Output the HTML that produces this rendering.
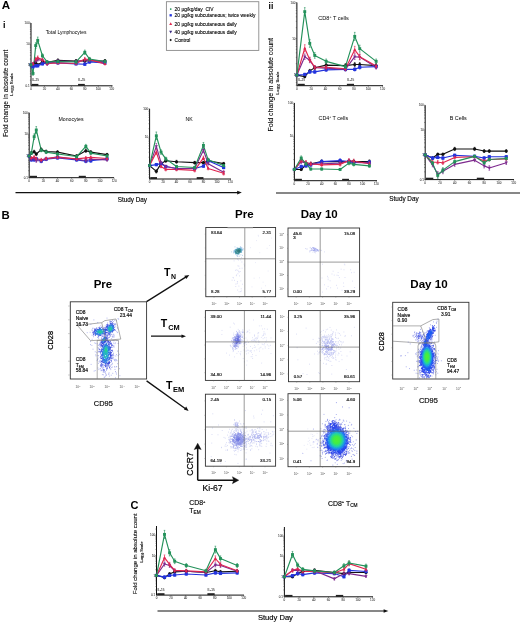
<!DOCTYPE html>
<html><head><meta charset="utf-8"><title>Figure</title>
<style>
html,body{margin:0;padding:0;background:#fff;}
body{width:520px;height:624px;overflow:hidden;}
svg{display:block;font-family:"Liberation Sans", sans-serif;filter:blur(0.3px);}
</style></head><body>
<svg width="520" height="624" viewBox="0 0 520 624" font-family='"Liberation Sans", sans-serif'>
<defs>
<filter id="soft" x="-5%" y="-5%" width="110%" height="110%"><feGaussianBlur stdDeviation="0.3"/></filter>
<radialGradient id="gblob"><stop offset="0" stop-color="#50f030"/><stop offset="0.28" stop-color="#40ec48"/><stop offset="0.48" stop-color="#22d8a0" stop-opacity="0.95"/><stop offset="0.66" stop-color="#1a98ea" stop-opacity="0.85"/><stop offset="0.84" stop-color="#2050f0" stop-opacity="0.45"/><stop offset="1" stop-color="#2040f0" stop-opacity="0"/></radialGradient>
<radialGradient id="gcore2"><stop offset="0" stop-color="#30e070"/><stop offset="0.5" stop-color="#20c0b0" stop-opacity="0.8"/><stop offset="1" stop-color="#2080e0" stop-opacity="0"/></radialGradient>
<radialGradient id="gcore"><stop offset="0" stop-color="#40e860"/><stop offset="0.45" stop-color="#28d890" stop-opacity="0.9"/><stop offset="0.8" stop-color="#1aa8e0" stop-opacity="0.5"/><stop offset="1" stop-color="#1a6ee8" stop-opacity="0"/></radialGradient>
</defs>
<rect width="520" height="624" fill="#fff"/>
<text x="1.80" y="9.20" font-size="11.6" text-anchor="start" font-weight="bold" fill="#000" >A</text>
<text x="2.90" y="27.80" font-size="9" text-anchor="start" font-weight="bold" fill="#000" >i</text>
<text x="268.50" y="9.20" font-size="8.6" text-anchor="start" font-weight="bold" fill="#000" >ii</text>
<text transform="translate(7.6 93.4) rotate(-90)" font-size="6.55" text-anchor="middle" stroke="#000" stroke-width="0.1">Fold change in absolute count</text>
<text transform="translate(13.2 84.5) rotate(-90)" font-size="4.3" text-anchor="middle" stroke="#000" stroke-width="0.12">Log<tspan font-size="2.8" dy="1">10</tspan><tspan dy="-1"> Scale</tspan></text>
<text transform="translate(273.2 84.8) rotate(-90)" font-size="7" text-anchor="middle" stroke="#000" stroke-width="0.1">Fold change in absolute count</text>
<text transform="translate(279.4 83) rotate(-90)" font-size="4.4" text-anchor="middle" stroke="#000" stroke-width="0.12">Log<tspan font-size="2.9" dy="1">10</tspan><tspan dy="-1"> Scale</tspan></text>
<rect x="166.4" y="1.7" width="92.4" height="48.7" fill="#fff" stroke="#8a8a8a" stroke-width="0.9"/>
<rect x="169.95" y="8.35" width="1.50" height="1.50" fill="#23915a"/>
<text x="174.60" y="10.85" font-size="4.9" text-anchor="start" fill="#000"  stroke="#000" stroke-width="0.098">20 µg/kg/day&#160;&#160;CIV</text>
<rect x="169.55" y="14.15" width="2.30" height="2.30" fill="#2233dd"/>
<text x="174.60" y="17.05" font-size="4.9" text-anchor="start" fill="#000"  stroke="#000" stroke-width="0.098">20 µg/kg subcutaneous; twice weekly</text>
<path d="M170.70 22.18L172.19 24.88L169.21 24.88Z" fill="#e0264f"/>
<text x="174.60" y="25.55" font-size="4.9" text-anchor="start" fill="#000"  stroke="#000" stroke-width="0.098">20 µg/kg subcutaneous daily</text>
<path d="M170.70 33.52L172.19 30.82L169.21 30.82Z" fill="#3a2a80"/>
<text x="174.60" y="33.65" font-size="4.9" text-anchor="start" fill="#000"  stroke="#000" stroke-width="0.098">40 µg/kg subcutaneous daily</text>
<path d="M170.7 38.75L171.95 40.00L170.7 41.25L169.45 40.00Z" fill="#111"/>
<text x="174.60" y="41.75" font-size="4.9" text-anchor="start" fill="#000"  stroke="#000" stroke-width="0.098">Control</text>
<path d="M31.00 23.00V85.80H112.50" stroke="#111" stroke-width="1" fill="none"/>
<path d="M29.90 23.00h1.1M29.90 44.20h1.1M29.90 37.82h1.1M29.90 34.09h1.1M29.90 31.44h1.1M29.90 29.38h1.1M29.90 27.70h1.1M29.90 26.28h1.1M29.90 25.05h1.1M29.90 23.97h1.1M29.90 65.40h1.1M29.90 59.02h1.1M29.90 55.29h1.1M29.90 52.64h1.1M29.90 50.58h1.1M29.90 48.90h1.1M29.90 47.48h1.1M29.90 46.25h1.1M29.90 45.17h1.1M29.90 80.22h1.1M29.90 76.49h1.1M29.90 73.84h1.1M29.90 71.78h1.1M29.90 70.10h1.1M29.90 68.68h1.1M29.90 67.45h1.1M29.90 66.37h1.1" stroke="#333" stroke-width="0.5"/>
<path d="M31.00 85.80v1.2M44.45 85.80v1.2M57.90 85.80v1.2M71.35 85.80v1.2M84.80 85.80v1.2M98.25 85.80v1.2M111.70 85.80v1.2" stroke="#333" stroke-width="0.5"/>
<text x="29.60" y="24.10" font-size="3" text-anchor="end" fill="#444"  stroke="#444" stroke-width="0.060">100</text>
<text x="29.60" y="45.30" font-size="3" text-anchor="end" fill="#444"  stroke="#444" stroke-width="0.060">10</text>
<text x="29.60" y="66.10" font-size="3" text-anchor="end" fill="#444"  stroke="#444" stroke-width="0.060">1</text>
<text x="29.60" y="86.90" font-size="3" text-anchor="end" fill="#444"  stroke="#444" stroke-width="0.060">0.1</text>
<text x="31.00" y="90.00" font-size="3" text-anchor="middle" fill="#444"  stroke="#444" stroke-width="0.060">0</text>
<text x="44.45" y="90.00" font-size="3" text-anchor="middle" fill="#444"  stroke="#444" stroke-width="0.060">20</text>
<text x="57.90" y="90.00" font-size="3" text-anchor="middle" fill="#444"  stroke="#444" stroke-width="0.060">40</text>
<text x="71.35" y="90.00" font-size="3" text-anchor="middle" fill="#444"  stroke="#444" stroke-width="0.060">60</text>
<text x="84.80" y="90.00" font-size="3" text-anchor="middle" fill="#444"  stroke="#444" stroke-width="0.060">80</text>
<text x="98.25" y="90.00" font-size="3" text-anchor="middle" fill="#444"  stroke="#444" stroke-width="0.060">100</text>
<text x="111.70" y="90.00" font-size="3" text-anchor="middle" fill="#444"  stroke="#444" stroke-width="0.060">120</text>
<rect x="31.67" y="83.90" width="6.72" height="1.9" fill="#222"/>
<text x="31.87" y="81.40" font-size="3.1" text-anchor="start" fill="#333"  stroke="#333" stroke-width="0.062">IL-15</text>
<rect x="78.07" y="83.90" width="6.72" height="1.9" fill="#222"/>
<text x="78.27" y="81.40" font-size="3.1" text-anchor="start" fill="#333"  stroke="#333" stroke-width="0.062">IL-15</text>
<path d="M31.00 64.81L33.02 64.81L35.71 62.88L37.73 64.81L42.43 61.92L47.14 62.31L57.90 60.38L76.06 60.96L84.80 60.96L89.51 60.96L104.97 60.96" stroke="#111111" stroke-width="1.15" fill="none" stroke-linejoin="round"/>
<path d="M31.00 64.81L33.02 66.73L35.71 65.77L37.73 65.77L42.43 63.85L47.14 62.88L57.90 62.88L76.06 63.85L84.80 64.23L89.51 61.92L104.97 62.88" stroke="#2233dd" stroke-width="1.15" fill="none" stroke-linejoin="round"/>
<path d="M31.00 64.81L33.02 63.85L35.71 60.96L37.73 59.62L42.43 60.38L47.14 64.23L57.90 60.96L76.06 61.54L84.80 60.38L89.51 60.00L104.97 61.92" stroke="#7e2a8e" stroke-width="1.15" fill="none" stroke-linejoin="round"/>
<path d="M31.00 64.81L33.02 63.85L35.71 59.04L37.73 57.69L42.43 59.62L47.14 63.46L57.90 62.88L76.06 63.46L84.80 59.04L89.51 59.62L104.97 63.85" stroke="#e0264f" stroke-width="1.15" fill="none" stroke-linejoin="round"/>
<path d="M31.00 64.81L33.02 73.46L35.71 45.58L37.73 40.38L42.43 55.77L47.14 61.92L57.90 61.54L76.06 61.92L84.80 52.31L89.51 59.04L104.97 61.54" stroke="#23915a" stroke-width="1.15" fill="none" stroke-linejoin="round"/>
<path d="M33.02 63.71V65.91M32.22 63.71h1.6M32.22 65.91h1.6M35.71 61.61V64.16M34.91 61.61h1.6M34.91 64.16h1.6M37.73 63.71V65.91M36.93 63.71h1.6M36.93 65.91h1.6M42.43 60.56V63.28M41.63 60.56h1.6M41.63 63.28h1.6M47.14 60.98V63.63M46.34 60.98h1.6M46.34 63.63h1.6M57.90 58.89V61.88M57.10 58.89h1.6M57.10 61.88h1.6M76.06 59.52V62.41M75.26 59.52h1.6M75.26 62.41h1.6M84.80 59.52V62.41M84.00 59.52h1.6M84.00 62.41h1.6M89.51 59.52V62.41M88.71 59.52h1.6M88.71 62.41h1.6M104.97 59.52V62.41M104.17 59.52h1.6M104.17 62.41h1.6" stroke="#111111" stroke-width="0.6" fill="none"/>
<circle cx="31.00" cy="64.81" r="1.59" fill="#111111"/>
<circle cx="33.02" cy="64.81" r="1.59" fill="#111111"/>
<circle cx="35.71" cy="62.88" r="1.59" fill="#111111"/>
<circle cx="37.73" cy="64.81" r="1.59" fill="#111111"/>
<circle cx="42.43" cy="61.92" r="1.59" fill="#111111"/>
<circle cx="47.14" cy="62.31" r="1.59" fill="#111111"/>
<circle cx="57.90" cy="60.38" r="1.59" fill="#111111"/>
<circle cx="76.06" cy="60.96" r="1.59" fill="#111111"/>
<circle cx="84.80" cy="60.96" r="1.59" fill="#111111"/>
<circle cx="89.51" cy="60.96" r="1.59" fill="#111111"/>
<circle cx="104.97" cy="60.96" r="1.59" fill="#111111"/>
<path d="M33.02 65.46V68.00M32.22 65.46h1.6M32.22 68.00h1.6M35.71 64.58V66.96M34.91 64.58h1.6M34.91 66.96h1.6M37.73 64.58V66.96M36.93 64.58h1.6M36.93 66.96h1.6M42.43 62.66V65.03M41.63 62.66h1.6M41.63 65.03h1.6M47.14 61.61V64.16M46.34 61.61h1.6M46.34 64.16h1.6M57.90 61.61V64.16M57.10 61.61h1.6M57.10 64.16h1.6M76.06 62.66V65.03M75.26 62.66h1.6M75.26 65.03h1.6M84.80 63.08V65.38M84.00 63.08h1.6M84.00 65.38h1.6M89.51 60.56V63.28M88.71 60.56h1.6M88.71 63.28h1.6M104.97 61.61V64.16M104.17 61.61h1.6M104.17 64.16h1.6" stroke="#2233dd" stroke-width="0.6" fill="none"/>
<rect x="29.41" y="63.21" width="3.19" height="3.19" fill="#2233dd"/>
<rect x="31.42" y="65.14" width="3.19" height="3.19" fill="#2233dd"/>
<rect x="34.11" y="64.17" width="3.19" height="3.19" fill="#2233dd"/>
<rect x="36.13" y="64.17" width="3.19" height="3.19" fill="#2233dd"/>
<rect x="40.84" y="62.25" width="3.19" height="3.19" fill="#2233dd"/>
<rect x="45.55" y="61.29" width="3.19" height="3.19" fill="#2233dd"/>
<rect x="56.30" y="61.29" width="3.19" height="3.19" fill="#2233dd"/>
<rect x="74.46" y="62.25" width="3.19" height="3.19" fill="#2233dd"/>
<rect x="83.20" y="62.64" width="3.19" height="3.19" fill="#2233dd"/>
<rect x="87.91" y="60.33" width="3.19" height="3.19" fill="#2233dd"/>
<rect x="103.38" y="61.29" width="3.19" height="3.19" fill="#2233dd"/>
<path d="M33.02 62.66V65.03M32.22 62.66h1.6M32.22 65.03h1.6M35.71 59.52V62.41M34.91 59.52h1.6M34.91 62.41h1.6M37.73 58.05V61.18M36.93 58.05h1.6M36.93 61.18h1.6M42.43 58.89V61.88M41.63 58.89h1.6M41.63 61.88h1.6M47.14 63.08V65.38M46.34 63.08h1.6M46.34 65.38h1.6M57.90 59.52V62.41M57.10 59.52h1.6M57.10 62.41h1.6M76.06 60.14V62.93M75.26 60.14h1.6M75.26 62.93h1.6M84.80 58.89V61.88M84.00 58.89h1.6M84.00 61.88h1.6M89.51 58.47V61.53M88.71 58.47h1.6M88.71 61.53h1.6M104.97 60.56V63.28M104.17 60.56h1.6M104.17 63.28h1.6" stroke="#7e2a8e" stroke-width="0.6" fill="none"/>
<path d="M31.00 66.55L32.59 63.65L29.41 63.65Z" fill="#7e2a8e"/>
<path d="M33.02 65.59L34.61 62.69L31.42 62.69Z" fill="#7e2a8e"/>
<path d="M35.71 62.70L37.30 59.80L34.11 59.80Z" fill="#7e2a8e"/>
<path d="M37.73 61.36L39.32 58.46L36.13 58.46Z" fill="#7e2a8e"/>
<path d="M42.43 62.12L44.03 59.22L40.84 59.22Z" fill="#7e2a8e"/>
<path d="M47.14 65.97L48.73 63.07L45.55 63.07Z" fill="#7e2a8e"/>
<path d="M57.90 62.70L59.49 59.80L56.30 59.80Z" fill="#7e2a8e"/>
<path d="M76.06 63.28L77.65 60.38L74.46 60.38Z" fill="#7e2a8e"/>
<path d="M84.80 62.12L86.39 59.22L83.20 59.22Z" fill="#7e2a8e"/>
<path d="M89.51 61.74L91.10 58.84L87.91 58.84Z" fill="#7e2a8e"/>
<path d="M104.97 63.66L106.57 60.76L103.38 60.76Z" fill="#7e2a8e"/>
<path d="M33.02 62.66V65.03M32.22 62.66h1.6M32.22 65.03h1.6M35.71 57.42V60.66M34.91 57.42h1.6M34.91 60.66h1.6M37.73 55.95V59.43M36.93 55.95h1.6M36.93 59.43h1.6M42.43 58.05V61.18M41.63 58.05h1.6M41.63 61.18h1.6M47.14 62.24V64.68M46.34 62.24h1.6M46.34 64.68h1.6M57.90 61.61V64.16M57.10 61.61h1.6M57.10 64.16h1.6M76.06 62.24V64.68M75.26 62.24h1.6M75.26 64.68h1.6M84.80 57.42V60.66M84.00 57.42h1.6M84.00 60.66h1.6M89.51 58.05V61.18M88.71 58.05h1.6M88.71 61.18h1.6M104.97 62.66V65.03M104.17 62.66h1.6M104.17 65.03h1.6" stroke="#e0264f" stroke-width="0.6" fill="none"/>
<path d="M31.00 63.07L32.59 65.97L29.41 65.97Z" fill="#e0264f"/>
<path d="M33.02 62.11L34.61 65.01L31.42 65.01Z" fill="#e0264f"/>
<path d="M35.71 57.30L37.30 60.20L34.11 60.20Z" fill="#e0264f"/>
<path d="M37.73 55.95L39.32 58.85L36.13 58.85Z" fill="#e0264f"/>
<path d="M42.43 57.88L44.03 60.78L40.84 60.78Z" fill="#e0264f"/>
<path d="M47.14 61.72L48.73 64.62L45.55 64.62Z" fill="#e0264f"/>
<path d="M57.90 61.14L59.49 64.04L56.30 64.04Z" fill="#e0264f"/>
<path d="M76.06 61.72L77.65 64.62L74.46 64.62Z" fill="#e0264f"/>
<path d="M84.80 57.30L86.39 60.20L83.20 60.20Z" fill="#e0264f"/>
<path d="M89.51 57.88L91.10 60.78L87.91 60.78Z" fill="#e0264f"/>
<path d="M104.97 62.11L106.57 65.01L103.38 65.01Z" fill="#e0264f"/>
<path d="M33.02 71.58V75.34M32.22 71.58h1.6M32.22 75.34h1.6M35.71 42.75V48.41M34.91 42.75h1.6M34.91 48.41h1.6M37.73 37.09V43.68M36.93 37.09h1.6M36.93 43.68h1.6M42.43 53.86V57.68M41.63 53.86h1.6M41.63 57.68h1.6M47.14 60.56V63.28M46.34 60.56h1.6M46.34 63.28h1.6M57.90 60.14V62.93M57.10 60.14h1.6M57.10 62.93h1.6M76.06 60.56V63.28M75.26 60.56h1.6M75.26 63.28h1.6M84.80 50.08V54.53M84.00 50.08h1.6M84.00 54.53h1.6M89.51 57.42V60.66M88.71 57.42h1.6M88.71 60.66h1.6M104.97 60.14V62.93M104.17 60.14h1.6M104.17 62.93h1.6" stroke="#23915a" stroke-width="0.6" fill="none"/>
<rect x="29.55" y="63.36" width="2.90" height="2.90" fill="#23915a"/>
<rect x="31.57" y="72.01" width="2.90" height="2.90" fill="#23915a"/>
<rect x="34.26" y="44.13" width="2.90" height="2.90" fill="#23915a"/>
<rect x="36.27" y="38.93" width="2.90" height="2.90" fill="#23915a"/>
<rect x="40.98" y="54.32" width="2.90" height="2.90" fill="#23915a"/>
<rect x="45.69" y="60.47" width="2.90" height="2.90" fill="#23915a"/>
<rect x="56.45" y="60.09" width="2.90" height="2.90" fill="#23915a"/>
<rect x="74.61" y="60.47" width="2.90" height="2.90" fill="#23915a"/>
<rect x="83.35" y="50.86" width="2.90" height="2.90" fill="#23915a"/>
<rect x="88.06" y="57.59" width="2.90" height="2.90" fill="#23915a"/>
<rect x="103.52" y="60.09" width="2.90" height="2.90" fill="#23915a"/>
<text x="66.00" y="34.00" font-size="4.95" text-anchor="middle">Total Lymphocytes</text>
<path d="M29.20 112.70V177.70H114.00" stroke="#111" stroke-width="1" fill="none"/>
<path d="M28.10 112.70h1.1M28.10 134.20h1.1M28.10 127.73h1.1M28.10 123.94h1.1M28.10 121.26h1.1M28.10 119.17h1.1M28.10 117.47h1.1M28.10 116.03h1.1M28.10 114.78h1.1M28.10 113.68h1.1M28.10 155.70h1.1M28.10 149.23h1.1M28.10 145.44h1.1M28.10 142.76h1.1M28.10 140.67h1.1M28.10 138.97h1.1M28.10 137.53h1.1M28.10 136.28h1.1M28.10 135.18h1.1M28.10 177.20h1.1M28.10 170.73h1.1M28.10 166.94h1.1M28.10 164.26h1.1M28.10 162.17h1.1M28.10 160.47h1.1M28.10 159.03h1.1M28.10 157.78h1.1M28.10 156.68h1.1" stroke="#333" stroke-width="0.5"/>
<path d="M29.20 177.70v1.2M43.36 177.70v1.2M57.52 177.70v1.2M71.68 177.70v1.2M85.84 177.70v1.2M100.00 177.70v1.2M114.16 177.70v1.2" stroke="#333" stroke-width="0.5"/>
<text x="27.80" y="113.80" font-size="3" text-anchor="end" fill="#444"  stroke="#444" stroke-width="0.060">100</text>
<text x="27.80" y="135.30" font-size="3" text-anchor="end" fill="#444"  stroke="#444" stroke-width="0.060">10</text>
<text x="27.80" y="157.10" font-size="3" text-anchor="end" fill="#444"  stroke="#444" stroke-width="0.060">1</text>
<text x="27.80" y="178.80" font-size="3" text-anchor="end" fill="#444"  stroke="#444" stroke-width="0.060">0.1</text>
<text x="29.20" y="181.90" font-size="3" text-anchor="middle" fill="#444"  stroke="#444" stroke-width="0.060">0</text>
<text x="43.36" y="181.90" font-size="3" text-anchor="middle" fill="#444"  stroke="#444" stroke-width="0.060">20</text>
<text x="57.52" y="181.90" font-size="3" text-anchor="middle" fill="#444"  stroke="#444" stroke-width="0.060">40</text>
<text x="71.68" y="181.90" font-size="3" text-anchor="middle" fill="#444"  stroke="#444" stroke-width="0.060">60</text>
<text x="85.84" y="181.90" font-size="3" text-anchor="middle" fill="#444"  stroke="#444" stroke-width="0.060">80</text>
<text x="100.00" y="181.90" font-size="3" text-anchor="middle" fill="#444"  stroke="#444" stroke-width="0.060">100</text>
<text x="114.16" y="181.90" font-size="3" text-anchor="middle" fill="#444"  stroke="#444" stroke-width="0.060">120</text>
<rect x="29.91" y="175.80" width="7.08" height="1.9" fill="#222"/>
<rect x="78.76" y="175.80" width="7.08" height="1.9" fill="#222"/>
<path d="M29.20 155.96L31.32 153.08L34.16 151.73L36.28 154.04L41.24 149.62L46.19 151.54L57.52 152.12L76.64 155.96L85.84 150.77L90.80 152.12L107.08 154.62" stroke="#111111" stroke-width="1.15" fill="none" stroke-linejoin="round"/>
<path d="M29.20 155.96L31.32 159.81L34.16 159.81L36.28 158.85L41.24 161.15L46.19 159.23L57.52 157.88L76.64 159.81L85.84 161.15L90.80 160.77L107.08 158.85" stroke="#2233dd" stroke-width="1.15" fill="none" stroke-linejoin="round"/>
<path d="M29.20 155.96L31.32 159.23L34.16 158.85L36.28 160.77L41.24 160.77L46.19 158.85L57.52 156.92L76.64 159.23L85.84 160.77L90.80 159.23L107.08 159.81" stroke="#7e2a8e" stroke-width="1.15" fill="none" stroke-linejoin="round"/>
<path d="M29.20 155.96L31.32 157.88L34.16 156.92L36.28 158.46L41.24 159.81L46.19 158.46L57.52 157.31L76.64 158.85L85.84 157.88L90.80 157.31L107.08 158.46" stroke="#e0264f" stroke-width="1.15" fill="none" stroke-linejoin="round"/>
<path d="M29.20 155.96L31.32 153.08L34.16 136.73L36.28 130.00L41.24 150.19L46.19 152.12L57.52 154.04L76.64 156.54L85.84 146.35L90.80 153.08L107.08 155.96" stroke="#23915a" stroke-width="1.15" fill="none" stroke-linejoin="round"/>
<path d="M31.32 151.72V154.44M30.52 151.72h1.6M30.52 154.44h1.6M34.16 150.25V153.21M33.36 150.25h1.6M33.36 153.21h1.6M36.28 152.77V155.31M35.48 152.77h1.6M35.48 155.31h1.6M41.24 147.94V151.29M40.44 147.94h1.6M40.44 151.29h1.6M46.19 150.04V153.04M45.39 150.04h1.6M45.39 153.04h1.6M57.52 150.67V153.56M56.72 150.67h1.6M56.72 153.56h1.6M76.64 154.86V157.06M75.84 154.86h1.6M75.84 157.06h1.6M85.84 149.20V152.34M85.04 149.20h1.6M85.04 152.34h1.6M90.80 150.67V153.56M90.00 150.67h1.6M90.00 153.56h1.6M107.08 153.39V155.84M106.28 153.39h1.6M106.28 155.84h1.6" stroke="#111111" stroke-width="0.6" fill="none"/>
<circle cx="29.20" cy="155.96" r="1.59" fill="#111111"/>
<circle cx="31.32" cy="153.08" r="1.59" fill="#111111"/>
<circle cx="34.16" cy="151.73" r="1.59" fill="#111111"/>
<circle cx="36.28" cy="154.04" r="1.59" fill="#111111"/>
<circle cx="41.24" cy="149.62" r="1.59" fill="#111111"/>
<circle cx="46.19" cy="151.54" r="1.59" fill="#111111"/>
<circle cx="57.52" cy="152.12" r="1.59" fill="#111111"/>
<circle cx="76.64" cy="155.96" r="1.59" fill="#111111"/>
<circle cx="85.84" cy="150.77" r="1.59" fill="#111111"/>
<circle cx="90.80" cy="152.12" r="1.59" fill="#111111"/>
<circle cx="107.08" cy="154.62" r="1.59" fill="#111111"/>
<path d="M31.32 158.36V161.25M30.52 158.36h1.6M30.52 161.25h1.6M34.16 158.36V161.25M33.36 158.36h1.6M33.36 161.25h1.6M36.28 157.49V160.21M35.48 157.49h1.6M35.48 160.21h1.6M41.24 159.59V162.72M40.44 159.59h1.6M40.44 162.72h1.6M46.19 157.84V160.62M45.39 157.84h1.6M45.39 160.62h1.6M57.52 156.61V159.16M56.72 156.61h1.6M56.72 159.16h1.6M76.64 158.36V161.25M75.84 158.36h1.6M75.84 161.25h1.6M85.84 159.59V162.72M85.04 159.59h1.6M85.04 162.72h1.6M90.80 159.24V162.30M90.00 159.24h1.6M90.00 162.30h1.6M107.08 157.49V160.21M106.28 157.49h1.6M106.28 160.21h1.6" stroke="#2233dd" stroke-width="0.6" fill="none"/>
<rect x="27.61" y="154.37" width="3.19" height="3.19" fill="#2233dd"/>
<rect x="29.73" y="158.21" width="3.19" height="3.19" fill="#2233dd"/>
<rect x="32.56" y="158.21" width="3.19" height="3.19" fill="#2233dd"/>
<rect x="34.69" y="157.25" width="3.19" height="3.19" fill="#2233dd"/>
<rect x="39.64" y="159.56" width="3.19" height="3.19" fill="#2233dd"/>
<rect x="44.60" y="157.64" width="3.19" height="3.19" fill="#2233dd"/>
<rect x="55.92" y="156.29" width="3.19" height="3.19" fill="#2233dd"/>
<rect x="75.04" y="158.21" width="3.19" height="3.19" fill="#2233dd"/>
<rect x="84.25" y="159.56" width="3.19" height="3.19" fill="#2233dd"/>
<rect x="89.20" y="159.17" width="3.19" height="3.19" fill="#2233dd"/>
<rect x="105.48" y="157.25" width="3.19" height="3.19" fill="#2233dd"/>
<path d="M31.32 157.84V160.62M30.52 157.84h1.6M30.52 160.62h1.6M34.16 157.49V160.21M33.36 157.49h1.6M33.36 160.21h1.6M36.28 159.24V162.30M35.48 159.24h1.6M35.48 162.30h1.6M41.24 159.24V162.30M40.44 159.24h1.6M40.44 162.30h1.6M46.19 157.49V160.21M45.39 157.49h1.6M45.39 160.21h1.6M57.52 155.74V158.11M56.72 155.74h1.6M56.72 158.11h1.6M76.64 157.84V160.62M75.84 157.84h1.6M75.84 160.62h1.6M85.84 159.24V162.30M85.04 159.24h1.6M85.04 162.30h1.6M90.80 157.84V160.62M90.00 157.84h1.6M90.00 160.62h1.6M107.08 158.36V161.25M106.28 158.36h1.6M106.28 161.25h1.6" stroke="#7e2a8e" stroke-width="0.6" fill="none"/>
<path d="M29.20 157.70L30.79 154.80L27.61 154.80Z" fill="#7e2a8e"/>
<path d="M31.32 160.97L32.92 158.07L29.73 158.07Z" fill="#7e2a8e"/>
<path d="M34.16 160.59L35.75 157.69L32.56 157.69Z" fill="#7e2a8e"/>
<path d="M36.28 162.51L37.88 159.61L34.69 159.61Z" fill="#7e2a8e"/>
<path d="M41.24 162.51L42.83 159.61L39.64 159.61Z" fill="#7e2a8e"/>
<path d="M46.19 160.59L47.79 157.69L44.60 157.69Z" fill="#7e2a8e"/>
<path d="M57.52 158.66L59.11 155.76L55.92 155.76Z" fill="#7e2a8e"/>
<path d="M76.64 160.97L78.23 158.07L75.04 158.07Z" fill="#7e2a8e"/>
<path d="M85.84 162.51L87.44 159.61L84.25 159.61Z" fill="#7e2a8e"/>
<path d="M90.80 160.97L92.39 158.07L89.20 158.07Z" fill="#7e2a8e"/>
<path d="M107.08 161.55L108.67 158.65L105.48 158.65Z" fill="#7e2a8e"/>
<path d="M31.32 156.61V159.16M30.52 156.61h1.6M30.52 159.16h1.6M34.16 155.74V158.11M33.36 155.74h1.6M33.36 158.11h1.6M36.28 157.14V159.79M35.48 157.14h1.6M35.48 159.79h1.6M41.24 158.36V161.25M40.44 158.36h1.6M40.44 161.25h1.6M46.19 157.14V159.79M45.39 157.14h1.6M45.39 159.79h1.6M57.52 156.09V158.53M56.72 156.09h1.6M56.72 158.53h1.6M76.64 157.49V160.21M75.84 157.49h1.6M75.84 160.21h1.6M85.84 156.61V159.16M85.04 156.61h1.6M85.04 159.16h1.6M90.80 156.09V158.53M90.00 156.09h1.6M90.00 158.53h1.6M107.08 157.14V159.79M106.28 157.14h1.6M106.28 159.79h1.6" stroke="#e0264f" stroke-width="0.6" fill="none"/>
<path d="M29.20 154.22L30.79 157.12L27.61 157.12Z" fill="#e0264f"/>
<path d="M31.32 156.14L32.92 159.04L29.73 159.04Z" fill="#e0264f"/>
<path d="M34.16 155.18L35.75 158.08L32.56 158.08Z" fill="#e0264f"/>
<path d="M36.28 156.72L37.88 159.62L34.69 159.62Z" fill="#e0264f"/>
<path d="M41.24 158.07L42.83 160.97L39.64 160.97Z" fill="#e0264f"/>
<path d="M46.19 156.72L47.79 159.62L44.60 159.62Z" fill="#e0264f"/>
<path d="M57.52 155.57L59.11 158.47L55.92 158.47Z" fill="#e0264f"/>
<path d="M76.64 157.11L78.23 160.01L75.04 160.01Z" fill="#e0264f"/>
<path d="M85.84 156.14L87.44 159.04L84.25 159.04Z" fill="#e0264f"/>
<path d="M90.80 155.57L92.39 158.47L89.20 158.47Z" fill="#e0264f"/>
<path d="M107.08 156.72L108.67 159.62L105.48 159.62Z" fill="#e0264f"/>
<path d="M31.32 151.72V154.44M30.52 151.72h1.6M30.52 154.44h1.6M34.16 133.90V139.56M33.36 133.90h1.6M33.36 139.56h1.6M36.28 126.56V133.44M35.48 126.56h1.6M35.48 133.44h1.6M41.24 148.57V151.81M40.44 148.57h1.6M40.44 151.81h1.6M46.19 150.67V153.56M45.39 150.67h1.6M45.39 153.56h1.6M57.52 152.77V155.31M56.72 152.77h1.6M56.72 155.31h1.6M76.64 155.39V157.69M75.84 155.39h1.6M75.84 157.69h1.6M85.84 144.38V148.31M85.04 144.38h1.6M85.04 148.31h1.6M90.80 151.72V154.44M90.00 151.72h1.6M90.00 154.44h1.6M107.08 154.86V157.06M106.28 154.86h1.6M106.28 157.06h1.6" stroke="#23915a" stroke-width="0.6" fill="none"/>
<rect x="27.75" y="154.51" width="2.90" height="2.90" fill="#23915a"/>
<rect x="29.87" y="151.63" width="2.90" height="2.90" fill="#23915a"/>
<rect x="32.71" y="135.28" width="2.90" height="2.90" fill="#23915a"/>
<rect x="34.83" y="128.55" width="2.90" height="2.90" fill="#23915a"/>
<rect x="39.79" y="148.74" width="2.90" height="2.90" fill="#23915a"/>
<rect x="44.74" y="150.67" width="2.90" height="2.90" fill="#23915a"/>
<rect x="56.07" y="152.59" width="2.90" height="2.90" fill="#23915a"/>
<rect x="75.19" y="155.09" width="2.90" height="2.90" fill="#23915a"/>
<rect x="84.39" y="144.90" width="2.90" height="2.90" fill="#23915a"/>
<rect x="89.35" y="151.63" width="2.90" height="2.90" fill="#23915a"/>
<rect x="105.63" y="154.51" width="2.90" height="2.90" fill="#23915a"/>
<text x="71.00" y="120.60" font-size="5.2" text-anchor="middle">Monocytes</text>
<path d="M149.60 108.80V179.00H231.00" stroke="#111" stroke-width="1" fill="none"/>
<path d="M148.50 108.80h1.1M148.50 137.30h1.1M148.50 128.72h1.1M148.50 123.70h1.1M148.50 120.14h1.1M148.50 117.38h1.1M148.50 115.12h1.1M148.50 113.21h1.1M148.50 111.56h1.1M148.50 110.10h1.1M148.50 165.80h1.1M148.50 157.22h1.1M148.50 152.20h1.1M148.50 148.64h1.1M148.50 145.88h1.1M148.50 143.62h1.1M148.50 141.71h1.1M148.50 140.06h1.1M148.50 138.60h1.1M148.50 177.14h1.1M148.50 174.38h1.1M148.50 172.12h1.1M148.50 170.21h1.1M148.50 168.56h1.1M148.50 167.10h1.1" stroke="#333" stroke-width="0.5"/>
<path d="M149.60 179.00v1.2M163.06 179.00v1.2M176.52 179.00v1.2M189.98 179.00v1.2M203.44 179.00v1.2M216.90 179.00v1.2M230.36 179.00v1.2" stroke="#333" stroke-width="0.5"/>
<text x="148.20" y="109.90" font-size="3" text-anchor="end" fill="#444"  stroke="#444" stroke-width="0.060">100</text>
<text x="148.20" y="138.40" font-size="3" text-anchor="end" fill="#444"  stroke="#444" stroke-width="0.060">10</text>
<text x="149.60" y="183.20" font-size="3" text-anchor="middle" fill="#444"  stroke="#444" stroke-width="0.060">0</text>
<text x="163.06" y="183.20" font-size="3" text-anchor="middle" fill="#444"  stroke="#444" stroke-width="0.060">20</text>
<text x="176.52" y="183.20" font-size="3" text-anchor="middle" fill="#444"  stroke="#444" stroke-width="0.060">40</text>
<text x="189.98" y="183.20" font-size="3" text-anchor="middle" fill="#444"  stroke="#444" stroke-width="0.060">60</text>
<text x="203.44" y="183.20" font-size="3" text-anchor="middle" fill="#444"  stroke="#444" stroke-width="0.060">80</text>
<text x="216.90" y="183.20" font-size="3" text-anchor="middle" fill="#444"  stroke="#444" stroke-width="0.060">100</text>
<text x="230.36" y="183.20" font-size="3" text-anchor="middle" fill="#444"  stroke="#444" stroke-width="0.060">120</text>
<rect x="150.27" y="177.10" width="6.73" height="1.9" fill="#222"/>
<rect x="196.71" y="177.10" width="6.73" height="1.9" fill="#222"/>
<path d="M149.60 165.58L156.33 171.35L161.04 163.65L165.75 160.77L176.52 161.73L194.69 162.69L203.44 162.69L208.15 160.77L223.63 163.65" stroke="#111111" stroke-width="1.15" fill="none" stroke-linejoin="round"/>
<path d="M149.60 165.58L156.33 164.62L161.04 163.65L165.75 166.54L176.52 168.46L194.69 168.46L203.44 166.15L208.15 160.77L223.63 167.50" stroke="#2233dd" stroke-width="1.15" fill="none" stroke-linejoin="round"/>
<path d="M149.60 165.58L156.33 146.35L161.04 162.69L165.75 166.54L176.52 168.46L194.69 168.46L203.44 150.19L208.15 163.65L223.63 172.31" stroke="#7e2a8e" stroke-width="1.15" fill="none" stroke-linejoin="round"/>
<path d="M149.60 165.58L156.33 152.12L161.04 166.54L165.75 169.42L176.52 169.42L194.69 170.38L203.44 157.88L208.15 168.46L223.63 173.27" stroke="#e0264f" stroke-width="1.15" fill="none" stroke-linejoin="round"/>
<path d="M149.60 165.58L156.33 135.77L161.04 152.12L165.75 158.85L176.52 166.54L194.69 167.50L203.44 145.38L208.15 159.81L223.63 165.58" stroke="#23915a" stroke-width="1.15" fill="none" stroke-linejoin="round"/>
<path d="M156.33 169.73V172.97M155.53 169.73h1.6M155.53 172.97h1.6M161.04 162.38V164.93M160.24 162.38h1.6M160.24 164.93h1.6M165.75 159.24V162.30M164.95 159.24h1.6M164.95 162.30h1.6M176.52 160.28V163.18M175.72 160.28h1.6M175.72 163.18h1.6M194.69 161.33V164.05M193.89 161.33h1.6M193.89 164.05h1.6M203.44 161.33V164.05M202.64 161.33h1.6M202.64 164.05h1.6M208.15 159.24V162.30M207.35 159.24h1.6M207.35 162.30h1.6M223.63 162.38V164.93M222.83 162.38h1.6M222.83 164.93h1.6" stroke="#111111" stroke-width="0.6" fill="none"/>
<circle cx="149.60" cy="165.58" r="1.59" fill="#111111"/>
<circle cx="156.33" cy="171.35" r="1.59" fill="#111111"/>
<circle cx="161.04" cy="163.65" r="1.59" fill="#111111"/>
<circle cx="165.75" cy="160.77" r="1.59" fill="#111111"/>
<circle cx="176.52" cy="161.73" r="1.59" fill="#111111"/>
<circle cx="194.69" cy="162.69" r="1.59" fill="#111111"/>
<circle cx="203.44" cy="162.69" r="1.59" fill="#111111"/>
<circle cx="208.15" cy="160.77" r="1.59" fill="#111111"/>
<circle cx="223.63" cy="163.65" r="1.59" fill="#111111"/>
<path d="M156.33 163.43V165.80M155.53 163.43h1.6M155.53 165.80h1.6M161.04 162.38V164.93M160.24 162.38h1.6M160.24 164.93h1.6M165.75 165.35V167.73M164.95 165.35h1.6M164.95 167.73h1.6M176.52 167.10V169.82M175.72 167.10h1.6M175.72 169.82h1.6M194.69 167.10V169.82M193.89 167.10h1.6M193.89 169.82h1.6M203.44 165.00V167.31M202.64 165.00h1.6M202.64 167.31h1.6M208.15 159.24V162.30M207.35 159.24h1.6M207.35 162.30h1.6M223.63 166.23V168.77M222.83 166.23h1.6M222.83 168.77h1.6" stroke="#2233dd" stroke-width="0.6" fill="none"/>
<rect x="148.00" y="163.98" width="3.19" height="3.19" fill="#2233dd"/>
<rect x="154.73" y="163.02" width="3.19" height="3.19" fill="#2233dd"/>
<rect x="159.45" y="162.06" width="3.19" height="3.19" fill="#2233dd"/>
<rect x="164.16" y="164.94" width="3.19" height="3.19" fill="#2233dd"/>
<rect x="174.92" y="166.87" width="3.19" height="3.19" fill="#2233dd"/>
<rect x="193.10" y="166.87" width="3.19" height="3.19" fill="#2233dd"/>
<rect x="201.84" y="164.56" width="3.19" height="3.19" fill="#2233dd"/>
<rect x="206.56" y="159.17" width="3.19" height="3.19" fill="#2233dd"/>
<rect x="222.03" y="165.91" width="3.19" height="3.19" fill="#2233dd"/>
<path d="M156.33 143.52V149.18M155.53 143.52h1.6M155.53 149.18h1.6M161.04 161.33V164.05M160.24 161.33h1.6M160.24 164.05h1.6M165.75 165.35V167.73M164.95 165.35h1.6M164.95 167.73h1.6M176.52 167.10V169.82M175.72 167.10h1.6M175.72 169.82h1.6M194.69 167.10V169.82M193.89 167.10h1.6M193.89 169.82h1.6M203.44 147.71V152.68M202.64 147.71h1.6M202.64 152.68h1.6M208.15 162.38V164.93M207.35 162.38h1.6M207.35 164.93h1.6M223.63 170.60V174.01M222.83 170.60h1.6M222.83 174.01h1.6" stroke="#7e2a8e" stroke-width="0.6" fill="none"/>
<path d="M149.60 167.32L151.19 164.42L148.00 164.42Z" fill="#7e2a8e"/>
<path d="M156.33 148.09L157.92 145.19L154.73 145.19Z" fill="#7e2a8e"/>
<path d="M161.04 164.43L162.64 161.53L159.45 161.53Z" fill="#7e2a8e"/>
<path d="M165.75 168.28L167.35 165.38L164.16 165.38Z" fill="#7e2a8e"/>
<path d="M176.52 170.20L178.11 167.30L174.92 167.30Z" fill="#7e2a8e"/>
<path d="M194.69 170.20L196.29 167.30L193.10 167.30Z" fill="#7e2a8e"/>
<path d="M203.44 151.93L205.03 149.03L201.84 149.03Z" fill="#7e2a8e"/>
<path d="M208.15 165.39L209.75 162.49L206.56 162.49Z" fill="#7e2a8e"/>
<path d="M223.63 174.05L225.22 171.15L222.03 171.15Z" fill="#7e2a8e"/>
<path d="M156.33 149.80V154.43M155.53 149.80h1.6M155.53 154.43h1.6M161.04 165.35V167.73M160.24 165.35h1.6M160.24 167.73h1.6M165.75 167.98V170.87M164.95 167.98h1.6M164.95 170.87h1.6M176.52 167.98V170.87M175.72 167.98h1.6M175.72 170.87h1.6M194.69 168.85V171.92M193.89 168.85h1.6M193.89 171.92h1.6M203.44 156.09V159.68M202.64 156.09h1.6M202.64 159.68h1.6M208.15 167.10V169.82M207.35 167.10h1.6M207.35 169.82h1.6M223.63 171.48V175.06M222.83 171.48h1.6M222.83 175.06h1.6" stroke="#e0264f" stroke-width="0.6" fill="none"/>
<path d="M149.60 163.84L151.19 166.74L148.00 166.74Z" fill="#e0264f"/>
<path d="M156.33 150.38L157.92 153.28L154.73 153.28Z" fill="#e0264f"/>
<path d="M161.04 164.80L162.64 167.70L159.45 167.70Z" fill="#e0264f"/>
<path d="M165.75 167.68L167.35 170.58L164.16 170.58Z" fill="#e0264f"/>
<path d="M176.52 167.68L178.11 170.58L174.92 170.58Z" fill="#e0264f"/>
<path d="M194.69 168.64L196.29 171.54L193.10 171.54Z" fill="#e0264f"/>
<path d="M203.44 156.14L205.03 159.04L201.84 159.04Z" fill="#e0264f"/>
<path d="M208.15 166.72L209.75 169.62L206.56 169.62Z" fill="#e0264f"/>
<path d="M223.63 171.53L225.22 174.43L222.03 174.43Z" fill="#e0264f"/>
<path d="M156.33 131.99V139.55M155.53 131.99h1.6M155.53 139.55h1.6M161.04 149.80V154.43M160.24 149.80h1.6M160.24 154.43h1.6M165.75 157.14V160.55M164.95 157.14h1.6M164.95 160.55h1.6M176.52 165.35V167.73M175.72 165.35h1.6M175.72 167.73h1.6M194.69 166.23V168.77M193.89 166.23h1.6M193.89 168.77h1.6M203.44 142.47V148.30M202.64 142.47h1.6M202.64 148.30h1.6M208.15 158.19V161.43M207.35 158.19h1.6M207.35 161.43h1.6M223.63 164.48V166.68M222.83 164.48h1.6M222.83 166.68h1.6" stroke="#23915a" stroke-width="0.6" fill="none"/>
<rect x="148.15" y="164.13" width="2.90" height="2.90" fill="#23915a"/>
<rect x="154.88" y="134.32" width="2.90" height="2.90" fill="#23915a"/>
<rect x="159.59" y="150.67" width="2.90" height="2.90" fill="#23915a"/>
<rect x="164.30" y="157.40" width="2.90" height="2.90" fill="#23915a"/>
<rect x="175.07" y="165.09" width="2.90" height="2.90" fill="#23915a"/>
<rect x="193.24" y="166.05" width="2.90" height="2.90" fill="#23915a"/>
<rect x="201.99" y="143.93" width="2.90" height="2.90" fill="#23915a"/>
<rect x="206.70" y="158.36" width="2.90" height="2.90" fill="#23915a"/>
<rect x="222.18" y="164.13" width="2.90" height="2.90" fill="#23915a"/>
<text x="189.00" y="120.60" font-size="5.2" text-anchor="middle">NK</text>
<path d="M296.90 2.50V85.70H383.00" stroke="#111" stroke-width="1" fill="none"/>
<path d="M295.80 2.50h1.1M295.80 38.50h1.1M295.80 27.66h1.1M295.80 21.32h1.1M295.80 16.83h1.1M295.80 13.34h1.1M295.80 10.49h1.1M295.80 8.08h1.1M295.80 5.99h1.1M295.80 4.15h1.1M295.80 74.50h1.1M295.80 63.66h1.1M295.80 57.32h1.1M295.80 52.83h1.1M295.80 49.34h1.1M295.80 46.49h1.1M295.80 44.08h1.1M295.80 41.99h1.1M295.80 40.15h1.1M295.80 85.34h1.1M295.80 82.49h1.1M295.80 80.08h1.1M295.80 77.99h1.1M295.80 76.15h1.1" stroke="#333" stroke-width="0.5"/>
<path d="M296.90 85.70v1.2M311.18 85.70v1.2M325.46 85.70v1.2M339.74 85.70v1.2M354.02 85.70v1.2M368.30 85.70v1.2M382.58 85.70v1.2" stroke="#333" stroke-width="0.5"/>
<text x="295.50" y="3.60" font-size="3" text-anchor="end" fill="#444"  stroke="#444" stroke-width="0.060">100</text>
<text x="295.50" y="39.60" font-size="3" text-anchor="end" fill="#444"  stroke="#444" stroke-width="0.060">10</text>
<text x="295.50" y="76.10" font-size="3" text-anchor="end" fill="#444"  stroke="#444" stroke-width="0.060">1</text>
<text x="296.90" y="89.90" font-size="3" text-anchor="middle" fill="#444"  stroke="#444" stroke-width="0.060">0</text>
<text x="311.18" y="89.90" font-size="3" text-anchor="middle" fill="#444"  stroke="#444" stroke-width="0.060">20</text>
<text x="325.46" y="89.90" font-size="3" text-anchor="middle" fill="#444"  stroke="#444" stroke-width="0.060">40</text>
<text x="339.74" y="89.90" font-size="3" text-anchor="middle" fill="#444"  stroke="#444" stroke-width="0.060">60</text>
<text x="354.02" y="89.90" font-size="3" text-anchor="middle" fill="#444"  stroke="#444" stroke-width="0.060">80</text>
<text x="368.30" y="89.90" font-size="3" text-anchor="middle" fill="#444"  stroke="#444" stroke-width="0.060">100</text>
<text x="382.58" y="89.90" font-size="3" text-anchor="middle" fill="#444"  stroke="#444" stroke-width="0.060">120</text>
<rect x="297.61" y="83.80" width="7.14" height="1.9" fill="#222"/>
<text x="297.81" y="81.30" font-size="3.1" text-anchor="start" fill="#333"  stroke="#333" stroke-width="0.062">IL-15</text>
<rect x="346.88" y="83.80" width="7.14" height="1.9" fill="#222"/>
<text x="347.08" y="81.30" font-size="3.1" text-anchor="start" fill="#333"  stroke="#333" stroke-width="0.062">IL-15</text>
<path d="M296.90 75.10L304.75 76.58L309.75 70.87L314.75 67.70L326.17 65.16L345.45 65.58L354.73 64.52L359.73 64.52L376.15 65.58" stroke="#111111" stroke-width="1.15" fill="none" stroke-linejoin="round"/>
<path d="M296.90 75.10L304.75 74.47L309.75 71.93L314.75 71.93L326.17 69.81L345.45 69.39L354.73 69.39L359.73 67.27L376.15 66.64" stroke="#2233dd" stroke-width="1.15" fill="none" stroke-linejoin="round"/>
<path d="M296.90 75.10L304.75 56.70L309.75 60.29L314.75 67.70L326.17 68.12L345.45 69.39L354.73 56.70L359.73 57.12L376.15 67.27" stroke="#7e2a8e" stroke-width="1.15" fill="none" stroke-linejoin="round"/>
<path d="M296.90 75.10L304.75 48.23L309.75 59.66L314.75 67.27L326.17 67.27L345.45 68.75L354.73 49.71L359.73 56.70L376.15 66.00" stroke="#e0264f" stroke-width="1.15" fill="none" stroke-linejoin="round"/>
<path d="M296.90 75.10L304.75 11.64L309.75 43.37L314.75 55.43L326.17 61.35L345.45 66.64L354.73 36.39L359.73 48.66L376.15 61.35" stroke="#23915a" stroke-width="1.15" fill="none" stroke-linejoin="round"/>
<path d="M304.75 75.35V77.81M303.95 75.35h1.6M303.95 77.81h1.6M309.75 69.39V72.35M308.95 69.39h1.6M308.95 72.35h1.6M314.75 65.93V69.46M313.95 65.93h1.6M313.95 69.46h1.6M326.17 63.16V67.15M325.37 63.16h1.6M325.37 67.15h1.6M345.45 63.62V67.54M344.65 63.62h1.6M344.65 67.54h1.6M354.73 62.47V66.57M353.93 62.47h1.6M353.93 66.57h1.6M359.73 62.47V66.57M358.93 62.47h1.6M358.93 66.57h1.6M376.15 63.62V67.54M375.35 63.62h1.6M375.35 67.54h1.6" stroke="#111111" stroke-width="0.6" fill="none"/>
<circle cx="296.90" cy="75.10" r="1.59" fill="#111111"/>
<circle cx="304.75" cy="76.58" r="1.59" fill="#111111"/>
<circle cx="309.75" cy="70.87" r="1.59" fill="#111111"/>
<circle cx="314.75" cy="67.70" r="1.59" fill="#111111"/>
<circle cx="326.17" cy="65.16" r="1.59" fill="#111111"/>
<circle cx="345.45" cy="65.58" r="1.59" fill="#111111"/>
<circle cx="354.73" cy="64.52" r="1.59" fill="#111111"/>
<circle cx="359.73" cy="64.52" r="1.59" fill="#111111"/>
<circle cx="376.15" cy="65.58" r="1.59" fill="#111111"/>
<path d="M304.75 73.31V75.62M303.95 73.31h1.6M303.95 75.62h1.6M309.75 70.54V73.31M308.95 70.54h1.6M308.95 73.31h1.6M314.75 70.54V73.31M313.95 70.54h1.6M313.95 73.31h1.6M326.17 68.24V71.39M325.37 68.24h1.6M325.37 71.39h1.6M345.45 67.77V71.00M344.65 67.77h1.6M344.65 71.00h1.6M354.73 67.77V71.00M353.93 67.77h1.6M353.93 71.00h1.6M359.73 65.47V69.08M358.93 65.47h1.6M358.93 69.08h1.6M376.15 64.78V68.50M375.35 64.78h1.6M375.35 68.50h1.6" stroke="#2233dd" stroke-width="0.6" fill="none"/>
<rect x="295.30" y="73.51" width="3.19" height="3.19" fill="#2233dd"/>
<rect x="303.16" y="72.87" width="3.19" height="3.19" fill="#2233dd"/>
<rect x="308.16" y="70.33" width="3.19" height="3.19" fill="#2233dd"/>
<rect x="313.15" y="70.33" width="3.19" height="3.19" fill="#2233dd"/>
<rect x="324.58" y="68.22" width="3.19" height="3.19" fill="#2233dd"/>
<rect x="343.86" y="67.79" width="3.19" height="3.19" fill="#2233dd"/>
<rect x="353.14" y="67.79" width="3.19" height="3.19" fill="#2233dd"/>
<rect x="358.14" y="65.68" width="3.19" height="3.19" fill="#2233dd"/>
<rect x="374.56" y="65.04" width="3.19" height="3.19" fill="#2233dd"/>
<path d="M304.75 53.94V59.45M303.95 53.94h1.6M303.95 59.45h1.6M309.75 57.86V62.72M308.95 57.86h1.6M308.95 62.72h1.6M314.75 65.93V69.46M313.95 65.93h1.6M313.95 69.46h1.6M326.17 66.39V69.85M325.37 66.39h1.6M325.37 69.85h1.6M345.45 67.77V71.00M344.65 67.77h1.6M344.65 71.00h1.6M354.73 53.94V59.45M353.93 53.94h1.6M353.93 59.45h1.6M359.73 54.40V59.84M358.93 54.40h1.6M358.93 59.84h1.6M376.15 65.47V69.08M375.35 65.47h1.6M375.35 69.08h1.6" stroke="#7e2a8e" stroke-width="0.6" fill="none"/>
<path d="M296.90 76.84L298.50 73.94L295.30 73.94Z" fill="#7e2a8e"/>
<path d="M304.75 58.44L306.35 55.54L303.16 55.54Z" fill="#7e2a8e"/>
<path d="M309.75 62.03L311.35 59.13L308.16 59.13Z" fill="#7e2a8e"/>
<path d="M314.75 69.44L316.35 66.54L313.15 66.54Z" fill="#7e2a8e"/>
<path d="M326.17 69.86L327.77 66.96L324.58 66.96Z" fill="#7e2a8e"/>
<path d="M345.45 71.13L347.05 68.23L343.86 68.23Z" fill="#7e2a8e"/>
<path d="M354.73 58.44L356.33 55.54L353.14 55.54Z" fill="#7e2a8e"/>
<path d="M359.73 58.86L361.33 55.96L358.14 55.96Z" fill="#7e2a8e"/>
<path d="M376.15 69.01L377.75 66.11L374.56 66.11Z" fill="#7e2a8e"/>
<path d="M304.75 44.72V51.75M303.95 44.72h1.6M303.95 51.75h1.6M309.75 57.17V62.15M308.95 57.17h1.6M308.95 62.15h1.6M314.75 65.47V69.08M313.95 65.47h1.6M313.95 69.08h1.6M326.17 65.47V69.08M325.37 65.47h1.6M325.37 69.08h1.6M345.45 67.08V70.43M344.65 67.08h1.6M344.65 70.43h1.6M354.73 46.33V53.10M353.93 46.33h1.6M353.93 53.10h1.6M359.73 53.94V59.45M358.93 53.94h1.6M358.93 59.45h1.6M376.15 64.09V67.92M375.35 64.09h1.6M375.35 67.92h1.6" stroke="#e0264f" stroke-width="0.6" fill="none"/>
<path d="M296.90 73.36L298.50 76.26L295.30 76.26Z" fill="#e0264f"/>
<path d="M304.75 46.49L306.35 49.39L303.16 49.39Z" fill="#e0264f"/>
<path d="M309.75 57.92L311.35 60.82L308.16 60.82Z" fill="#e0264f"/>
<path d="M314.75 65.53L316.35 68.43L313.15 68.43Z" fill="#e0264f"/>
<path d="M326.17 65.53L327.77 68.43L324.58 68.43Z" fill="#e0264f"/>
<path d="M345.45 67.01L347.05 69.91L343.86 69.91Z" fill="#e0264f"/>
<path d="M354.73 47.97L356.33 50.87L353.14 50.87Z" fill="#e0264f"/>
<path d="M359.73 54.96L361.33 57.86L358.14 57.86Z" fill="#e0264f"/>
<path d="M376.15 64.26L377.75 67.16L374.56 67.16Z" fill="#e0264f"/>
<path d="M304.75 7.64V15.64M303.95 7.64h1.6M303.95 15.64h1.6M309.75 39.41V47.32M308.95 39.41h1.6M308.95 47.32h1.6M314.75 52.56V58.30M313.95 52.56h1.6M313.95 58.30h1.6M326.17 59.01V63.69M325.37 59.01h1.6M325.37 63.69h1.6M345.45 64.78V68.50M344.65 64.78h1.6M344.65 68.50h1.6M354.73 32.39V40.39M353.93 32.39h1.6M353.93 40.39h1.6M359.73 45.18V52.14M358.93 45.18h1.6M358.93 52.14h1.6M376.15 59.01V63.69M375.35 59.01h1.6M375.35 63.69h1.6" stroke="#23915a" stroke-width="0.6" fill="none"/>
<rect x="295.45" y="73.65" width="2.90" height="2.90" fill="#23915a"/>
<rect x="303.30" y="10.19" width="2.90" height="2.90" fill="#23915a"/>
<rect x="308.30" y="41.92" width="2.90" height="2.90" fill="#23915a"/>
<rect x="313.30" y="53.98" width="2.90" height="2.90" fill="#23915a"/>
<rect x="324.72" y="59.90" width="2.90" height="2.90" fill="#23915a"/>
<rect x="344.00" y="65.19" width="2.90" height="2.90" fill="#23915a"/>
<rect x="353.28" y="34.94" width="2.90" height="2.90" fill="#23915a"/>
<rect x="358.28" y="47.21" width="2.90" height="2.90" fill="#23915a"/>
<rect x="374.70" y="59.90" width="2.90" height="2.90" fill="#23915a"/>
<text x="333.60" y="19.60" font-size="5.55" text-anchor="middle">CD8<tspan font-size="3.5" dy="-2">+</tspan><tspan dy="2"> T cells</tspan></text>
<path d="M294.40 103.00V180.70H377.00" stroke="#111" stroke-width="1" fill="none"/>
<path d="M293.30 103.00h1.1M293.30 136.30h1.1M293.30 126.28h1.1M293.30 120.41h1.1M293.30 116.25h1.1M293.30 113.02h1.1M293.30 110.39h1.1M293.30 108.16h1.1M293.30 106.23h1.1M293.30 104.52h1.1M293.30 169.60h1.1M293.30 159.58h1.1M293.30 153.71h1.1M293.30 149.55h1.1M293.30 146.32h1.1M293.30 143.69h1.1M293.30 141.46h1.1M293.30 139.53h1.1M293.30 137.82h1.1M293.30 179.62h1.1M293.30 176.99h1.1M293.30 174.76h1.1M293.30 172.83h1.1M293.30 171.12h1.1" stroke="#333" stroke-width="0.5"/>
<path d="M294.40 180.70v1.2M308.04 180.70v1.2M321.68 180.70v1.2M335.32 180.70v1.2M348.96 180.70v1.2M362.60 180.70v1.2M376.24 180.70v1.2" stroke="#333" stroke-width="0.5"/>
<text x="293.00" y="104.10" font-size="3" text-anchor="end" fill="#444"  stroke="#444" stroke-width="0.060">100</text>
<text x="293.00" y="137.40" font-size="3" text-anchor="end" fill="#444"  stroke="#444" stroke-width="0.060">10</text>
<text x="294.40" y="184.90" font-size="3" text-anchor="middle" fill="#444"  stroke="#444" stroke-width="0.060">0</text>
<text x="308.04" y="184.90" font-size="3" text-anchor="middle" fill="#444"  stroke="#444" stroke-width="0.060">20</text>
<text x="321.68" y="184.90" font-size="3" text-anchor="middle" fill="#444"  stroke="#444" stroke-width="0.060">40</text>
<text x="335.32" y="184.90" font-size="3" text-anchor="middle" fill="#444"  stroke="#444" stroke-width="0.060">60</text>
<text x="348.96" y="184.90" font-size="3" text-anchor="middle" fill="#444"  stroke="#444" stroke-width="0.060">80</text>
<text x="362.60" y="184.90" font-size="3" text-anchor="middle" fill="#444"  stroke="#444" stroke-width="0.060">100</text>
<text x="376.24" y="184.90" font-size="3" text-anchor="middle" fill="#444"  stroke="#444" stroke-width="0.060">120</text>
<rect x="295.08" y="178.80" width="6.82" height="1.9" fill="#222"/>
<rect x="342.14" y="178.80" width="6.82" height="1.9" fill="#222"/>
<path d="M294.40 169.47L301.22 169.47L305.99 164.81L310.77 163.75L321.68 161.64L340.09 161.64L348.96 161.64L353.73 161.64L369.42 161.64" stroke="#111111" stroke-width="1.15" fill="none" stroke-linejoin="round"/>
<path d="M294.40 169.47L301.22 166.50L305.99 165.87L310.77 164.81L321.68 161.64L340.09 160.58L348.96 161.64L353.73 162.70L369.42 162.27" stroke="#2233dd" stroke-width="1.15" fill="none" stroke-linejoin="round"/>
<path d="M294.40 169.47L301.22 161.64L305.99 163.12L310.77 164.39L321.68 163.75L340.09 163.12L348.96 161.00L353.73 162.27L369.42 163.12" stroke="#7e2a8e" stroke-width="1.15" fill="none" stroke-linejoin="round"/>
<path d="M294.40 169.47L301.22 160.58L305.99 162.27L310.77 163.75L321.68 164.81L340.09 164.39L348.96 160.58L353.73 161.00L369.42 163.75" stroke="#e0264f" stroke-width="1.15" fill="none" stroke-linejoin="round"/>
<path d="M294.40 169.47L301.22 158.04L305.99 163.75L310.77 169.04L321.68 169.04L340.09 169.47L348.96 163.12L353.73 164.39L369.42 165.87" stroke="#23915a" stroke-width="1.15" fill="none" stroke-linejoin="round"/>
<path d="M301.22 168.37V170.57M300.42 168.37h1.6M300.42 170.57h1.6M305.99 163.29V166.33M305.19 163.29h1.6M305.19 166.33h1.6M310.77 162.14V165.37M309.97 162.14h1.6M309.97 165.37h1.6M321.68 159.83V163.44M320.88 159.83h1.6M320.88 163.44h1.6M340.09 159.83V163.44M339.29 159.83h1.6M339.29 163.44h1.6M348.96 159.83V163.44M348.16 159.83h1.6M348.16 163.44h1.6M353.73 159.83V163.44M352.93 159.83h1.6M352.93 163.44h1.6M369.42 159.83V163.44M368.62 159.83h1.6M368.62 163.44h1.6" stroke="#111111" stroke-width="0.6" fill="none"/>
<circle cx="294.40" cy="169.47" r="1.59" fill="#111111"/>
<circle cx="301.22" cy="169.47" r="1.59" fill="#111111"/>
<circle cx="305.99" cy="164.81" r="1.59" fill="#111111"/>
<circle cx="310.77" cy="163.75" r="1.59" fill="#111111"/>
<circle cx="321.68" cy="161.64" r="1.59" fill="#111111"/>
<circle cx="340.09" cy="161.64" r="1.59" fill="#111111"/>
<circle cx="348.96" cy="161.64" r="1.59" fill="#111111"/>
<circle cx="353.73" cy="161.64" r="1.59" fill="#111111"/>
<circle cx="369.42" cy="161.64" r="1.59" fill="#111111"/>
<path d="M301.22 165.14V167.87M300.42 165.14h1.6M300.42 167.87h1.6M305.99 164.45V167.29M305.19 164.45h1.6M305.19 167.29h1.6M310.77 163.29V166.33M309.97 163.29h1.6M309.97 166.33h1.6M321.68 159.83V163.44M320.88 159.83h1.6M320.88 163.44h1.6M340.09 158.68V162.48M339.29 158.68h1.6M339.29 162.48h1.6M348.96 159.83V163.44M348.16 159.83h1.6M348.16 163.44h1.6M353.73 160.99V164.41M352.93 160.99h1.6M352.93 164.41h1.6M369.42 160.53V164.02M368.62 160.53h1.6M368.62 164.02h1.6" stroke="#2233dd" stroke-width="0.6" fill="none"/>
<rect x="292.80" y="167.87" width="3.19" height="3.19" fill="#2233dd"/>
<rect x="299.62" y="164.91" width="3.19" height="3.19" fill="#2233dd"/>
<rect x="304.40" y="164.27" width="3.19" height="3.19" fill="#2233dd"/>
<rect x="309.17" y="163.22" width="3.19" height="3.19" fill="#2233dd"/>
<rect x="320.08" y="160.04" width="3.19" height="3.19" fill="#2233dd"/>
<rect x="338.50" y="158.99" width="3.19" height="3.19" fill="#2233dd"/>
<rect x="347.36" y="160.04" width="3.19" height="3.19" fill="#2233dd"/>
<rect x="352.14" y="161.10" width="3.19" height="3.19" fill="#2233dd"/>
<rect x="367.82" y="160.68" width="3.19" height="3.19" fill="#2233dd"/>
<path d="M301.22 159.83V163.44M300.42 159.83h1.6M300.42 163.44h1.6M305.99 161.45V164.79M305.19 161.45h1.6M305.19 164.79h1.6M310.77 162.83V165.95M309.97 162.83h1.6M309.97 165.95h1.6M321.68 162.14V165.37M320.88 162.14h1.6M320.88 165.37h1.6M340.09 161.45V164.79M339.29 161.45h1.6M339.29 164.79h1.6M348.96 159.14V162.87M348.16 159.14h1.6M348.16 162.87h1.6M353.73 160.53V164.02M352.93 160.53h1.6M352.93 164.02h1.6M369.42 161.45V164.79M368.62 161.45h1.6M368.62 164.79h1.6" stroke="#7e2a8e" stroke-width="0.6" fill="none"/>
<path d="M294.40 171.21L296.00 168.31L292.80 168.31Z" fill="#7e2a8e"/>
<path d="M301.22 163.38L302.81 160.48L299.62 160.48Z" fill="#7e2a8e"/>
<path d="M305.99 164.86L307.59 161.96L304.40 161.96Z" fill="#7e2a8e"/>
<path d="M310.77 166.13L312.36 163.23L309.17 163.23Z" fill="#7e2a8e"/>
<path d="M321.68 165.49L323.27 162.59L320.08 162.59Z" fill="#7e2a8e"/>
<path d="M340.09 164.86L341.69 161.96L338.50 161.96Z" fill="#7e2a8e"/>
<path d="M348.96 162.74L350.56 159.84L347.36 159.84Z" fill="#7e2a8e"/>
<path d="M353.73 164.01L355.33 161.11L352.14 161.11Z" fill="#7e2a8e"/>
<path d="M369.42 164.86L371.01 161.96L367.82 161.96Z" fill="#7e2a8e"/>
<path d="M301.22 158.68V162.48M300.42 158.68h1.6M300.42 162.48h1.6M305.99 160.53V164.02M305.19 160.53h1.6M305.19 164.02h1.6M310.77 162.14V165.37M309.97 162.14h1.6M309.97 165.37h1.6M321.68 163.29V166.33M320.88 163.29h1.6M320.88 166.33h1.6M340.09 162.83V165.95M339.29 162.83h1.6M339.29 165.95h1.6M348.96 158.68V162.48M348.16 158.68h1.6M348.16 162.48h1.6M353.73 159.14V162.87M352.93 159.14h1.6M352.93 162.87h1.6M369.42 162.14V165.37M368.62 162.14h1.6M368.62 165.37h1.6" stroke="#e0264f" stroke-width="0.6" fill="none"/>
<path d="M294.40 167.73L296.00 170.63L292.80 170.63Z" fill="#e0264f"/>
<path d="M301.22 158.84L302.81 161.74L299.62 161.74Z" fill="#e0264f"/>
<path d="M305.99 160.53L307.59 163.43L304.40 163.43Z" fill="#e0264f"/>
<path d="M310.77 162.01L312.36 164.91L309.17 164.91Z" fill="#e0264f"/>
<path d="M321.68 163.07L323.27 165.97L320.08 165.97Z" fill="#e0264f"/>
<path d="M340.09 162.65L341.69 165.55L338.50 165.55Z" fill="#e0264f"/>
<path d="M348.96 158.84L350.56 161.74L347.36 161.74Z" fill="#e0264f"/>
<path d="M353.73 159.26L355.33 162.16L352.14 162.16Z" fill="#e0264f"/>
<path d="M369.42 162.01L371.01 164.91L367.82 164.91Z" fill="#e0264f"/>
<path d="M301.22 155.91V160.17M300.42 155.91h1.6M300.42 160.17h1.6M305.99 162.14V165.37M305.19 162.14h1.6M305.19 165.37h1.6M310.77 167.90V170.18M309.97 167.90h1.6M309.97 170.18h1.6M321.68 167.90V170.18M320.88 167.90h1.6M320.88 170.18h1.6M340.09 168.37V170.57M339.29 168.37h1.6M339.29 170.57h1.6M348.96 161.45V164.79M348.16 161.45h1.6M348.16 164.79h1.6M353.73 162.83V165.95M352.93 162.83h1.6M352.93 165.95h1.6M369.42 164.45V167.29M368.62 164.45h1.6M368.62 167.29h1.6" stroke="#23915a" stroke-width="0.6" fill="none"/>
<rect x="292.95" y="168.02" width="2.90" height="2.90" fill="#23915a"/>
<rect x="299.77" y="156.59" width="2.90" height="2.90" fill="#23915a"/>
<rect x="304.54" y="162.30" width="2.90" height="2.90" fill="#23915a"/>
<rect x="309.32" y="167.59" width="2.90" height="2.90" fill="#23915a"/>
<rect x="320.23" y="167.59" width="2.90" height="2.90" fill="#23915a"/>
<rect x="338.64" y="168.02" width="2.90" height="2.90" fill="#23915a"/>
<rect x="347.51" y="161.67" width="2.90" height="2.90" fill="#23915a"/>
<rect x="352.28" y="162.94" width="2.90" height="2.90" fill="#23915a"/>
<rect x="367.97" y="164.42" width="2.90" height="2.90" fill="#23915a"/>
<text x="333.30" y="120.40" font-size="5.4" text-anchor="middle">CD4<tspan font-size="3.3" dy="-2">+</tspan><tspan dy="2"> T cells</tspan></text>
<path d="M425.20 105.20V179.60H514.00" stroke="#111" stroke-width="1" fill="none"/>
<path d="M424.10 105.20h1.1M424.10 129.90h1.1M424.10 122.46h1.1M424.10 118.12h1.1M424.10 115.03h1.1M424.10 112.64h1.1M424.10 110.68h1.1M424.10 109.03h1.1M424.10 107.59h1.1M424.10 106.33h1.1M424.10 154.60h1.1M424.10 147.16h1.1M424.10 142.82h1.1M424.10 139.73h1.1M424.10 137.34h1.1M424.10 135.38h1.1M424.10 133.73h1.1M424.10 132.29h1.1M424.10 131.03h1.1M424.10 179.30h1.1M424.10 171.86h1.1M424.10 167.52h1.1M424.10 164.43h1.1M424.10 162.04h1.1M424.10 160.08h1.1M424.10 158.43h1.1M424.10 156.99h1.1M424.10 155.73h1.1" stroke="#333" stroke-width="0.5"/>
<path d="M425.20 179.60v1.2M439.94 179.60v1.2M454.68 179.60v1.2M469.42 179.60v1.2M484.16 179.60v1.2M498.90 179.60v1.2M513.64 179.60v1.2" stroke="#333" stroke-width="0.5"/>
<text x="423.80" y="106.30" font-size="3" text-anchor="end" fill="#444"  stroke="#444" stroke-width="0.060">100</text>
<text x="423.80" y="131.00" font-size="3" text-anchor="end" fill="#444"  stroke="#444" stroke-width="0.060">10</text>
<text x="423.80" y="156.00" font-size="3" text-anchor="end" fill="#444"  stroke="#444" stroke-width="0.060">1</text>
<text x="423.80" y="180.70" font-size="3" text-anchor="end" fill="#444"  stroke="#444" stroke-width="0.060">0.1</text>
<text x="425.20" y="183.80" font-size="3" text-anchor="middle" fill="#444"  stroke="#444" stroke-width="0.060">0</text>
<text x="439.94" y="183.80" font-size="3" text-anchor="middle" fill="#444"  stroke="#444" stroke-width="0.060">20</text>
<text x="454.68" y="183.80" font-size="3" text-anchor="middle" fill="#444"  stroke="#444" stroke-width="0.060">40</text>
<text x="469.42" y="183.80" font-size="3" text-anchor="middle" fill="#444"  stroke="#444" stroke-width="0.060">60</text>
<text x="484.16" y="183.80" font-size="3" text-anchor="middle" fill="#444"  stroke="#444" stroke-width="0.060">80</text>
<text x="498.90" y="183.80" font-size="3" text-anchor="middle" fill="#444"  stroke="#444" stroke-width="0.060">100</text>
<text x="513.64" y="183.80" font-size="3" text-anchor="middle" fill="#444"  stroke="#444" stroke-width="0.060">120</text>
<rect x="425.94" y="177.70" width="7.37" height="1.9" fill="#222"/>
<rect x="476.79" y="177.70" width="7.37" height="1.9" fill="#222"/>
<path d="M425.20 154.87L432.57 158.04L437.73 154.23L442.89 154.23L454.68 148.95L474.58 148.95L484.16 151.06L489.32 151.06L506.27 151.06" stroke="#111111" stroke-width="1.15" fill="none" stroke-linejoin="round"/>
<path d="M425.20 154.87L432.57 158.04L437.73 157.41L442.89 158.04L454.68 155.29L474.58 156.35L484.16 158.04L489.32 156.77L506.27 156.77" stroke="#2233dd" stroke-width="1.15" fill="none" stroke-linejoin="round"/>
<path d="M425.20 154.87L432.57 164.81L437.73 174.33L442.89 171.16L454.68 164.39L474.58 160.16L484.16 165.87L489.32 167.98L506.27 162.70" stroke="#7e2a8e" stroke-width="1.15" fill="none" stroke-linejoin="round"/>
<path d="M425.20 154.87L432.57 162.27L437.73 162.27L442.89 162.70L454.68 157.41L474.58 156.77L484.16 161.00L489.32 159.52L506.27 158.89" stroke="#e0264f" stroke-width="1.15" fill="none" stroke-linejoin="round"/>
<path d="M425.20 154.87L432.57 163.12L437.73 175.39L442.89 170.10L454.68 161.64L474.58 156.35L484.16 162.70L489.32 159.52L506.27 158.47" stroke="#23915a" stroke-width="1.15" fill="none" stroke-linejoin="round"/>
<path d="M432.57 156.66V159.43M431.77 156.66h1.6M431.77 159.43h1.6M437.73 153.08V155.39M436.93 153.08h1.6M436.93 155.39h1.6M442.89 153.08V155.39M442.09 153.08h1.6M442.09 155.39h1.6M454.68 147.31V150.58M453.88 147.31h1.6M453.88 150.58h1.6M474.58 147.31V150.58M473.78 147.31h1.6M473.78 150.58h1.6M484.16 149.62V152.50M483.36 149.62h1.6M483.36 152.50h1.6M489.32 149.62V152.50M488.52 149.62h1.6M488.52 152.50h1.6M506.27 149.62V152.50M505.47 149.62h1.6M505.47 152.50h1.6" stroke="#111111" stroke-width="0.6" fill="none"/>
<circle cx="425.20" cy="154.87" r="1.59" fill="#111111"/>
<circle cx="432.57" cy="158.04" r="1.59" fill="#111111"/>
<circle cx="437.73" cy="154.23" r="1.59" fill="#111111"/>
<circle cx="442.89" cy="154.23" r="1.59" fill="#111111"/>
<circle cx="454.68" cy="148.95" r="1.59" fill="#111111"/>
<circle cx="474.58" cy="148.95" r="1.59" fill="#111111"/>
<circle cx="484.16" cy="151.06" r="1.59" fill="#111111"/>
<circle cx="489.32" cy="151.06" r="1.59" fill="#111111"/>
<circle cx="506.27" cy="151.06" r="1.59" fill="#111111"/>
<path d="M432.57 156.66V159.43M431.77 156.66h1.6M431.77 159.43h1.6M437.73 156.08V158.74M436.93 156.08h1.6M436.93 158.74h1.6M442.89 156.66V159.43M442.09 156.66h1.6M442.09 159.43h1.6M454.68 154.15V156.43M453.88 154.15h1.6M453.88 156.43h1.6M474.58 155.12V157.58M473.78 155.12h1.6M473.78 157.58h1.6M484.16 156.66V159.43M483.36 156.66h1.6M483.36 159.43h1.6M489.32 155.50V158.04M488.52 155.50h1.6M488.52 158.04h1.6M506.27 155.50V158.04M505.47 155.50h1.6M505.47 158.04h1.6" stroke="#2233dd" stroke-width="0.6" fill="none"/>
<rect x="423.60" y="153.27" width="3.19" height="3.19" fill="#2233dd"/>
<rect x="430.97" y="156.45" width="3.19" height="3.19" fill="#2233dd"/>
<rect x="436.13" y="155.81" width="3.19" height="3.19" fill="#2233dd"/>
<rect x="441.29" y="156.45" width="3.19" height="3.19" fill="#2233dd"/>
<rect x="453.08" y="153.70" width="3.19" height="3.19" fill="#2233dd"/>
<rect x="472.98" y="154.75" width="3.19" height="3.19" fill="#2233dd"/>
<rect x="482.56" y="156.45" width="3.19" height="3.19" fill="#2233dd"/>
<rect x="487.72" y="155.18" width="3.19" height="3.19" fill="#2233dd"/>
<rect x="504.67" y="155.18" width="3.19" height="3.19" fill="#2233dd"/>
<path d="M432.57 162.82V166.81M431.77 162.82h1.6M431.77 166.81h1.6M437.73 171.48V177.18M436.93 171.48h1.6M436.93 177.18h1.6M442.89 168.59V173.72M442.09 168.59h1.6M442.09 173.72h1.6M454.68 162.43V166.35M453.88 162.43h1.6M453.88 166.35h1.6M474.58 158.58V161.73M473.78 158.58h1.6M473.78 161.73h1.6M484.16 163.78V167.96M483.36 163.78h1.6M483.36 167.96h1.6M489.32 165.70V170.27M488.52 165.70h1.6M488.52 170.27h1.6M506.27 160.89V164.50M505.47 160.89h1.6M505.47 164.50h1.6" stroke="#7e2a8e" stroke-width="0.6" fill="none"/>
<path d="M425.20 156.61L426.80 153.71L423.60 153.71Z" fill="#7e2a8e"/>
<path d="M432.57 166.55L434.17 163.65L430.97 163.65Z" fill="#7e2a8e"/>
<path d="M437.73 176.07L439.32 173.17L436.13 173.17Z" fill="#7e2a8e"/>
<path d="M442.89 172.90L444.48 170.00L441.29 170.00Z" fill="#7e2a8e"/>
<path d="M454.68 166.13L456.28 163.23L453.08 163.23Z" fill="#7e2a8e"/>
<path d="M474.58 161.90L476.17 159.00L472.98 159.00Z" fill="#7e2a8e"/>
<path d="M484.16 167.61L485.75 164.71L482.56 164.71Z" fill="#7e2a8e"/>
<path d="M489.32 169.72L490.91 166.82L487.72 166.82Z" fill="#7e2a8e"/>
<path d="M506.27 164.44L507.87 161.54L504.67 161.54Z" fill="#7e2a8e"/>
<path d="M432.57 160.51V164.04M431.77 160.51h1.6M431.77 164.04h1.6M437.73 160.51V164.04M436.93 160.51h1.6M436.93 164.04h1.6M442.89 160.89V164.50M442.09 160.89h1.6M442.09 164.50h1.6M454.68 156.08V158.74M453.88 156.08h1.6M453.88 158.74h1.6M474.58 155.50V158.04M473.78 155.50h1.6M473.78 158.04h1.6M484.16 159.35V162.66M483.36 159.35h1.6M483.36 162.66h1.6M489.32 158.00V161.04M488.52 158.00h1.6M488.52 161.04h1.6M506.27 157.43V160.35M505.47 157.43h1.6M505.47 160.35h1.6" stroke="#e0264f" stroke-width="0.6" fill="none"/>
<path d="M425.20 153.13L426.80 156.03L423.60 156.03Z" fill="#e0264f"/>
<path d="M432.57 160.53L434.17 163.43L430.97 163.43Z" fill="#e0264f"/>
<path d="M437.73 160.53L439.32 163.43L436.13 163.43Z" fill="#e0264f"/>
<path d="M442.89 160.96L444.48 163.86L441.29 163.86Z" fill="#e0264f"/>
<path d="M454.68 155.67L456.28 158.57L453.08 158.57Z" fill="#e0264f"/>
<path d="M474.58 155.03L476.17 157.93L472.98 157.93Z" fill="#e0264f"/>
<path d="M484.16 159.26L485.75 162.16L482.56 162.16Z" fill="#e0264f"/>
<path d="M489.32 157.78L490.91 160.68L487.72 160.68Z" fill="#e0264f"/>
<path d="M506.27 157.15L507.87 160.05L504.67 160.05Z" fill="#e0264f"/>
<path d="M432.57 161.28V164.96M431.77 161.28h1.6M431.77 164.96h1.6M437.73 172.44V178.34M436.93 172.44h1.6M436.93 178.34h1.6M442.89 167.63V172.57M442.09 167.63h1.6M442.09 172.57h1.6M454.68 159.93V163.35M453.88 159.93h1.6M453.88 163.35h1.6M474.58 155.12V157.58M473.78 155.12h1.6M473.78 157.58h1.6M484.16 160.89V164.50M483.36 160.89h1.6M483.36 164.50h1.6M489.32 158.00V161.04M488.52 158.00h1.6M488.52 161.04h1.6M506.27 157.04V159.89M505.47 157.04h1.6M505.47 159.89h1.6" stroke="#23915a" stroke-width="0.6" fill="none"/>
<rect x="423.75" y="153.42" width="2.90" height="2.90" fill="#23915a"/>
<rect x="431.12" y="161.67" width="2.90" height="2.90" fill="#23915a"/>
<rect x="436.28" y="173.94" width="2.90" height="2.90" fill="#23915a"/>
<rect x="441.44" y="168.65" width="2.90" height="2.90" fill="#23915a"/>
<rect x="453.23" y="160.19" width="2.90" height="2.90" fill="#23915a"/>
<rect x="473.13" y="154.90" width="2.90" height="2.90" fill="#23915a"/>
<rect x="482.71" y="161.25" width="2.90" height="2.90" fill="#23915a"/>
<rect x="487.87" y="158.07" width="2.90" height="2.90" fill="#23915a"/>
<rect x="504.82" y="157.02" width="2.90" height="2.90" fill="#23915a"/>
<text x="458.20" y="120.40" font-size="5.4" text-anchor="middle">B Cells</text>
<path d="M156.50 526.00V595.10H244.00" stroke="#111" stroke-width="1" fill="none"/>
<path d="M155.40 535.20h1.1M155.40 529.09h1.1M155.40 555.50h1.1M155.40 549.39h1.1M155.40 545.81h1.1M155.40 543.28h1.1M155.40 541.31h1.1M155.40 539.70h1.1M155.40 538.34h1.1M155.40 537.17h1.1M155.40 536.13h1.1M155.40 575.80h1.1M155.40 569.69h1.1M155.40 566.11h1.1M155.40 563.58h1.1M155.40 561.61h1.1M155.40 560.00h1.1M155.40 558.64h1.1M155.40 557.47h1.1M155.40 556.43h1.1M155.40 589.99h1.1M155.40 586.41h1.1M155.40 583.88h1.1M155.40 581.91h1.1M155.40 580.30h1.1M155.40 578.94h1.1M155.40 577.77h1.1M155.40 576.73h1.1" stroke="#333" stroke-width="0.5"/>
<path d="M156.50 595.10v1.2M171.04 595.10v1.2M185.58 595.10v1.2M200.12 595.10v1.2M214.66 595.10v1.2M229.20 595.10v1.2M243.74 595.10v1.2" stroke="#333" stroke-width="0.5"/>
<text x="155.10" y="536.30" font-size="3" text-anchor="end" fill="#444"  stroke="#444" stroke-width="0.060">100</text>
<text x="155.10" y="556.60" font-size="3" text-anchor="end" fill="#444"  stroke="#444" stroke-width="0.060">10</text>
<text x="155.10" y="576.50" font-size="3" text-anchor="end" fill="#444"  stroke="#444" stroke-width="0.060">1</text>
<text x="155.10" y="596.20" font-size="3" text-anchor="end" fill="#444"  stroke="#444" stroke-width="0.060">0.1</text>
<text x="156.50" y="599.30" font-size="3" text-anchor="middle" fill="#444"  stroke="#444" stroke-width="0.060">0</text>
<text x="171.04" y="599.30" font-size="3" text-anchor="middle" fill="#444"  stroke="#444" stroke-width="0.060">20</text>
<text x="185.58" y="599.30" font-size="3" text-anchor="middle" fill="#444"  stroke="#444" stroke-width="0.060">40</text>
<text x="200.12" y="599.30" font-size="3" text-anchor="middle" fill="#444"  stroke="#444" stroke-width="0.060">60</text>
<text x="214.66" y="599.30" font-size="3" text-anchor="middle" fill="#444"  stroke="#444" stroke-width="0.060">80</text>
<text x="229.20" y="599.30" font-size="3" text-anchor="middle" fill="#444"  stroke="#444" stroke-width="0.060">100</text>
<text x="243.74" y="599.30" font-size="3" text-anchor="middle" fill="#444"  stroke="#444" stroke-width="0.060">120</text>
<rect x="157.23" y="593.20" width="7.27" height="1.9" fill="#222"/>
<text x="157.43" y="590.70" font-size="3.1" text-anchor="start" fill="#333"  stroke="#333" stroke-width="0.062">IL-15</text>
<rect x="207.39" y="593.20" width="7.27" height="1.9" fill="#222"/>
<text x="207.59" y="590.70" font-size="3.1" text-anchor="start" fill="#333"  stroke="#333" stroke-width="0.062">IL-15</text>
<path d="M156.50 575.43L164.50 577.54L169.59 573.95L174.68 571.83L186.31 571.20L205.94 572.46L215.39 570.77L220.48 571.83L237.20 571.20" stroke="#111111" stroke-width="1.15" fill="none" stroke-linejoin="round"/>
<path d="M156.50 575.43L164.50 577.12L169.59 575.43L174.68 575.00L186.31 573.95L205.94 575.00L215.39 572.89L220.48 573.31L237.20 572.89" stroke="#2233dd" stroke-width="1.15" fill="none" stroke-linejoin="round"/>
<path d="M156.50 575.43L164.50 564.00L169.59 565.48L174.68 570.77L186.31 571.20L205.94 572.46L215.39 564.85L220.48 565.48L237.20 571.20" stroke="#7e2a8e" stroke-width="1.15" fill="none" stroke-linejoin="round"/>
<path d="M156.50 575.43L164.50 557.66L169.59 564.43L174.68 570.35L186.31 570.77L205.94 571.83L215.39 558.50L220.48 564.43L237.20 570.77" stroke="#e0264f" stroke-width="1.15" fill="none" stroke-linejoin="round"/>
<path d="M156.50 575.43L164.50 534.39L169.59 552.79L174.68 561.25L186.31 565.48L205.94 570.77L215.39 549.62L220.48 558.50L237.20 565.48" stroke="#23915a" stroke-width="1.15" fill="none" stroke-linejoin="round"/>
<path d="M164.50 576.25V578.83M163.70 576.25h1.6M163.70 578.83h1.6M169.59 572.71V575.18M168.79 572.71h1.6M168.79 575.18h1.6M174.68 570.41V573.25M173.88 570.41h1.6M173.88 573.25h1.6M186.31 569.71V572.68M185.51 569.71h1.6M185.51 572.68h1.6M205.94 571.10V573.83M205.14 571.10h1.6M205.14 573.83h1.6M215.39 569.25V572.29M214.59 569.25h1.6M214.59 572.29h1.6M220.48 570.41V573.25M219.68 570.41h1.6M219.68 573.25h1.6M237.20 569.71V572.68M236.40 569.71h1.6M236.40 572.68h1.6" stroke="#111111" stroke-width="0.6" fill="none"/>
<circle cx="156.50" cy="575.43" r="1.59" fill="#111111"/>
<circle cx="164.50" cy="577.54" r="1.59" fill="#111111"/>
<circle cx="169.59" cy="573.95" r="1.59" fill="#111111"/>
<circle cx="174.68" cy="571.83" r="1.59" fill="#111111"/>
<circle cx="186.31" cy="571.20" r="1.59" fill="#111111"/>
<circle cx="205.94" cy="572.46" r="1.59" fill="#111111"/>
<circle cx="215.39" cy="570.77" r="1.59" fill="#111111"/>
<circle cx="220.48" cy="571.83" r="1.59" fill="#111111"/>
<circle cx="237.20" cy="571.20" r="1.59" fill="#111111"/>
<path d="M164.50 575.87V578.37M163.70 575.87h1.6M163.70 578.37h1.6M169.59 574.33V576.53M168.79 574.33h1.6M168.79 576.53h1.6M174.68 573.87V576.14M173.88 573.87h1.6M173.88 576.14h1.6M186.31 572.71V575.18M185.51 572.71h1.6M185.51 575.18h1.6M205.94 573.87V576.14M205.14 573.87h1.6M205.14 576.14h1.6M215.39 571.56V574.22M214.59 571.56h1.6M214.59 574.22h1.6M220.48 572.02V574.60M219.68 572.02h1.6M219.68 574.60h1.6M237.20 571.56V574.22M236.40 571.56h1.6M236.40 574.22h1.6" stroke="#2233dd" stroke-width="0.6" fill="none"/>
<rect x="154.91" y="573.83" width="3.19" height="3.19" fill="#2233dd"/>
<rect x="162.90" y="575.52" width="3.19" height="3.19" fill="#2233dd"/>
<rect x="167.99" y="573.83" width="3.19" height="3.19" fill="#2233dd"/>
<rect x="173.08" y="573.41" width="3.19" height="3.19" fill="#2233dd"/>
<rect x="184.71" y="572.35" width="3.19" height="3.19" fill="#2233dd"/>
<rect x="204.34" y="573.41" width="3.19" height="3.19" fill="#2233dd"/>
<rect x="213.79" y="571.29" width="3.19" height="3.19" fill="#2233dd"/>
<rect x="218.88" y="571.72" width="3.19" height="3.19" fill="#2233dd"/>
<rect x="235.60" y="571.29" width="3.19" height="3.19" fill="#2233dd"/>
<path d="M164.50 561.87V566.13M163.70 561.87h1.6M163.70 566.13h1.6M169.59 563.49V567.48M168.79 563.49h1.6M168.79 567.48h1.6M174.68 569.25V572.29M173.88 569.25h1.6M173.88 572.29h1.6M186.31 569.71V572.68M185.51 569.71h1.6M185.51 572.68h1.6M205.94 571.10V573.83M205.14 571.10h1.6M205.14 573.83h1.6M215.39 562.80V566.90M214.59 562.80h1.6M214.59 566.90h1.6M220.48 563.49V567.48M219.68 563.49h1.6M219.68 567.48h1.6M237.20 569.71V572.68M236.40 569.71h1.6M236.40 572.68h1.6" stroke="#7e2a8e" stroke-width="0.6" fill="none"/>
<path d="M156.50 577.17L158.09 574.27L154.91 574.27Z" fill="#7e2a8e"/>
<path d="M164.50 565.74L166.09 562.84L162.90 562.84Z" fill="#7e2a8e"/>
<path d="M169.59 567.22L171.18 564.32L167.99 564.32Z" fill="#7e2a8e"/>
<path d="M174.68 572.51L176.27 569.61L173.08 569.61Z" fill="#7e2a8e"/>
<path d="M186.31 572.94L187.90 570.04L184.71 570.04Z" fill="#7e2a8e"/>
<path d="M205.94 574.20L207.53 571.30L204.34 571.30Z" fill="#7e2a8e"/>
<path d="M215.39 566.59L216.98 563.69L213.79 563.69Z" fill="#7e2a8e"/>
<path d="M220.48 567.22L222.07 564.32L218.88 564.32Z" fill="#7e2a8e"/>
<path d="M237.20 572.94L238.79 570.04L235.60 570.04Z" fill="#7e2a8e"/>
<path d="M164.50 554.96V560.36M163.70 554.96h1.6M163.70 560.36h1.6M169.59 562.34V566.52M168.79 562.34h1.6M168.79 566.52h1.6M174.68 568.79V571.91M173.88 568.79h1.6M173.88 571.91h1.6M186.31 569.25V572.29M185.51 569.25h1.6M185.51 572.29h1.6M205.94 570.41V573.25M205.14 570.41h1.6M205.14 573.25h1.6M215.39 555.88V561.13M214.59 555.88h1.6M214.59 561.13h1.6M220.48 562.34V566.52M219.68 562.34h1.6M219.68 566.52h1.6M237.20 569.25V572.29M236.40 569.25h1.6M236.40 572.29h1.6" stroke="#e0264f" stroke-width="0.6" fill="none"/>
<path d="M156.50 573.69L158.09 576.59L154.91 576.59Z" fill="#e0264f"/>
<path d="M164.50 555.92L166.09 558.82L162.90 558.82Z" fill="#e0264f"/>
<path d="M169.59 562.69L171.18 565.59L167.99 565.59Z" fill="#e0264f"/>
<path d="M174.68 568.61L176.27 571.51L173.08 571.51Z" fill="#e0264f"/>
<path d="M186.31 569.03L187.90 571.93L184.71 571.93Z" fill="#e0264f"/>
<path d="M205.94 570.09L207.53 572.99L204.34 572.99Z" fill="#e0264f"/>
<path d="M215.39 556.76L216.98 559.66L213.79 559.66Z" fill="#e0264f"/>
<path d="M220.48 562.69L222.07 565.59L218.88 565.59Z" fill="#e0264f"/>
<path d="M237.20 569.03L238.79 571.93L235.60 571.93Z" fill="#e0264f"/>
<path d="M164.50 530.39V538.39M163.70 530.39h1.6M163.70 538.39h1.6M169.59 549.65V555.93M168.79 549.65h1.6M168.79 555.93h1.6M174.68 558.88V563.63M173.88 558.88h1.6M173.88 563.63h1.6M186.31 563.49V567.48M185.51 563.49h1.6M185.51 567.48h1.6M205.94 569.25V572.29M205.14 569.25h1.6M205.14 572.29h1.6M215.39 546.19V553.04M214.59 546.19h1.6M214.59 553.04h1.6M220.48 555.88V561.13M219.68 555.88h1.6M219.68 561.13h1.6M237.20 563.49V567.48M236.40 563.49h1.6M236.40 567.48h1.6" stroke="#23915a" stroke-width="0.6" fill="none"/>
<rect x="155.05" y="573.98" width="2.90" height="2.90" fill="#23915a"/>
<rect x="163.05" y="532.94" width="2.90" height="2.90" fill="#23915a"/>
<rect x="168.14" y="551.34" width="2.90" height="2.90" fill="#23915a"/>
<rect x="173.23" y="559.80" width="2.90" height="2.90" fill="#23915a"/>
<rect x="184.86" y="564.03" width="2.90" height="2.90" fill="#23915a"/>
<rect x="204.49" y="569.32" width="2.90" height="2.90" fill="#23915a"/>
<rect x="213.94" y="548.17" width="2.90" height="2.90" fill="#23915a"/>
<rect x="219.03" y="557.05" width="2.90" height="2.90" fill="#23915a"/>
<rect x="235.75" y="564.03" width="2.90" height="2.90" fill="#23915a"/>
<path d="M284.40 527.00V596.80H373.00" stroke="#111" stroke-width="1" fill="none"/>
<path d="M283.30 536.00h1.1M283.30 529.98h1.1M283.30 556.00h1.1M283.30 549.98h1.1M283.30 546.46h1.1M283.30 543.96h1.1M283.30 542.02h1.1M283.30 540.44h1.1M283.30 539.10h1.1M283.30 537.94h1.1M283.30 536.92h1.1M283.30 576.00h1.1M283.30 569.98h1.1M283.30 566.46h1.1M283.30 563.96h1.1M283.30 562.02h1.1M283.30 560.44h1.1M283.30 559.10h1.1M283.30 557.94h1.1M283.30 556.92h1.1M283.30 596.00h1.1M283.30 589.98h1.1M283.30 586.46h1.1M283.30 583.96h1.1M283.30 582.02h1.1M283.30 580.44h1.1M283.30 579.10h1.1M283.30 577.94h1.1M283.30 576.92h1.1" stroke="#333" stroke-width="0.5"/>
<path d="M284.40 596.80v1.2M299.10 596.80v1.2M313.80 596.80v1.2M328.50 596.80v1.2M343.20 596.80v1.2M357.90 596.80v1.2M372.60 596.80v1.2" stroke="#333" stroke-width="0.5"/>
<text x="283.00" y="537.10" font-size="3" text-anchor="end" fill="#444"  stroke="#444" stroke-width="0.060">100</text>
<text x="283.00" y="557.10" font-size="3" text-anchor="end" fill="#444"  stroke="#444" stroke-width="0.060">10</text>
<text x="283.00" y="577.80" font-size="3" text-anchor="end" fill="#444"  stroke="#444" stroke-width="0.060">1</text>
<text x="283.00" y="597.90" font-size="3" text-anchor="end" fill="#444"  stroke="#444" stroke-width="0.060">0.1</text>
<text x="284.40" y="601.00" font-size="3" text-anchor="middle" fill="#444"  stroke="#444" stroke-width="0.060">0</text>
<text x="299.10" y="601.00" font-size="3" text-anchor="middle" fill="#444"  stroke="#444" stroke-width="0.060">20</text>
<text x="313.80" y="601.00" font-size="3" text-anchor="middle" fill="#444"  stroke="#444" stroke-width="0.060">40</text>
<text x="328.50" y="601.00" font-size="3" text-anchor="middle" fill="#444"  stroke="#444" stroke-width="0.060">60</text>
<text x="343.20" y="601.00" font-size="3" text-anchor="middle" fill="#444"  stroke="#444" stroke-width="0.060">80</text>
<text x="357.90" y="601.00" font-size="3" text-anchor="middle" fill="#444"  stroke="#444" stroke-width="0.060">100</text>
<text x="372.60" y="601.00" font-size="3" text-anchor="middle" fill="#444"  stroke="#444" stroke-width="0.060">120</text>
<rect x="285.13" y="594.90" width="7.35" height="1.9" fill="#222"/>
<rect x="335.85" y="594.90" width="7.35" height="1.9" fill="#222"/>
<path d="M284.40 576.74L292.48 576.74L297.63 573.56L302.77 571.45L314.53 570.39L334.38 572.50L343.93 573.56L349.08 572.50L365.98 572.50" stroke="#111111" stroke-width="1.15" fill="none" stroke-linejoin="round"/>
<path d="M284.40 576.74L292.48 575.68L297.63 573.56L302.77 574.62L314.53 572.93L334.38 573.56L343.93 576.74L349.08 570.39L365.98 571.45" stroke="#2233dd" stroke-width="1.15" fill="none" stroke-linejoin="round"/>
<path d="M284.40 576.74L292.48 570.39L297.63 570.39L302.77 571.45L314.53 570.81L334.38 578.85L343.93 573.56L349.08 573.56L365.98 576.31" stroke="#7e2a8e" stroke-width="1.15" fill="none" stroke-linejoin="round"/>
<path d="M284.40 576.74L292.48 570.39L297.63 568.70L302.77 571.45L314.53 571.45L334.38 572.93L343.93 569.33L349.08 563.62L365.98 569.33" stroke="#e0264f" stroke-width="1.15" fill="none" stroke-linejoin="round"/>
<path d="M284.40 576.74L292.48 554.52L297.63 565.10L302.77 569.33L314.53 570.81L334.38 572.50L343.93 565.74L349.08 562.98L365.98 566.16" stroke="#23915a" stroke-width="1.15" fill="none" stroke-linejoin="round"/>
<path d="M292.48 575.64V577.84M291.68 575.64h1.6M291.68 577.84h1.6M297.63 572.18V574.95M296.83 572.18h1.6M296.83 574.95h1.6M302.77 569.87V573.02M301.97 569.87h1.6M301.97 573.02h1.6M314.53 568.72V572.06M313.73 568.72h1.6M313.73 572.06h1.6M334.38 571.02V573.99M333.58 571.02h1.6M333.58 573.99h1.6M343.93 572.18V574.95M343.13 572.18h1.6M343.13 574.95h1.6M349.08 571.02V573.99M348.28 571.02h1.6M348.28 573.99h1.6M365.98 571.02V573.99M365.18 571.02h1.6M365.18 573.99h1.6" stroke="#111111" stroke-width="0.6" fill="none"/>
<circle cx="284.40" cy="576.74" r="1.59" fill="#111111"/>
<circle cx="292.48" cy="576.74" r="1.59" fill="#111111"/>
<circle cx="297.63" cy="573.56" r="1.59" fill="#111111"/>
<circle cx="302.77" cy="571.45" r="1.59" fill="#111111"/>
<circle cx="314.53" cy="570.39" r="1.59" fill="#111111"/>
<circle cx="334.38" cy="572.50" r="1.59" fill="#111111"/>
<circle cx="343.93" cy="573.56" r="1.59" fill="#111111"/>
<circle cx="349.08" cy="572.50" r="1.59" fill="#111111"/>
<circle cx="365.98" cy="572.50" r="1.59" fill="#111111"/>
<path d="M292.48 574.48V576.87M291.68 574.48h1.6M291.68 576.87h1.6M297.63 572.18V574.95M296.83 572.18h1.6M296.83 574.95h1.6M302.77 573.33V575.91M301.97 573.33h1.6M301.97 575.91h1.6M314.53 571.49V574.37M313.73 571.49h1.6M313.73 574.37h1.6M334.38 572.18V574.95M333.58 572.18h1.6M333.58 574.95h1.6M343.93 575.64V577.84M343.13 575.64h1.6M343.13 577.84h1.6M349.08 568.72V572.06M348.28 568.72h1.6M348.28 572.06h1.6M365.98 569.87V573.02M365.18 569.87h1.6M365.18 573.02h1.6" stroke="#2233dd" stroke-width="0.6" fill="none"/>
<rect x="282.80" y="575.14" width="3.19" height="3.19" fill="#2233dd"/>
<rect x="290.89" y="574.08" width="3.19" height="3.19" fill="#2233dd"/>
<rect x="296.03" y="571.97" width="3.19" height="3.19" fill="#2233dd"/>
<rect x="301.18" y="573.03" width="3.19" height="3.19" fill="#2233dd"/>
<rect x="312.94" y="571.33" width="3.19" height="3.19" fill="#2233dd"/>
<rect x="332.78" y="571.97" width="3.19" height="3.19" fill="#2233dd"/>
<rect x="342.34" y="575.14" width="3.19" height="3.19" fill="#2233dd"/>
<rect x="347.48" y="568.79" width="3.19" height="3.19" fill="#2233dd"/>
<rect x="364.39" y="569.85" width="3.19" height="3.19" fill="#2233dd"/>
<path d="M292.48 568.72V572.06M291.68 568.72h1.6M291.68 572.06h1.6M297.63 568.72V572.06M296.83 568.72h1.6M296.83 572.06h1.6M302.77 569.87V573.02M301.97 569.87h1.6M301.97 573.02h1.6M314.53 569.18V572.45M313.73 569.18h1.6M313.73 572.45h1.6M334.38 577.56V580.14M333.58 577.56h1.6M333.58 580.14h1.6M343.93 572.18V574.95M343.13 572.18h1.6M343.13 574.95h1.6M349.08 572.18V574.95M348.28 572.18h1.6M348.28 574.95h1.6M365.98 575.17V577.45M365.18 575.17h1.6M365.18 577.45h1.6" stroke="#7e2a8e" stroke-width="0.6" fill="none"/>
<path d="M284.40 578.48L286.00 575.58L282.80 575.58Z" fill="#7e2a8e"/>
<path d="M292.48 572.13L294.08 569.23L290.89 569.23Z" fill="#7e2a8e"/>
<path d="M297.63 572.13L299.23 569.23L296.03 569.23Z" fill="#7e2a8e"/>
<path d="M302.77 573.19L304.37 570.29L301.18 570.29Z" fill="#7e2a8e"/>
<path d="M314.53 572.55L316.13 569.65L312.94 569.65Z" fill="#7e2a8e"/>
<path d="M334.38 580.59L335.98 577.69L332.78 577.69Z" fill="#7e2a8e"/>
<path d="M343.93 575.30L345.53 572.40L342.34 572.40Z" fill="#7e2a8e"/>
<path d="M349.08 575.30L350.68 572.40L347.48 572.40Z" fill="#7e2a8e"/>
<path d="M365.98 578.05L367.58 575.15L364.39 575.15Z" fill="#7e2a8e"/>
<path d="M292.48 568.72V572.06M291.68 568.72h1.6M291.68 572.06h1.6M297.63 566.87V570.52M296.83 566.87h1.6M296.83 570.52h1.6M302.77 569.87V573.02M301.97 569.87h1.6M301.97 573.02h1.6M314.53 569.87V573.02M313.73 569.87h1.6M313.73 573.02h1.6M334.38 571.49V574.37M333.58 571.49h1.6M333.58 574.37h1.6M343.93 567.57V571.10M343.13 567.57h1.6M343.13 571.10h1.6M349.08 561.34V565.90M348.28 561.34h1.6M348.28 565.90h1.6M365.98 567.57V571.10M365.18 567.57h1.6M365.18 571.10h1.6" stroke="#e0264f" stroke-width="0.6" fill="none"/>
<path d="M284.40 575.00L286.00 577.90L282.80 577.90Z" fill="#e0264f"/>
<path d="M292.48 568.65L294.08 571.55L290.89 571.55Z" fill="#e0264f"/>
<path d="M297.63 566.96L299.23 569.86L296.03 569.86Z" fill="#e0264f"/>
<path d="M302.77 569.71L304.37 572.61L301.18 572.61Z" fill="#e0264f"/>
<path d="M314.53 569.71L316.13 572.61L312.94 572.61Z" fill="#e0264f"/>
<path d="M334.38 571.19L335.98 574.09L332.78 574.09Z" fill="#e0264f"/>
<path d="M343.93 567.59L345.53 570.49L342.34 570.49Z" fill="#e0264f"/>
<path d="M349.08 561.88L350.68 564.78L347.48 564.78Z" fill="#e0264f"/>
<path d="M365.98 567.59L367.58 570.49L364.39 570.49Z" fill="#e0264f"/>
<path d="M292.48 551.42V557.62M291.68 551.42h1.6M291.68 557.62h1.6M297.63 562.95V567.25M296.83 562.95h1.6M296.83 567.25h1.6M302.77 567.57V571.10M301.97 567.57h1.6M301.97 571.10h1.6M314.53 569.18V572.45M313.73 569.18h1.6M313.73 572.45h1.6M334.38 571.02V573.99M333.58 571.02h1.6M333.58 573.99h1.6M343.93 563.65V567.83M343.13 563.65h1.6M343.13 567.83h1.6M349.08 560.65V565.32M348.28 560.65h1.6M348.28 565.32h1.6M365.98 564.11V568.21M365.18 564.11h1.6M365.18 568.21h1.6" stroke="#23915a" stroke-width="0.6" fill="none"/>
<rect x="282.95" y="575.29" width="2.90" height="2.90" fill="#23915a"/>
<rect x="291.03" y="553.07" width="2.90" height="2.90" fill="#23915a"/>
<rect x="296.18" y="563.65" width="2.90" height="2.90" fill="#23915a"/>
<rect x="301.32" y="567.88" width="2.90" height="2.90" fill="#23915a"/>
<rect x="313.08" y="569.36" width="2.90" height="2.90" fill="#23915a"/>
<rect x="332.93" y="571.05" width="2.90" height="2.90" fill="#23915a"/>
<rect x="342.48" y="564.29" width="2.90" height="2.90" fill="#23915a"/>
<rect x="347.63" y="561.53" width="2.90" height="2.90" fill="#23915a"/>
<rect x="364.53" y="564.71" width="2.90" height="2.90" fill="#23915a"/>
<path d="M15.5 192.6H239" stroke="#111" stroke-width="1.1"/>
<path d="M237.2 190.8L241.8 192.6L237.2 194.4Z" fill="#111"/>
<text x="132.30" y="201.60" font-size="6.35" text-anchor="middle" fill="#000"  stroke="#000" stroke-width="0.127">Study Day</text>
<path d="M276 193H520" stroke="#111" stroke-width="1.1"/>
<text x="404.00" y="200.60" font-size="6.35" text-anchor="middle" fill="#000"  stroke="#000" stroke-width="0.127">Study Day</text>
<text x="1.60" y="218.80" font-size="11.4" text-anchor="start" font-weight="bold" fill="#000" >B</text>
<text x="102.90" y="288.20" font-size="11.5" text-anchor="middle" font-weight="bold" fill="#000" >Pre</text>
<text x="244.30" y="218.40" font-size="11.5" text-anchor="middle" font-weight="bold" fill="#000" >Pre</text>
<text x="319.20" y="218.40" font-size="11.5" text-anchor="middle" font-weight="bold" fill="#000" >Day 10</text>
<text x="429.00" y="288.40" font-size="11.6" text-anchor="middle" font-weight="bold" fill="#000" >Day 10</text>
<g filter="url(#soft)">
<path d="M92.2 330.2h0M90.1 332.3h0M92.8 328.4h0M101.6 337.0h0M92.1 335.2h0M108.1 334.3h0M93.0 328.2h0M107.7 327.6h0M99.4 327.0h0M87.2 332.7h0M107.5 334.3h0M100.8 325.8h0M93.6 336.7h0M92.0 330.0h0M103.5 336.8h0M110.2 330.1h0M94.8 328.6h0M115.8 326.8h0M116.4 320.7h0M112.4 320.5h0M105.2 326.0h0M114.8 320.4h0M110.4 335.8h0M113.5 336.9h0M107.7 322.9h0M106.8 336.7h0M109.8 336.0h0M113.1 335.8h0M103.5 331.0h0M112.6 336.6h0M115.7 330.3h0M115.7 323.6h0M110.1 321.4h0M117.4 327.4h0M111.2 321.6h0M107.3 336.8h0M110.2 336.3h0M109.1 372.8h0M104.6 334.8h0M113.7 346.2h0M111.7 367.6h0M99.4 344.6h0M98.0 358.2h0M105.6 334.1h0M99.1 344.6h0M112.2 336.3h0M105.6 373.7h0M104.0 334.0h0M111.4 332.7h0M110.2 334.9h0M103.0 370.3h0M114.0 340.8h0M106.2 374.3h0M103.7 333.6h0M103.8 335.9h0M108.8 373.9h0M114.0 346.0h0M99.9 343.0h0M111.9 334.6h0M107.6 332.2h0M101.4 370.1h0M104.8 377.0h0M111.7 338.7h0M107.1 331.1h0M110.2 368.5h0M114.8 359.4h0M101.6 339.0h0M113.0 340.5h0M104.4 334.8h0M111.7 334.5h0M115.0 343.7h0M104.0 331.5h0M115.2 359.3h0M110.4 366.7h0M98.7 338.3h0M112.0 364.2h0M113.7 357.3h0M100.3 365.6h0M104.3 329.3h0M114.4 366.7h0M114.0 347.2h0M114.6 360.4h0M115.3 342.9h0M112.4 363.3h0M99.1 361.5h0M96.8 352.7h0M100.3 341.5h0M113.1 359.1h0M98.3 345.5h0M103.5 371.4h0M105.5 334.7h0M101.3 338.1h0M106.7 334.9h0M98.6 363.3h0M98.3 351.9h0M106.7 332.8h0M103.1 372.0h0M113.5 353.9h0M102.7 334.5h0M97.8 359.2h0M100.1 368.5h0M105.6 372.1h0M113.1 355.0h0M105.5 333.2h0M105.1 371.6h0M113.2 345.7h0M110.7 365.2h0M111.7 364.8h0M105.6 376.0h0M97.5 359.6h0M112.9 354.4h0M100.6 368.8h0M101.0 370.7h0M103.9 334.2h0M108.9 329.1h0M108.8 374.3h0M112.4 337.0h0M101.4 338.5h0M100.0 346.6h0M100.2 344.4h0M108.0 335.4h0M101.4 346.5h0M107.6 338.1h0M101.4 345.9h0M101.9 345.7h0M109.7 330.6h0M119.4 354.3h0M113.7 343.1h0M92.1 339.3h0M111.2 347.4h0M101.3 331.3h0M111.6 343.7h0M98.9 348.5h0M93.9 319.9h0M90.6 341.6h0M98.9 335.1h0M115.8 356.0h0M116.7 366.7h0M110.5 354.9h0M112.4 357.8h0M95.8 354.8h0M100.6 333.4h0M117.0 340.6h0M119.6 368.7h0M103.3 374.8h0M113.3 328.9h0M118.0 318.6h0M119.9 375.7h0M98.9 369.6h0M109.6 354.5h0M101.7 367.0h0M104.0 353.7h0M103.9 372.3h0M98.4 332.6h0M90.6 344.6h0M113.0 358.2h0M110.9 330.9h0M115.2 360.9h0M94.6 333.7h0M97.1 360.6h0M107.9 366.3h0M118.1 343.5h0M104.2 377.4h0M96.0 355.9h0M107.8 363.4h0M118.7 319.2h0M116.0 324.8h0M117.0 360.7h0M102.3 374.6h0M97.9 355.7h0M116.1 372.8h0M113.6 321.6h0M115.5 371.5h0M101.7 370.6h0M98.6 355.7h0M97.2 343.8h0M116.1 360.3h0M117.6 332.6h0M101.0 358.1h0M116.2 359.7h0M101.4 350.4h0M103.4 333.6h0M107.0 318.1h0M96.6 329.7h0M98.0 368.0h0M98.0 330.7h0M97.8 322.5h0M105.5 332.8h0M93.0 349.2h0M113.4 353.2h0M95.2 370.6h0M103.3 369.3h0M109.3 376.1h0M94.1 371.1h0M102.3 345.0h0M106.9 326.5h0M106.5 375.3h0M116.8 331.7h0M113.6 355.3h0M93.6 333.9h0M115.0 367.0h0M106.5 330.0h0M110.3 343.2h0M94.8 331.2h0M104.2 369.6h0M111.0 355.2h0M113.9 355.8h0M114.2 336.9h0M96.5 328.6h0M115.0 369.4h0M107.1 363.9h0M110.1 362.1h0M115.5 377.8h0M102.2 351.6h0M117.6 328.7h0M116.4 354.6h0M114.2 335.2h0M101.4 348.8h0M105.8 345.6h0M95.2 351.8h0M112.8 373.3h0M116.7 366.6h0M94.8 342.9h0M112.3 367.0h0M110.8 369.6h0M91.1 364.4h0M117.5 351.1h0M104.4 372.0h0M98.1 347.5h0M90.9 324.4h0M113.5 334.3h0M100.1 357.5h0M105.4 340.7h0M95.8 343.4h0M108.2 342.1h0M101.9 329.5h0M114.2 323.6h0M110.0 320.9h0M111.7 358.4h0M97.5 337.4h0M91.9 345.4h0M116.4 374.1h0M118.1 355.6h0M109.3 366.6h0M117.7 363.7h0M111.2 375.2h0" stroke="#a3a9ec" stroke-width="1.00" stroke-linecap="round" opacity="1.0"/>
<path d="M92.8 332.6h0M105.0 327.7h0M98.4 336.9h0M102.1 327.1h0M99.0 327.5h0M93.6 334.8h0M105.6 334.5h0M106.5 329.5h0M105.3 327.9h0M93.5 334.7h0M95.1 328.8h0M96.3 329.1h0M93.9 334.1h0M96.8 327.9h0M98.2 336.0h0M102.7 336.3h0M105.0 334.8h0M107.9 330.4h0M102.8 336.0h0M93.7 333.9h0M99.0 328.2h0M94.6 329.5h0M93.1 331.3h0M101.4 327.4h0M99.5 328.1h0M93.0 332.9h0M104.0 327.9h0M107.5 330.2h0M107.5 324.4h0M106.5 332.6h0M110.0 322.0h0M114.8 329.7h0M111.6 321.8h0M113.2 323.8h0M105.5 330.7h0M109.1 334.7h0M105.7 329.5h0M106.5 326.4h0M110.1 334.8h0M114.2 324.7h0M107.4 324.3h0M104.7 329.4h0M105.8 328.7h0M114.9 330.3h0M106.8 324.6h0M112.4 322.4h0M106.2 327.5h0M114.6 327.7h0M115.1 324.7h0M110.6 321.9h0M105.3 333.1h0M106.4 326.6h0M106.4 326.0h0M106.3 326.6h0M108.8 334.7h0M112.7 351.3h0M101.0 361.8h0M110.2 341.3h0M101.7 363.6h0M103.1 339.6h0M103.9 370.1h0M106.6 368.1h0M105.3 337.6h0M100.1 343.8h0M111.5 344.2h0M111.7 354.8h0M102.4 339.7h0M107.0 368.9h0M110.1 343.3h0M102.8 368.0h0M100.5 345.0h0M106.0 337.0h0M109.5 362.8h0M100.1 345.3h0M107.4 367.9h0M103.2 340.5h0M101.4 364.0h0M109.6 363.2h0M102.3 365.2h0M109.0 366.0h0M102.2 340.7h0M111.4 346.0h0M111.4 361.7h0M100.1 362.2h0M100.1 360.3h0M102.1 364.3h0M101.7 342.1h0M104.6 337.2h0M111.7 350.3h0M102.2 341.7h0M101.4 344.5h0M108.2 337.9h0M112.2 345.4h0M105.8 366.9h0M101.2 365.2h0M104.9 338.3h0M101.2 345.9h0M111.4 360.4h0M100.9 347.1h0M107.2 336.7h0M101.2 364.2h0M101.2 366.8h0M107.1 368.3h0M108.1 365.7h0M109.4 367.5h0M107.7 338.4h0M110.9 342.8h0M111.4 345.2h0M111.5 343.4h0M101.7 365.5h0M103.3 369.8h0M99.0 351.3h0M100.1 349.7h0M111.4 356.0h0M112.7 355.0h0M110.8 360.3h0M102.2 341.2h0M109.2 337.4h0M109.4 367.8h0M103.8 338.3h0M101.5 340.8h0M111.8 357.3h0M101.6 343.0h0M112.2 355.9h0M109.3 363.4h0M99.0 349.1h0M111.7 352.3h0M104.4 370.2h0M112.1 347.3h0M108.9 365.1h0M103.2 370.0h0M112.1 350.4h0M110.3 343.7h0M99.3 351.8h0M100.4 357.9h0M101.8 342.6h0M111.6 358.7h0M106.7 335.2h0M110.0 362.5h0M107.0 338.1h0M111.5 355.7h0M102.2 341.4h0M103.8 367.1h0M112.3 345.1h0M106.4 338.3h0M100.8 366.1h0M111.9 345.2h0M106.4 370.0h0M112.4 350.3h0M110.3 341.4h0M102.0 366.3h0M110.0 342.1h0M99.5 349.6h0M100.4 365.0h0M112.0 358.5h0M105.2 339.2h0M105.2 335.7h0M101.8 339.9h0M107.1 335.2h0M100.8 343.1h0M107.1 338.3h0M104.3 336.8h0M103.3 338.1h0M100.8 342.6h0M107.3 335.4h0" stroke="#5a66e0" stroke-width="1.00" stroke-linecap="round" opacity="1.0"/>
<path d="M100.9 335.0h0M94.7 331.8h0M94.0 331.8h0M104.1 329.5h0M102.8 328.8h0M105.7 329.6h0M104.1 334.1h0M94.7 331.0h0M105.4 332.8h0M99.7 335.6h0M105.0 332.8h0M95.2 333.6h0M100.2 328.4h0M97.3 329.5h0M94.5 331.0h0M95.4 329.9h0M105.3 330.0h0M105.1 332.8h0M95.1 335.0h0M98.9 335.7h0M95.6 334.7h0M95.9 330.6h0M99.6 328.7h0M105.5 331.3h0M95.2 330.6h0M99.7 329.0h0M100.7 335.5h0M104.3 333.5h0M106.4 332.4h0M93.8 332.4h0M106.1 330.4h0M94.9 330.2h0M104.9 329.2h0M97.4 329.3h0M100.9 335.3h0M103.7 329.3h0M105.0 333.8h0M105.7 332.6h0M105.4 330.3h0M106.3 329.6h0M100.3 328.1h0M95.6 335.2h0M95.7 329.7h0M94.2 332.9h0M105.9 329.3h0M103.7 329.4h0M95.6 331.0h0M106.3 330.2h0M107.2 326.6h0M113.8 326.1h0M111.0 323.7h0M108.8 333.0h0M106.9 328.0h0M107.6 325.8h0M112.2 324.0h0M110.3 333.0h0M112.6 324.2h0M107.7 325.8h0M113.6 328.5h0M114.1 329.6h0M110.9 324.5h0M109.3 333.3h0M108.7 333.6h0M110.2 323.4h0M113.7 326.6h0M107.9 332.4h0M114.0 329.5h0M112.6 331.3h0M107.8 326.3h0M112.5 324.1h0M112.6 332.1h0M107.1 333.0h0M113.0 325.7h0M110.8 323.7h0M109.4 334.2h0M111.3 323.7h0M106.9 329.3h0M112.7 331.1h0M106.9 327.2h0M113.2 325.7h0M108.8 325.0h0M107.2 326.4h0M108.2 325.3h0M113.4 330.6h0M113.6 328.1h0M113.0 330.8h0M113.2 325.8h0M105.8 366.2h0M105.3 365.0h0M110.0 347.7h0M105.8 341.9h0M110.0 349.5h0M109.7 358.1h0M102.0 361.0h0M107.1 340.9h0M108.4 341.4h0M105.2 341.2h0M110.0 343.7h0M109.4 346.1h0M108.5 362.9h0M103.5 344.8h0M105.8 339.4h0M104.6 342.7h0M108.7 343.9h0M110.3 353.4h0M103.1 362.6h0M108.3 341.7h0M110.2 354.3h0M104.0 343.9h0M110.6 351.9h0M101.1 354.6h0M106.1 340.3h0M107.0 340.1h0M107.7 363.8h0M107.7 363.1h0M110.3 358.8h0M100.6 351.7h0M108.7 362.1h0M110.0 349.0h0M104.6 342.5h0M103.0 364.7h0M110.0 355.9h0M110.4 356.7h0M106.7 340.4h0M109.8 358.1h0M111.0 355.6h0M107.0 341.0h0M110.0 357.7h0M101.7 351.1h0M103.5 342.0h0M108.7 363.6h0M101.7 358.2h0M111.1 353.0h0M101.8 351.4h0M105.3 363.3h0M109.2 342.5h0M105.2 341.7h0M103.0 343.1h0M104.7 340.9h0M102.4 359.2h0M104.2 365.4h0M109.9 353.8h0M103.1 345.2h0M110.3 347.4h0M107.7 340.7h0M106.0 365.8h0M109.2 342.2h0M105.8 366.5h0M105.2 363.7h0M106.8 363.7h0M101.7 358.4h0M101.6 350.9h0M110.5 347.1h0M103.7 362.3h0M102.6 343.4h0M103.0 345.6h0M109.0 346.0h0M102.5 345.8h0M110.6 355.5h0M108.2 340.8h0M101.7 345.0h0M110.1 344.1h0M101.5 349.4h0M107.8 341.0h0M102.6 346.2h0M105.9 363.5h0M110.1 352.3h0M110.6 354.5h0M101.2 358.4h0M108.8 345.2h0M109.5 362.5h0M108.3 362.9h0M101.6 356.0h0M110.6 348.9h0M102.9 361.6h0M109.5 359.1h0M100.4 356.3h0M102.3 360.8h0M109.5 347.0h0M105.1 341.1h0M102.1 343.8h0M106.1 365.0h0M103.0 362.5h0M108.6 343.0h0M107.2 342.6h0M103.9 341.3h0M101.7 355.9h0M109.1 361.9h0M111.2 350.6h0M101.9 361.6h0M105.1 342.1h0M109.2 344.6h0M104.6 341.6h0M110.8 355.4h0M110.2 357.0h0M110.6 353.0h0M108.4 344.6h0M105.0 341.1h0M107.2 365.9h0M102.1 358.8h0M108.8 363.5h0M102.3 346.3h0M103.6 342.9h0M100.4 353.1h0M101.4 355.0h0M101.8 345.5h0M104.5 341.2h0M100.3 352.2h0M102.0 361.2h0M110.2 348.0h0M107.6 340.1h0M108.7 364.3h0M102.5 346.4h0M110.8 353.0h0M105.3 341.3h0M110.9 347.5h0M103.6 342.8h0M103.8 344.3h0M101.6 361.7h0M111.2 352.6h0M109.5 361.2h0M107.0 339.7h0M104.1 362.8h0M106.3 340.6h0M107.7 364.0h0M109.6 359.2h0M110.8 357.3h0M110.2 350.9h0M102.1 348.3h0M101.1 350.6h0M105.8 364.9h0M102.6 343.3h0M101.6 341.8h0M106.1 337.4h0M103.1 343.1h0M103.0 338.9h0M106.2 338.6h0M104.5 337.4h0M101.8 342.4h0M105.1 341.0h0M105.6 339.7h0M102.5 343.3h0M106.1 337.5h0M105.5 337.2h0M102.4 343.5h0M105.8 339.1h0M105.9 338.6h0M105.3 340.1h0M102.3 342.9h0" stroke="#3346dc" stroke-width="1.00" stroke-linecap="round" opacity="1.0"/>
<path d="M98.8 330.1h0M98.1 330.0h0M100.3 329.8h0M95.3 333.4h0M96.1 330.7h0M100.4 334.0h0M95.4 332.9h0M103.6 331.8h0M100.3 329.2h0M99.0 329.6h0M99.2 334.6h0M98.7 330.1h0M96.7 331.1h0M103.2 332.8h0M96.1 332.4h0M100.0 329.6h0M100.9 329.9h0M104.1 331.9h0M95.8 333.5h0M97.1 334.3h0M99.2 329.9h0M104.4 330.1h0M105.1 330.9h0M104.0 331.5h0M96.1 333.4h0M97.4 333.5h0M104.0 331.1h0M102.6 333.5h0M103.8 333.6h0M102.5 333.7h0M103.1 329.2h0M99.2 329.9h0M96.1 331.1h0M103.7 331.3h0M98.6 334.0h0M99.4 334.8h0M104.7 331.7h0M96.3 333.8h0M97.9 334.9h0M95.1 332.4h0M98.6 334.0h0M100.2 329.5h0M105.0 332.1h0M98.4 329.7h0M100.2 334.0h0M97.1 334.5h0M97.4 333.8h0M99.9 329.7h0M96.2 333.4h0M96.6 331.4h0M103.8 333.1h0M95.6 332.6h0M99.1 329.5h0M100.3 329.3h0M104.3 330.3h0M101.4 334.1h0M99.1 334.6h0M100.6 329.1h0M96.8 334.4h0M98.6 329.6h0M99.0 334.5h0M101.2 329.4h0M96.8 331.8h0M100.3 334.0h0M97.3 330.2h0M103.4 330.3h0M97.4 333.8h0M99.6 329.6h0M102.4 329.2h0M95.9 333.5h0M96.8 330.8h0M102.2 329.9h0M101.6 329.5h0M113.1 326.3h0M112.5 325.7h0M112.6 328.1h0M107.6 327.8h0M109.5 325.9h0M111.1 325.4h0M109.4 325.2h0M110.3 325.4h0M111.6 325.0h0M112.4 330.3h0M108.1 329.7h0M113.4 327.0h0M110.5 332.7h0M112.1 325.8h0M109.6 325.5h0M112.0 330.7h0M112.6 330.7h0M110.1 331.6h0M108.1 327.5h0M108.9 331.2h0M107.7 329.2h0M112.2 331.2h0M112.9 328.8h0M108.0 328.8h0M107.8 330.5h0M111.7 326.0h0M113.0 327.4h0M107.8 328.5h0M112.1 326.4h0M112.6 326.8h0M112.3 326.3h0M110.4 325.2h0M112.9 329.5h0M108.8 327.1h0M112.6 329.1h0M112.3 327.6h0M110.9 331.4h0M108.8 327.2h0M109.7 332.6h0M109.5 326.4h0M108.0 326.8h0M108.8 331.6h0M109.1 326.6h0M111.2 331.3h0M112.3 328.4h0M108.1 330.1h0M109.3 325.3h0M111.7 324.9h0M112.2 326.9h0M109.1 332.0h0M109.9 325.7h0M111.5 331.2h0M110.9 325.9h0M112.3 327.4h0M113.5 328.1h0M113.0 327.5h0M112.5 327.7h0M111.8 330.2h0M108.1 327.8h0M110.6 331.6h0M111.0 325.0h0M109.3 331.6h0M108.1 327.3h0M112.9 325.8h0M111.7 325.5h0M108.3 354.1h0M106.6 347.3h0M106.6 359.3h0M108.7 359.0h0M109.4 349.2h0M103.4 351.3h0M104.3 360.9h0M107.0 359.1h0M103.5 356.0h0M104.1 362.4h0M106.3 360.5h0M108.6 350.4h0M107.9 359.8h0M108.3 352.5h0M107.2 358.6h0M105.3 361.7h0M105.2 345.4h0M107.3 345.3h0M109.3 351.9h0M109.4 353.3h0M109.5 350.2h0M106.3 345.4h0M109.4 349.7h0M107.6 346.0h0M109.2 347.5h0M107.2 346.9h0M103.4 351.1h0M106.5 344.7h0M108.6 352.7h0M104.6 360.5h0M104.8 346.2h0M102.9 349.5h0M103.2 360.4h0M108.8 349.9h0M108.5 347.7h0M102.1 350.6h0M106.0 346.9h0M102.9 347.5h0M108.4 356.0h0M108.4 355.0h0M108.4 349.7h0M105.9 345.4h0M104.9 361.8h0M103.4 348.8h0M103.5 354.3h0M105.4 362.0h0M106.8 358.3h0M106.2 345.0h0M107.0 361.9h0M104.3 346.0h0M102.4 349.7h0M104.7 346.1h0M105.5 345.7h0M107.7 360.7h0M103.9 360.8h0M105.0 360.0h0M105.5 360.5h0M109.2 352.4h0M105.4 345.9h0M104.7 347.2h0M109.0 350.0h0M108.0 354.9h0M103.6 349.1h0M102.4 354.6h0M103.2 359.6h0M104.4 345.1h0M106.2 359.6h0M103.6 355.7h0M108.0 360.7h0M103.9 348.4h0M107.4 358.0h0M106.9 345.3h0M106.2 360.2h0M105.4 359.6h0M103.6 358.2h0M103.2 354.8h0M106.5 360.5h0M106.2 347.0h0M103.3 360.7h0M107.5 358.0h0M103.5 358.2h0M104.6 359.4h0M109.1 354.4h0M106.4 344.6h0M103.2 350.1h0M103.2 354.8h0M103.2 358.9h0M104.5 359.8h0M108.0 348.1h0M105.6 344.8h0M102.3 354.3h0M102.5 357.4h0M105.9 344.1h0M104.0 359.4h0M108.2 348.2h0M102.6 355.3h0M105.2 361.7h0M102.5 349.5h0M104.2 359.3h0M104.8 359.1h0M107.0 359.5h0M107.4 345.5h0M103.6 347.6h0M108.4 350.0h0M108.2 352.2h0M102.2 349.0h0M107.2 345.3h0M109.1 353.1h0M106.1 343.1h0M103.9 359.3h0M108.1 351.9h0M103.5 353.1h0M108.7 348.9h0M108.1 353.2h0M104.4 359.4h0M107.4 345.6h0M106.3 362.2h0M107.1 345.3h0M103.2 354.1h0M102.5 355.3h0M104.8 362.6h0M104.5 348.5h0M108.0 354.7h0M108.9 349.8h0M104.7 348.1h0M103.0 352.4h0M104.1 359.6h0M103.7 349.4h0M102.4 352.8h0M107.7 357.9h0M102.6 356.7h0M104.4 346.3h0M106.7 361.8h0M106.7 362.0h0M106.3 345.2h0M104.6 359.6h0M108.2 346.6h0M108.3 347.4h0M108.2 351.1h0M103.2 346.9h0M105.1 344.3h0M102.9 351.5h0M109.3 347.4h0M103.4 359.7h0M106.6 343.6h0M104.7 346.5h0M108.7 357.0h0M109.4 348.4h0M108.1 352.4h0M102.8 355.0h0M104.0 361.5h0M103.3 349.8h0M107.2 346.1h0M104.0 347.6h0M102.3 357.7h0M102.5 353.4h0M106.6 362.6h0M105.5 363.2h0M108.5 359.2h0M109.3 348.8h0M109.2 352.3h0M103.5 350.2h0M106.8 358.7h0M107.8 355.6h0M102.3 352.7h0M107.7 357.7h0M103.8 359.8h0M109.6 354.2h0M107.2 345.4h0M105.4 360.8h0M104.8 347.1h0M104.7 346.6h0M102.6 351.7h0M103.8 348.7h0M109.1 347.3h0M108.6 350.2h0M106.2 346.0h0M102.0 352.9h0M108.1 357.1h0M103.5 353.9h0M105.5 345.4h0M108.6 348.5h0M103.0 358.5h0M108.3 349.9h0M106.9 343.5h0M107.2 347.5h0M103.2 353.8h0M107.3 348.3h0M108.5 359.9h0M107.5 357.2h0M107.9 350.0h0M104.5 361.9h0M103.7 357.5h0M109.2 357.5h0M106.1 345.2h0M105.7 346.5h0M108.3 355.5h0M109.3 348.4h0M108.4 354.4h0M102.6 355.3h0M102.8 346.9h0M107.2 358.2h0M107.6 357.0h0M108.6 357.9h0M105.1 344.7h0M103.3 357.1h0M103.6 346.2h0M102.7 354.3h0M108.5 346.6h0M103.6 350.0h0M102.8 360.3h0M105.3 338.8h0M102.6 342.3h0M104.3 338.1h0M104.6 337.8h0M105.5 338.4h0M103.3 342.2h0M103.2 339.8h0M105.5 337.4h0M103.7 339.5h0M103.0 339.7h0M104.8 339.6h0M104.9 340.6h0M105.0 338.2h0M102.4 341.6h0M104.5 338.5h0M104.3 340.9h0M104.0 338.6h0M103.0 340.0h0M104.9 339.2h0" stroke="#2a78e0" stroke-width="1.00" stroke-linecap="round" opacity="1.0"/>
<path d="M100.3 332.7h0M98.0 330.9h0M102.3 332.5h0M100.3 333.6h0M100.8 331.5h0M100.0 332.3h0M97.9 332.1h0M100.7 332.1h0M100.7 333.3h0M99.7 333.7h0M100.2 333.6h0M100.8 330.8h0M97.8 331.9h0M98.3 332.1h0M98.8 331.4h0M98.4 331.6h0M101.6 331.5h0M100.0 331.0h0M100.3 333.5h0M100.4 333.3h0M101.2 333.0h0M99.4 331.6h0M100.4 330.6h0M99.8 331.4h0M99.7 330.2h0M97.3 331.7h0M98.0 332.4h0M98.6 331.5h0M99.2 330.7h0M100.1 332.2h0M98.0 332.0h0M101.3 331.7h0M98.3 331.1h0M102.6 330.9h0M99.6 332.1h0M101.5 330.5h0M100.4 333.9h0M101.2 331.9h0M99.2 332.2h0M100.1 333.0h0M100.7 330.1h0M101.7 332.6h0M99.9 332.2h0M100.4 331.8h0M100.6 333.8h0M102.5 332.2h0M101.2 331.7h0M99.1 331.8h0M97.9 331.4h0M102.9 331.9h0M101.0 331.3h0M99.4 332.2h0M99.8 330.7h0M102.2 331.9h0M98.6 331.7h0M99.4 332.4h0M97.9 332.8h0M99.1 331.7h0M101.4 333.1h0M101.3 331.4h0M101.2 332.5h0M99.0 332.1h0M101.0 331.7h0M102.6 331.8h0M98.5 330.7h0M100.8 330.1h0M102.2 331.4h0M98.5 331.5h0M103.3 331.1h0M101.0 332.8h0M98.1 331.3h0M99.8 330.8h0M101.7 331.3h0M99.8 333.5h0M99.8 332.2h0M110.8 328.9h0M110.5 329.1h0M109.3 328.4h0M110.1 328.4h0M108.4 328.0h0M111.8 328.9h0M111.0 328.4h0M110.2 326.8h0M110.8 329.0h0M110.3 329.4h0M110.2 327.3h0M110.1 326.8h0M110.6 329.4h0M110.3 327.3h0M111.1 329.9h0M110.5 330.3h0M108.9 327.5h0M111.3 330.7h0M111.0 329.5h0M109.3 331.1h0M111.5 328.1h0M109.8 329.8h0M108.8 328.3h0M109.4 330.5h0M109.0 328.3h0M109.9 328.5h0M111.9 327.6h0M110.7 327.7h0M110.1 329.6h0M109.6 329.4h0M112.0 328.2h0M109.0 330.9h0M110.0 327.4h0M109.3 330.1h0M112.2 328.2h0M109.1 327.2h0M111.0 328.7h0M109.5 328.3h0M110.1 328.5h0M109.4 328.9h0M109.2 328.2h0M109.1 330.4h0M110.7 329.4h0M110.9 327.2h0M108.3 329.5h0M112.0 329.0h0M110.9 329.4h0M111.7 329.4h0M110.7 330.4h0M109.4 329.3h0M110.7 326.4h0M111.1 326.8h0M109.1 328.3h0M110.7 328.3h0M109.7 329.8h0M110.1 329.2h0M108.8 329.5h0M109.4 329.0h0M105.8 357.2h0M106.3 353.6h0M105.8 348.4h0M104.1 353.5h0M106.0 348.2h0M105.6 357.2h0M105.3 357.9h0M105.0 351.6h0M106.9 356.4h0M104.4 356.7h0M106.0 353.4h0M106.9 350.3h0M105.5 357.8h0M107.8 351.0h0M105.0 354.4h0M106.8 351.2h0M106.2 354.9h0M105.2 348.4h0M105.2 348.3h0M106.9 357.3h0M107.0 353.5h0M105.4 350.4h0M106.9 353.1h0M105.6 353.8h0M105.4 351.6h0M107.6 353.4h0M105.8 357.3h0M103.8 350.8h0M104.6 354.8h0M105.6 353.0h0M103.9 354.9h0M104.1 349.8h0M107.2 350.9h0M104.6 355.4h0M107.0 349.8h0M106.5 356.6h0M105.7 351.9h0M105.5 351.3h0M106.0 354.5h0M104.0 352.7h0M106.0 351.1h0M107.1 356.3h0M106.3 356.5h0M105.1 350.2h0M106.9 355.6h0M104.6 356.5h0M105.3 352.1h0M106.7 355.4h0M106.0 356.9h0M105.0 353.8h0M107.3 354.9h0M104.7 348.6h0M105.7 351.5h0M104.5 351.3h0M105.3 354.3h0M105.3 357.8h0M107.1 352.1h0M105.2 349.3h0M106.3 349.1h0M106.0 352.0h0M106.1 351.6h0M104.9 349.1h0M105.6 353.9h0M104.5 350.4h0M106.1 356.5h0M103.6 352.4h0M104.0 354.6h0M103.9 351.5h0M105.4 352.4h0M104.4 350.8h0M104.9 356.4h0M106.8 354.3h0M104.8 348.6h0M106.9 355.4h0M106.8 354.0h0M104.5 356.1h0M106.4 353.1h0M104.5 350.6h0M107.8 351.5h0M107.4 356.4h0M106.5 354.9h0M105.0 352.4h0M105.5 353.0h0M105.3 350.6h0M104.1 352.5h0M103.9 351.9h0M106.9 352.3h0M106.8 355.6h0M106.3 352.2h0M104.3 357.1h0M106.2 351.6h0M107.1 350.9h0M106.8 351.7h0M105.4 358.3h0M104.0 352.2h0M104.5 355.9h0M105.2 353.0h0M106.5 349.0h0M104.5 357.4h0M105.9 349.9h0M106.2 353.2h0M105.4 351.8h0M105.6 358.0h0M104.8 353.6h0M104.9 357.0h0M104.0 353.6h0M104.9 356.0h0M104.2 352.5h0M106.8 350.9h0M105.9 351.5h0M106.2 347.7h0M104.2 339.3h0M103.4 341.1h0M103.7 340.1h0M103.5 340.1h0M103.4 340.2h0M104.1 340.2h0M104.1 339.6h0" stroke="#22b8c0" stroke-width="1.00" stroke-linecap="round" opacity="1.0"/>
<ellipse cx="106" cy="350" rx="2.6" ry="6" fill="url(#gcore2)"/>
<ellipse cx="100.2" cy="332" rx="3.4" ry="2.2" fill="url(#gcore2)"/>
<ellipse cx="110.3" cy="329" rx="2.2" ry="3" fill="url(#gcore2)"/>
</g>
<rect x="70.30" y="301.80" width="76.30" height="77.20" fill="none" stroke="#333" stroke-width="0.9"/>
<path d="M77.4 325.4L101.7 322.7L106 339.7L90.6 340.7Z" fill="none" stroke="#777" stroke-width="0.6"/>
<path d="M101.7 322.7L104.9 320.6L116 319L120.8 339.1L106.5 340.2" fill="none" stroke="#777" stroke-width="0.6"/>
<path d="M97.2 340.4V379M118.5 340.4V379M97.2 340.4H118.5" fill="none" stroke="#777" stroke-width="0.6"/>
<text x="75.80" y="314.20" font-size="4.9" text-anchor="start" fill="#000" stroke="#222" stroke-width="0.18">CD8</text>
<text x="75.80" y="320.20" font-size="4.9" text-anchor="start" fill="#000" stroke="#222" stroke-width="0.18">Naive</text>
<text x="75.80" y="326.00" font-size="4.9" text-anchor="start" fill="#000" stroke="#222" stroke-width="0.18">16.73</text>
<text x="75.80" y="361.40" font-size="4.9" text-anchor="start" fill="#000" stroke="#222" stroke-width="0.18">CD8</text>
<text x="75.80" y="372.40" font-size="4.9" text-anchor="start" fill="#000" stroke="#222" stroke-width="0.18">58.84</text>
<text x="125.80" y="316.80" font-size="4.9" text-anchor="middle" fill="#000" stroke="#222" stroke-width="0.18">23.44</text>
<text x="113.80" y="311.20" font-size="4.9" text-anchor="start" fill="#000" stroke="#222" stroke-width="0.18">CD8 T<tspan font-size="3.2" dy="1">CM</tspan></text>
<text x="75.80" y="367.00" font-size="4.9" text-anchor="start" fill="#000" stroke="#222" stroke-width="0.18">T<tspan font-size="3.2" dy="1">EM</tspan></text>
<text x="78.00" y="388.40" font-size="3.2" text-anchor="middle" fill="#555">10<tspan font-size="2.3" dy="-1.4">1</tspan></text>
<text x="92.00" y="388.40" font-size="3.2" text-anchor="middle" fill="#555">10<tspan font-size="2.3" dy="-1.4">2</tspan></text>
<text x="107.00" y="388.40" font-size="3.2" text-anchor="middle" fill="#555">10<tspan font-size="2.3" dy="-1.4">3</tspan></text>
<text x="122.00" y="388.40" font-size="3.2" text-anchor="middle" fill="#555">10<tspan font-size="2.3" dy="-1.4">4</tspan></text>
<text x="137.00" y="388.40" font-size="3.2" text-anchor="middle" fill="#555">10<tspan font-size="2.3" dy="-1.4">5</tspan></text>
<text transform="translate(52.6 340.4) rotate(-90)" font-size="7.4" text-anchor="middle" stroke="#000" stroke-width="0.22">CD28</text>
<text x="103.30" y="405.80" font-size="7.4" text-anchor="middle" fill="#000"  stroke="#000" stroke-width="0.148">CD95</text>
<path d="M68.4 306.0h1.1M68.4 319.8h1.1M68.4 333.6h1.1M68.4 347.4h1.1M68.4 361.2h1.1M68.4 375.0h1.1" stroke="#666" stroke-width="0.5"/>
<path d="M146.6 301.6L186.5 276.6M151 336.2H183M146.6 380.9L186.2 409.3" stroke="#111" stroke-width="1.3" fill="none"/>
<path d="M189.3 275L184.3 275.8L186.3 279Z" fill="#111"/>
<path d="M186 336.2L181.5 334.4L181.5 338Z" fill="#111"/>
<path d="M188.6 410.9L186.2 406.4L183.9 409.6Z" fill="#111"/>
<text x="164.00" y="275.90" font-size="10.6" text-anchor="start" font-weight="bold" fill="#000" >T<tspan font-size="6.9" dy="2.8" dx="0.5">N</tspan></text>
<text x="160.80" y="327.00" font-size="10.6" text-anchor="start" font-weight="bold" fill="#000" >T<tspan font-size="7.4" dy="2.9" dx="0.9">CM</tspan></text>
<text x="166.00" y="388.60" font-size="10.6" text-anchor="start" font-weight="bold" fill="#000" >T<tspan font-size="7.5" dy="2.9" dx="0.6">EM</tspan></text>
<g filter="url(#soft)">
<path d="M240.9 254.8h0M235.0 246.9h0M237.5 255.3h0M234.5 250.2h0M243.0 249.9h0M243.7 248.9h0M236.6 255.1h0M242.2 248.1h0M242.6 255.4h0M234.2 250.7h0M237.3 256.5h0M233.8 252.1h0M241.5 248.3h0M241.3 247.4h0M233.6 251.0h0M233.4 252.9h0M241.4 248.2h0M242.4 249.3h0M240.7 247.4h0M240.4 247.8h0M231.7 251.9h0M239.2 256.2h0M236.5 248.1h0M238.7 252.4h0M237.0 252.8h0M237.1 252.1h0M240.3 251.6h0M238.8 248.5h0M235.6 251.3h0M240.3 246.6h0M241.1 250.9h0" stroke="#a8c8e8" stroke-width="1.00" stroke-linecap="round" opacity="1.0"/>
<path d="M239.2 253.9h0M241.0 249.2h0M241.4 249.5h0M240.5 249.2h0M240.9 251.5h0M241.6 249.4h0M237.8 248.8h0M236.0 249.3h0M235.3 253.3h0M235.9 250.2h0M241.2 251.9h0M238.8 248.4h0M237.8 248.6h0M235.2 249.9h0M242.1 249.8h0M239.8 248.3h0M241.6 250.5h0M238.1 254.5h0M235.4 253.9h0M235.1 251.3h0M241.2 251.8h0M238.4 248.7h0M235.6 253.0h0M238.5 248.5h0M239.9 248.7h0M237.8 247.8h0M242.0 250.4h0M241.1 249.1h0M238.2 254.1h0M235.6 249.5h0M241.7 252.2h0M240.5 248.3h0M239.0 253.5h0M239.5 248.4h0M234.4 251.9h0M241.0 251.8h0M234.2 252.0h0M234.5 250.9h0M239.9 249.1h0M236.2 253.9h0M241.2 250.1h0M240.8 250.4h0M237.4 250.5h0M237.5 250.0h0M238.9 252.1h0M238.7 248.6h0M239.1 249.0h0M238.3 249.1h0M240.2 250.0h0M237.2 251.2h0M237.7 249.7h0" stroke="#6aaed0" stroke-width="1.00" stroke-linecap="round" opacity="1.0"/>
<path d="M239.5 250.3h0M237.4 253.7h0M239.1 249.6h0M240.3 249.5h0M236.3 251.4h0M239.7 252.3h0M237.7 249.1h0M240.7 252.0h0M239.5 249.1h0M238.4 253.4h0M236.9 252.9h0M240.0 251.6h0M235.4 252.1h0M239.2 252.4h0M238.4 249.9h0M236.1 252.9h0M239.7 252.7h0M237.1 253.5h0M240.1 251.4h0M240.0 251.4h0M239.9 252.5h0M239.9 251.9h0M236.3 253.4h0M238.7 252.9h0M240.7 251.2h0M239.1 250.2h0M240.4 251.6h0M235.8 251.3h0M235.6 251.6h0M235.4 251.5h0M236.9 249.9h0M238.1 252.7h0M240.4 249.6h0M236.2 253.2h0M239.8 250.6h0M238.0 253.3h0M236.3 252.9h0M236.5 250.5h0M238.3 249.2h0M236.5 250.2h0M239.0 250.2h0M235.5 251.7h0M235.4 251.8h0M237.8 249.5h0M235.7 251.3h0M236.6 249.6h0M235.9 252.4h0M237.9 250.1h0M236.2 252.5h0M235.8 250.4h0M240.4 251.5h0M240.8 250.9h0M240.1 249.3h0M237.5 253.5h0M236.6 252.1h0M239.7 249.1h0M237.4 253.4h0M236.0 252.2h0M239.3 250.4h0M236.9 252.3h0M236.2 252.3h0M239.1 249.1h0M235.8 251.7h0M237.5 253.5h0M236.7 250.5h0M240.6 250.5h0M239.4 249.8h0M236.9 250.7h0M240.0 250.1h0M239.5 250.4h0M239.0 250.9h0M239.6 251.0h0M238.5 251.4h0M238.7 249.9h0M237.9 250.0h0M239.7 249.7h0M238.7 249.4h0M239.0 251.4h0M237.5 250.7h0M237.7 250.3h0M238.5 249.7h0M239.5 249.2h0M239.8 249.8h0M239.4 249.4h0M239.9 250.9h0" stroke="#3f9098" stroke-width="1.00" stroke-linecap="round" opacity="1.0"/>
<path d="M237.7 251.8h0M238.8 250.6h0M239.1 251.0h0M238.3 250.9h0M237.9 250.6h0M238.5 252.0h0M239.1 251.8h0M238.8 251.3h0M239.2 250.9h0M238.8 251.8h0M239.2 250.9h0M238.1 252.1h0M239.5 251.0h0M239.0 250.4h0M237.5 251.2h0M239.5 250.7h0M238.4 250.6h0M237.9 251.0h0M238.4 250.2h0M239.1 250.3h0M238.7 250.7h0M238.7 250.4h0M239.2 250.6h0" stroke="#327a7c" stroke-width="1.00" stroke-linecap="round" opacity="1.0"/>
<path d="M244.4 265.9h0M241.9 262.0h0M238.7 271.6h0M237.4 259.2h0M239.2 272.1h0M237.9 273.8h0M242.4 284.2h0M240.8 259.9h0M235.5 270.3h0M235.9 284.1h0M242.1 268.2h0M238.9 286.1h0M237.3 281.9h0M241.6 257.5h0M236.8 269.9h0M237.2 283.6h0M236.6 275.0h0M232.1 280.2h0M240.6 291.6h0M234.4 280.3h0M236.3 275.7h0M235.8 286.5h0M240.2 271.5h0M237.8 256.4h0M238.0 265.8h0M233.0 277.4h0M237.7 290.1h0M233.6 277.9h0M238.9 266.2h0M239.1 291.8h0M237.9 270.4h0M244.1 264.2h0M239.6 275.9h0M239.8 268.4h0M238.4 260.0h0M237.4 281.7h0M240.9 280.9h0M241.3 291.0h0M234.1 260.9h0M241.2 288.8h0" stroke="#d0d3f2" stroke-width="0.90" stroke-linecap="round" opacity="1.0"/>
<path d="M267.1 248.3h0M254.1 278.2h0M259.5 277.8h0M263.1 282.2h0M255.6 262.6h0M250.6 247.7h0M268.1 271.0h0M252.0 286.9h0M259.8 252.7h0M258.5 236.1h0M269.7 245.5h0M261.4 288.2h0M258.2 235.3h0M271.4 238.1h0M256.5 240.6h0M265.4 285.8h0" stroke="#e0e2f5" stroke-width="0.90" stroke-linecap="round" opacity="1.0"/>
<path d="M319.4 249.9h0M309.9 250.6h0M314.3 252.2h0M307.3 249.0h0M309.8 252.0h0M312.9 252.2h0M318.6 251.1h0M321.0 250.2h0M324.4 251.9h0M305.4 248.5h0M314.7 252.1h0M309.8 251.6h0M306.3 249.0h0M310.3 247.4h0M318.6 251.0h0M321.3 250.6h0M310.7 250.9h0M315.3 252.9h0M310.1 247.9h0M315.6 251.8h0M318.5 251.3h0M341.1 269.2h0M322.4 292.1h0M326.5 288.9h0M334.2 275.1h0M328.1 286.4h0M330.1 280.8h0M345.0 277.5h0M354.7 287.5h0M337.6 288.1h0M344.0 269.8h0M347.9 290.3h0M344.9 264.9h0M344.3 264.2h0M322.0 278.0h0M351.6 272.7h0M327.5 276.3h0M328.1 277.9h0M339.3 277.6h0M342.0 290.3h0M347.7 290.6h0M332.0 274.0h0M354.1 272.3h0M343.4 283.0h0M350.7 269.8h0M338.2 275.6h0M324.4 284.8h0M322.4 264.2h0M343.8 286.4h0M336.5 285.3h0M337.0 275.2h0M333.1 271.2h0M328.1 279.7h0M338.1 272.6h0M330.7 287.8h0M352.4 281.1h0" stroke="#d5d8f4" stroke-width="1.00" stroke-linecap="round" opacity="1.0"/>
<path d="M314.1 248.0h0M312.0 250.0h0M314.3 249.9h0M315.0 248.9h0M315.9 248.4h0M316.1 249.9h0M315.8 250.6h0M318.1 250.5h0M314.8 249.9h0M311.3 248.5h0M315.5 248.9h0M313.3 248.2h0M313.5 250.1h0M317.6 249.9h0M316.0 249.1h0M313.5 250.5h0M313.2 250.4h0M314.8 248.2h0M317.3 250.8h0M316.2 251.1h0M317.9 249.9h0M314.8 249.1h0M314.5 249.6h0M313.4 248.6h0M312.6 247.7h0M312.0 250.3h0M316.8 249.6h0M314.6 249.2h0M312.0 249.2h0M317.2 249.6h0M314.7 250.1h0M314.0 250.9h0M317.5 250.3h0M314.5 249.3h0M316.0 251.0h0M314.5 250.2h0M313.6 247.7h0M311.1 250.3h0M314.5 250.7h0" stroke="#a7adec" stroke-width="1.00" stroke-linecap="round" opacity="1.0"/>
<path d="M239.3 332.6h0M237.1 333.4h0M238.2 347.6h0M240.4 333.1h0M233.8 346.4h0M239.1 331.4h0M242.2 337.4h0M236.2 348.5h0M233.2 339.2h0M231.0 346.7h0M232.9 349.7h0M244.0 338.3h0M233.3 346.7h0M242.8 340.3h0M242.2 332.3h0M242.7 332.7h0M237.3 332.4h0M242.8 336.0h0M233.6 337.7h0M235.5 349.1h0M242.2 336.7h0M233.7 348.8h0M231.4 340.4h0M242.3 337.6h0M232.4 343.7h0M230.3 345.3h0M243.5 332.1h0M232.7 347.6h0M236.0 348.7h0M236.4 331.4h0M233.8 335.0h0M232.6 341.1h0M237.0 348.7h0M232.3 338.3h0M239.2 330.7h0M241.7 342.1h0M241.9 334.3h0M237.3 332.7h0M232.8 337.9h0M236.7 334.3h0M242.5 332.0h0M233.6 350.8h0M244.4 343.0h0M242.8 330.0h0M238.8 333.0h0M232.7 348.4h0M235.8 334.7h0M235.0 340.0h0M237.6 341.2h0M233.3 339.6h0M237.7 334.9h0M239.1 337.5h0M234.8 341.8h0M234.4 343.3h0M236.8 343.1h0M234.2 341.9h0M235.5 342.1h0M237.8 334.4h0M238.1 343.5h0M233.9 338.0h0M235.0 344.9h0M237.7 333.6h0M238.2 340.5h0M234.8 340.9h0M235.1 340.8h0M238.5 340.8h0" stroke="#b8bdf0" stroke-width="1.00" stroke-linecap="round" opacity="1.0"/>
<path d="M237.4 334.6h0M234.8 339.7h0M238.0 346.3h0M239.4 335.4h0M237.0 336.1h0M234.3 345.1h0M240.3 339.2h0M240.5 339.9h0M240.1 343.7h0M235.2 343.7h0M236.8 335.8h0M233.6 340.6h0M234.4 346.5h0M235.2 347.3h0M233.2 342.5h0M234.1 345.9h0M235.7 345.0h0M237.7 333.8h0M235.6 337.0h0M233.3 345.0h0M240.0 342.6h0M235.1 339.2h0M237.0 335.0h0M235.5 338.8h0M240.2 339.2h0M239.6 341.2h0M236.1 336.1h0M234.6 340.6h0M237.1 335.3h0M239.7 341.6h0M235.0 339.3h0M240.7 336.4h0M239.1 335.3h0M236.8 345.8h0M239.1 343.0h0M239.5 335.9h0M239.6 343.3h0M238.9 336.2h0M239.8 337.8h0M239.8 341.2h0M240.9 337.2h0M240.1 334.2h0M239.9 339.6h0M236.9 336.7h0M235.3 339.4h0M240.5 336.1h0M241.2 340.1h0M235.3 345.3h0M234.3 346.7h0M238.3 334.3h0M239.8 343.1h0M236.8 345.6h0M240.4 341.3h0M235.1 344.1h0M240.9 335.4h0M240.4 338.9h0M236.3 337.3h0M236.2 344.6h0M235.0 339.8h0M234.0 343.2h0M234.2 338.0h0M234.7 339.5h0M239.6 336.3h0M236.4 346.2h0M238.9 343.9h0M240.1 337.1h0M234.5 340.0h0M239.2 336.1h0M238.9 336.3h0M234.9 345.5h0M235.8 347.0h0M234.9 337.0h0M240.1 343.0h0M238.0 344.1h0M238.0 336.2h0M238.1 335.3h0M235.5 346.2h0M233.3 341.8h0M234.7 336.9h0M233.9 339.7h0M239.1 335.7h0M237.0 336.3h0M235.2 343.9h0M237.9 346.1h0M240.0 340.4h0M236.4 339.2h0M236.7 339.7h0M235.8 339.5h0M235.5 340.6h0M237.1 340.3h0M235.9 339.9h0M237.7 336.3h0M236.9 341.0h0M238.0 338.2h0M236.6 337.6h0M236.3 337.5h0M238.2 337.6h0M238.6 335.7h0M235.7 337.9h0M237.7 340.1h0M238.1 336.5h0M236.2 338.5h0M238.7 336.8h0M236.6 340.8h0M238.6 336.5h0" stroke="#8c93e6" stroke-width="1.00" stroke-linecap="round" opacity="1.0"/>
<path d="M236.7 343.4h0M236.3 342.4h0M237.3 340.1h0M237.3 337.0h0M235.1 342.8h0M237.4 342.9h0M238.0 341.2h0M236.0 338.2h0M236.3 338.1h0M237.5 340.2h0M237.3 338.9h0M237.0 340.4h0M237.8 339.8h0M237.8 340.4h0M237.1 343.0h0M237.5 340.1h0M236.5 342.1h0M236.3 343.4h0M238.1 341.3h0M236.7 341.4h0M236.2 340.6h0M238.5 339.8h0M237.8 339.6h0M238.4 341.4h0M239.0 339.9h0M237.6 341.0h0M238.3 338.2h0M239.1 340.2h0M237.8 338.8h0M237.9 341.6h0M235.2 341.9h0M237.7 338.8h0M237.5 340.0h0M237.7 338.3h0M237.2 338.3h0M239.2 337.2h0M236.8 339.7h0M236.3 342.8h0M238.6 340.5h0M237.1 344.1h0M237.6 342.6h0M239.0 338.0h0M238.6 339.0h0M238.3 342.3h0M237.8 339.2h0M236.9 338.7h0M237.2 343.3h0M236.1 338.3h0M238.6 340.2h0M238.7 336.8h0M236.7 343.4h0M238.0 339.5h0M237.3 337.2h0M239.0 340.8h0M235.7 340.8h0M237.4 339.0h0M237.6 339.6h0M236.7 343.5h0M237.7 343.0h0M238.7 337.2h0M236.1 343.1h0M238.0 338.9h0M236.7 338.0h0M237.6 342.6h0M238.9 341.7h0M237.0 339.0h0M235.7 339.8h0M235.7 340.7h0M236.6 338.6h0" stroke="#6a72de" stroke-width="1.00" stroke-linecap="round" opacity="1.0"/>
<path d="M244.4 345.5h0M259.1 342.0h0M268.9 346.0h0M267.3 329.2h0M255.4 341.0h0M254.2 347.5h0M263.1 338.7h0M252.2 340.9h0M251.3 350.7h0M240.5 354.7h0M262.9 348.9h0M240.2 353.4h0M257.6 338.4h0M236.4 339.2h0M264.1 344.9h0M240.7 339.3h0M261.3 337.4h0M234.5 356.9h0M247.2 340.2h0M265.0 333.3h0M243.1 346.4h0M252.7 358.5h0M246.7 342.7h0M226.6 353.1h0M255.4 338.1h0M256.8 337.6h0M239.8 335.8h0M258.3 340.7h0M243.2 358.5h0M241.0 331.6h0M252.1 356.7h0M244.5 332.9h0M234.9 349.5h0M260.1 347.7h0M262.9 344.5h0M230.2 327.2h0M232.9 345.3h0M258.2 332.8h0M246.7 365.1h0M256.2 340.1h0M264.5 343.7h0M247.9 331.7h0M240.3 337.7h0M222.0 330.4h0M254.3 350.8h0M241.8 339.6h0M255.4 347.1h0M254.5 335.8h0M236.8 337.5h0M271.0 353.6h0M263.9 333.3h0M261.3 325.8h0M239.0 345.7h0M247.5 331.7h0M246.0 338.0h0M247.4 350.2h0M239.6 334.6h0M256.8 349.9h0M254.5 335.9h0M256.0 355.4h0M246.4 353.9h0M266.2 337.8h0M254.1 340.1h0M221.9 334.5h0M245.0 343.8h0M251.4 352.3h0M262.6 329.0h0M248.7 350.3h0M249.2 330.1h0M244.7 334.3h0M259.3 325.9h0M247.1 360.9h0M245.4 342.5h0M243.8 344.2h0M258.1 335.9h0M246.1 351.6h0M233.6 323.1h0M258.8 342.2h0M244.3 361.9h0M255.9 338.6h0M256.1 342.2h0M265.2 348.1h0M263.5 334.7h0M245.7 342.2h0M250.2 350.6h0M237.8 343.7h0M270.5 345.3h0M256.9 338.9h0M267.3 344.8h0M248.5 342.5h0M229.5 355.1h0M268.8 348.5h0M253.0 339.8h0M253.5 320.0h0M252.6 348.4h0M259.1 348.8h0M257.9 333.7h0M234.5 324.0h0M264.0 331.7h0M246.2 350.3h0M246.9 332.4h0M271.0 337.9h0M262.1 344.0h0M248.3 353.0h0M231.6 341.8h0M253.8 341.1h0M257.9 337.1h0M251.1 356.7h0M238.3 351.6h0M243.3 341.1h0M238.2 329.4h0M254.4 334.9h0M261.0 347.2h0M263.3 335.5h0M243.9 350.0h0M254.6 345.3h0M258.1 344.6h0M246.4 347.9h0M250.4 346.5h0M254.3 339.1h0M261.7 363.1h0M247.2 331.1h0M252.5 337.7h0M233.1 351.6h0M251.7 340.6h0M265.1 334.7h0M265.2 346.8h0M259.6 351.2h0M252.6 354.6h0M245.4 342.5h0M250.2 351.4h0M258.7 332.7h0M243.4 343.5h0M262.3 335.9h0M241.2 343.6h0M232.4 348.8h0M240.9 351.6h0M233.7 333.1h0M236.9 353.4h0M264.5 337.7h0M249.8 332.8h0M254.4 340.5h0M264.7 328.8h0M265.9 342.0h0M246.4 344.6h0M266.6 340.2h0" stroke="#d4d7f4" stroke-width="0.90" stroke-linecap="round" opacity="1.0"/>
<path d="M331.2 336.4h0M332.5 335.1h0M321.0 343.1h0M331.9 357.5h0M324.8 338.9h0M323.4 363.3h0M327.0 360.3h0M335.7 332.9h0M331.9 365.5h0M336.7 346.1h0M339.4 333.6h0M322.3 340.9h0M319.2 353.1h0M339.0 353.6h0M341.8 355.2h0M329.0 358.9h0M323.5 337.1h0M336.1 360.1h0M335.7 357.6h0M330.4 336.1h0M338.8 347.7h0M335.8 351.7h0M329.9 361.2h0M328.7 357.7h0M319.7 351.8h0M340.7 335.2h0M320.9 347.7h0M338.1 333.0h0M321.1 334.8h0M324.0 336.5h0M343.9 332.0h0M325.9 357.5h0M336.9 341.7h0M332.9 358.4h0M329.3 336.0h0M328.5 360.5h0M343.5 342.0h0M338.6 341.8h0M328.5 334.7h0M319.1 352.5h0M320.6 332.6h0M318.8 338.2h0M317.8 341.8h0M336.9 345.6h0M313.1 339.4h0M321.1 331.4h0M317.4 351.2h0M335.4 335.8h0M324.7 335.1h0M321.7 352.2h0M323.5 337.1h0M327.1 336.7h0M339.6 344.7h0M327.2 356.9h0M335.7 337.5h0M319.4 344.6h0M325.2 337.8h0M331.9 334.4h0M333.5 354.1h0M328.7 336.8h0M335.8 359.4h0M336.0 350.8h0M321.3 337.7h0M321.5 339.1h0M326.9 335.4h0M322.5 338.8h0M338.4 338.3h0M333.5 357.7h0M332.4 356.4h0M341.8 341.8h0M319.6 338.6h0M322.0 337.8h0M335.8 354.0h0M335.5 337.5h0M335.3 351.8h0M318.9 342.0h0M336.9 338.4h0M320.4 349.1h0M330.9 334.6h0M335.6 355.9h0M335.7 334.3h0M324.9 359.2h0M336.9 347.4h0M320.4 360.5h0M340.5 341.7h0M338.4 353.0h0M342.1 342.9h0M326.2 329.8h0M325.1 337.5h0M326.1 364.3h0M320.7 344.7h0M321.2 350.9h0M319.7 349.1h0M323.1 336.3h0M318.3 347.2h0M325.6 336.4h0M316.3 343.4h0M338.0 355.0h0M336.4 348.8h0M322.7 336.7h0M332.8 333.9h0M324.5 358.0h0M340.7 348.1h0M339.4 344.6h0M327.7 329.2h0M340.9 351.5h0M332.5 333.4h0M337.4 345.5h0M331.2 330.1h0M326.8 359.3h0M330.0 327.4h0M333.7 332.1h0M330.9 361.3h0M323.3 330.4h0M338.4 346.8h0M318.0 354.1h0M326.3 363.8h0M319.7 340.3h0M339.7 340.6h0M321.2 349.4h0M339.0 349.3h0M320.7 340.1h0M336.5 329.9h0M325.4 331.9h0M336.9 343.9h0M333.0 331.8h0M331.5 336.2h0M325.2 346.0h0M324.6 336.0h0M330.0 342.5h0M322.3 343.2h0M322.8 336.8h0M322.6 339.8h0M324.5 336.9h0M321.9 340.1h0M330.5 343.4h0M323.9 343.7h0M322.4 343.9h0M326.8 337.6h0M338.2 343.0h0M329.0 335.9h0M322.2 345.5h0M329.1 339.2h0M324.2 336.9h0M321.6 342.2h0M326.9 336.4h0M325.9 345.3h0M329.8 339.5h0M324.9 345.0h0M331.2 336.4h0M329.5 338.3h0M333.0 342.2h0M329.0 342.9h0M322.6 341.5h0M321.8 338.6h0M322.0 336.9h0M323.8 337.9h0M325.1 337.5h0M346.3 369.5h0M331.1 346.8h0M331.8 374.1h0M351.4 335.8h0M319.7 373.5h0M344.8 336.2h0M341.6 344.9h0M347.0 356.0h0M320.2 351.3h0M333.8 358.3h0M297.9 359.8h0M296.6 334.1h0M298.9 318.5h0M339.1 361.4h0M314.7 354.0h0M350.1 351.8h0M297.1 347.7h0M303.0 373.7h0M345.5 335.8h0M318.8 372.7h0M306.1 328.1h0M342.0 359.7h0M307.0 374.5h0M354.3 327.3h0M309.6 364.2h0" stroke="#d2d5f3" stroke-width="1.00" stroke-linecap="round" opacity="1.0"/>
<path d="M332.4 345.3h0M330.5 340.8h0M327.2 351.5h0M331.5 343.3h0M322.7 349.5h0M325.2 344.6h0M332.2 338.8h0M333.1 352.7h0M334.4 346.9h0M333.4 350.4h0M324.0 348.1h0M322.6 351.3h0M324.7 353.5h0M331.6 342.2h0M326.3 354.4h0M321.9 349.6h0M330.0 352.8h0M328.0 341.8h0M333.2 345.4h0M333.7 345.0h0M331.1 353.6h0M322.7 348.4h0M332.5 349.4h0M324.4 347.0h0M323.6 350.3h0M323.0 352.8h0M329.6 354.6h0M330.3 341.8h0M335.9 345.2h0M331.1 355.2h0M334.4 343.9h0M333.6 344.3h0M332.8 341.4h0M327.7 353.4h0M332.7 349.7h0M332.4 349.4h0M334.7 343.8h0M332.3 344.2h0M332.9 339.6h0M325.5 354.2h0M327.1 351.4h0M332.4 345.0h0M328.5 354.4h0M333.8 352.3h0M333.6 345.6h0M329.1 342.4h0M324.7 354.7h0M329.1 339.2h0M332.2 353.1h0M332.6 341.7h0M323.6 347.4h0M325.9 353.0h0M323.6 348.0h0M326.7 340.0h0M322.5 348.6h0M327.3 356.3h0M333.1 346.0h0M326.1 342.7h0M325.0 349.5h0M324.0 342.4h0M333.3 344.1h0M332.9 339.0h0M327.0 342.5h0M326.7 352.6h0M333.1 347.0h0M335.3 345.0h0M326.6 351.8h0M331.8 349.3h0M322.8 349.6h0M325.2 347.9h0M325.5 345.7h0M322.2 348.3h0M331.2 340.5h0M323.7 347.7h0M333.5 353.7h0M334.3 352.2h0M324.6 354.2h0M327.1 341.5h0M328.9 352.3h0M330.0 337.8h0M330.4 341.7h0M324.4 345.5h0M322.2 345.5h0M332.6 342.3h0M333.3 343.0h0M331.5 338.1h0M324.2 345.7h0M324.0 354.7h0M327.0 354.8h0M335.6 341.9h0M326.4 343.2h0M331.6 352.8h0M329.2 342.1h0M328.2 341.0h0M328.7 354.2h0M327.6 352.8h0M330.3 355.2h0M331.2 354.3h0M325.2 343.7h0M334.5 344.8h0M332.3 354.8h0M325.4 346.5h0M329.5 354.0h0M328.4 341.8h0M322.9 353.0h0M331.4 340.8h0M333.7 341.6h0M325.4 351.5h0M330.7 342.5h0M326.0 352.2h0M331.0 352.2h0M325.1 345.6h0M331.8 341.4h0M332.6 345.1h0M331.7 339.8h0M327.7 342.9h0M327.7 337.9h0M334.3 344.5h0M334.5 350.8h0M329.9 356.3h0M328.0 342.1h0M325.1 341.0h0M324.3 343.0h0M328.7 340.9h0M325.4 339.4h0M322.8 341.0h0M325.8 343.1h0M324.7 343.2h0M327.7 340.0h0M325.6 344.1h0M326.1 337.8h0M323.4 341.9h0M327.7 341.9h0M326.7 339.2h0M324.6 341.6h0M327.8 340.0h0M325.5 339.9h0M327.5 343.3h0" stroke="#b5baef" stroke-width="1.00" stroke-linecap="round" opacity="1.0"/>
<path d="M326.7 345.8h0M331.0 350.2h0M331.7 347.4h0M326.1 348.5h0M330.2 347.3h0M329.7 349.4h0M331.6 345.8h0M332.0 348.5h0M326.6 347.3h0M332.0 347.5h0M327.9 345.8h0M328.5 349.6h0M332.1 344.6h0M326.8 346.9h0M326.4 346.6h0M328.7 346.4h0M329.1 347.7h0M328.6 347.9h0M330.9 348.5h0M326.2 346.7h0M331.9 346.3h0M328.7 347.6h0M331.7 348.6h0M329.1 350.8h0M326.8 348.7h0M326.0 349.0h0M328.7 345.6h0M326.5 344.9h0M328.8 348.3h0M326.0 345.9h0M327.4 348.7h0M331.2 350.1h0M327.9 346.0h0M332.3 347.4h0M330.2 349.3h0M328.0 349.0h0M327.6 348.8h0M331.3 349.1h0M331.1 349.3h0M329.2 349.7h0M327.5 349.9h0M330.3 350.0h0M330.9 344.3h0M331.1 349.4h0M327.9 343.5h0M326.1 346.3h0M327.5 346.5h0M329.8 348.2h0M329.4 343.7h0M326.5 350.1h0M332.0 347.5h0M328.4 350.4h0M326.0 347.8h0M328.0 345.1h0" stroke="#9ea4ea" stroke-width="1.00" stroke-linecap="round" opacity="1.0"/>
<path d="M236.0 448.9h0M250.1 430.9h0M240.5 450.5h0M228.7 437.3h0M236.0 450.2h0M237.8 426.7h0M246.2 427.0h0M248.6 439.3h0M233.4 448.3h0M249.7 439.4h0M222.2 430.5h0M244.2 449.2h0M234.8 454.4h0M243.6 423.9h0M247.0 437.2h0M241.0 429.1h0M244.2 430.1h0M239.8 428.1h0M236.5 428.6h0M226.1 446.3h0M226.6 442.7h0M232.1 447.9h0M234.6 451.2h0M243.4 447.8h0M229.3 442.8h0M246.3 447.2h0M244.1 448.5h0M231.1 446.6h0M227.5 435.1h0M227.6 445.6h0M234.2 427.8h0M248.6 443.5h0M248.2 435.3h0M231.3 433.0h0M233.6 431.3h0M246.9 449.5h0M227.6 450.4h0M244.9 446.6h0M230.9 447.9h0M228.4 439.3h0M243.9 423.8h0M238.9 429.7h0M253.8 439.0h0M230.2 433.8h0M248.4 437.3h0M238.0 451.8h0M241.0 448.7h0M245.8 446.9h0M247.7 434.8h0M245.2 447.1h0M231.3 431.7h0M242.3 426.7h0M228.4 432.1h0M232.3 429.3h0M248.4 438.7h0M241.4 450.0h0M229.0 442.4h0M244.7 449.7h0M235.8 429.8h0M246.6 445.9h0M237.5 427.7h0M244.3 432.0h0M229.2 440.2h0M230.7 432.6h0M240.8 429.7h0M246.4 428.3h0M235.4 450.5h0M243.2 449.3h0M241.0 424.1h0M234.6 448.5h0M230.0 435.9h0M247.0 431.2h0M246.6 447.2h0M242.2 426.2h0M253.1 439.9h0M238.8 449.9h0M243.1 430.7h0M230.4 446.5h0M234.0 450.6h0M245.1 428.3h0M231.6 447.0h0M227.4 449.6h0M238.2 433.2h0M235.2 434.2h0M243.9 439.0h0M235.4 433.5h0M240.9 443.7h0M238.2 433.2h0M237.0 434.0h0M235.7 443.0h0M240.9 434.3h0M238.4 432.8h0M232.7 433.8h0M243.3 438.5h0M236.0 443.7h0M240.0 443.5h0M237.4 443.9h0M242.3 441.2h0M242.5 441.4h0M242.6 442.3h0M247.6 440.8h0M242.8 429.0h0M242.7 446.2h0M242.9 441.3h0M268.4 433.2h0M271.1 443.3h0M266.1 446.4h0M245.9 432.9h0M275.0 431.8h0M253.0 432.1h0M245.4 435.4h0M260.8 445.9h0M266.7 443.9h0M246.7 438.6h0M240.0 438.3h0M270.2 436.6h0M265.8 434.0h0M246.0 436.6h0M254.8 442.9h0M272.3 431.4h0M253.6 432.0h0M259.5 431.3h0M255.1 429.5h0M263.8 431.5h0M244.4 446.9h0M273.8 434.1h0M267.0 437.9h0M260.3 441.9h0M240.8 439.0h0M242.1 442.7h0M252.2 430.3h0M252.5 429.4h0M257.6 446.8h0M259.9 431.2h0M251.6 445.5h0M268.6 437.6h0M264.1 421.9h0M272.9 434.9h0M244.1 441.8h0M251.4 429.9h0M253.1 442.6h0M267.3 438.9h0M250.7 449.6h0M246.8 444.7h0M257.4 428.5h0M265.8 440.0h0M260.8 443.8h0M252.3 431.1h0M259.9 428.9h0M266.4 429.9h0M250.7 443.1h0M244.9 437.2h0M259.5 445.0h0M266.8 435.2h0M246.3 443.2h0M268.1 432.7h0M243.4 429.2h0M263.1 440.7h0M265.1 439.2h0M230.7 436.7h0M245.7 445.5h0M253.0 431.5h0M249.8 444.1h0M250.1 446.3h0M264.0 431.9h0M259.4 442.3h0M259.8 445.9h0M246.1 441.5h0M266.2 438.6h0M250.7 445.3h0M247.8 441.7h0M259.8 442.3h0M261.1 441.5h0M261.8 446.4h0M252.9 443.4h0M245.0 432.9h0M262.2 429.5h0M268.8 434.3h0M266.7 441.0h0M268.0 437.3h0M254.9 430.0h0M267.9 436.1h0M266.2 437.4h0M243.6 437.2h0M259.6 444.0h0M237.9 439.4h0M260.9 441.9h0M242.3 437.9h0M248.6 441.6h0M252.1 446.2h0M261.7 443.4h0M274.9 428.2h0M268.2 441.0h0M241.8 433.1h0M250.6 442.7h0M266.0 432.4h0M270.7 433.7h0M259.9 427.9h0M258.5 431.0h0M255.9 446.3h0M248.3 434.5h0M264.3 439.8h0M252.1 430.0h0M237.6 438.1h0M249.9 446.3h0M268.3 434.4h0M268.9 441.4h0M250.4 450.5h0M247.1 438.7h0M256.4 444.4h0M251.0 442.6h0M256.6 431.0h0M234.5 440.3h0M243.6 434.9h0M248.2 441.4h0M247.9 439.8h0M252.6 432.2h0M245.1 441.0h0M271.9 436.1h0M235.7 430.0h0M234.2 425.7h0M234.6 419.5h0M234.7 420.5h0M234.5 430.8h0M239.4 421.1h0M235.8 428.5h0M234.6 423.1h0M240.3 423.7h0M262.1 460.3h0M231.3 430.3h0M212.0 434.5h0M236.2 454.8h0M220.8 463.2h0M229.5 429.2h0M225.3 461.4h0M221.6 447.7h0M254.0 418.0h0M248.3 434.3h0M262.7 410.2h0M273.0 432.0h0M225.2 438.2h0M270.0 453.1h0M259.1 427.9h0M246.0 445.1h0M272.2 445.8h0M242.8 438.3h0M211.8 443.1h0M218.0 434.8h0M230.0 443.0h0M254.6 434.9h0M246.2 459.2h0M253.7 416.1h0M211.2 456.7h0M225.9 450.2h0M245.5 410.6h0M251.9 448.8h0M237.6 429.6h0M224.0 437.4h0M229.8 438.0h0M258.7 449.7h0M255.9 436.3h0M225.8 444.3h0M270.8 421.8h0M212.8 413.8h0M225.0 446.1h0M238.0 463.4h0M261.5 414.2h0M246.2 459.2h0M253.2 430.8h0M270.9 445.3h0M233.5 424.4h0M221.6 447.3h0M236.2 433.5h0M246.1 452.9h0M218.6 425.0h0M212.5 428.0h0M256.5 443.8h0M273.3 415.7h0" stroke="#ccd0f2" stroke-width="0.90" stroke-linecap="round" opacity="1.0"/>
<path d="M243.1 434.9h0M243.7 431.9h0M244.6 438.0h0M245.1 442.1h0M243.8 442.8h0M243.9 433.3h0M245.4 435.4h0M244.4 446.1h0M237.9 449.0h0M233.5 446.7h0M237.4 433.0h0M230.2 436.8h0M241.1 446.0h0M241.3 446.1h0M234.9 445.1h0M244.6 437.9h0M245.4 439.3h0M241.4 446.2h0M243.4 443.9h0M238.9 447.7h0M234.4 432.5h0M244.6 438.9h0M232.7 444.1h0M233.4 447.4h0M235.3 433.5h0M244.8 439.7h0M247.0 439.3h0M245.9 438.9h0M234.8 445.6h0M239.6 447.6h0M240.9 431.4h0M241.0 431.3h0M230.5 438.9h0M237.3 447.6h0M244.3 435.1h0M246.1 444.0h0M243.4 435.6h0M243.5 443.2h0M232.7 436.5h0M244.9 443.7h0M246.7 438.8h0M241.8 432.7h0M240.6 446.4h0M244.7 442.7h0M244.5 443.5h0M241.5 432.4h0M244.7 440.6h0M234.2 434.8h0M231.4 439.4h0M241.7 433.0h0M244.4 436.0h0M231.1 436.0h0M243.9 445.4h0M243.2 435.3h0M233.3 433.1h0M245.5 438.3h0M237.3 446.0h0M245.8 442.5h0M236.7 446.6h0M237.9 448.3h0M236.7 448.2h0M244.2 440.4h0M240.7 430.3h0M238.1 446.6h0M230.0 439.7h0M232.2 434.6h0M241.2 446.5h0M232.9 446.9h0M242.7 446.3h0M232.0 436.2h0M237.4 433.2h0M238.2 430.9h0M233.0 434.1h0M240.7 433.5h0M229.9 441.2h0M230.5 441.6h0M233.6 445.4h0M235.2 447.9h0M236.6 430.1h0M237.7 447.4h0M236.1 431.3h0M229.9 440.0h0M232.5 444.1h0M235.4 448.3h0M233.2 435.6h0M243.3 433.7h0M244.4 437.5h0M233.5 445.8h0M241.6 432.8h0M232.0 443.5h0M231.5 436.4h0M238.2 432.3h0M230.7 442.6h0M232.4 439.4h0M242.3 444.2h0M233.3 444.5h0M232.0 438.7h0M240.1 433.4h0M235.5 445.2h0M242.5 434.7h0M245.8 440.0h0M231.1 441.7h0M233.8 446.6h0M246.6 441.6h0M238.5 432.9h0M230.9 441.7h0M232.6 441.8h0M244.1 446.1h0M232.3 435.0h0M234.6 438.1h0M239.1 436.7h0M234.5 438.8h0M240.2 442.3h0M239.9 441.9h0M239.2 441.2h0M240.2 440.1h0M238.8 434.5h0M235.3 436.8h0M238.4 443.3h0M236.3 441.2h0M238.4 436.3h0M240.6 439.0h0M234.5 437.1h0M235.6 437.6h0M241.0 439.4h0M235.6 441.7h0M238.5 436.2h0M236.3 441.7h0M234.4 440.8h0M240.4 441.4h0M242.0 440.0h0M236.0 442.2h0M238.5 442.8h0M238.9 441.8h0M240.6 442.2h0M241.3 437.9h0M256.9 437.5h0M260.2 439.8h0M252.2 437.2h0M261.4 433.0h0M260.8 434.4h0M256.4 434.1h0M258.0 435.8h0M260.9 436.1h0M254.3 436.9h0M258.2 438.6h0M254.8 435.4h0M251.9 433.1h0M259.4 438.0h0M261.6 436.5h0M259.6 435.6h0M253.8 436.3h0M250.4 437.1h0M249.6 436.8h0M257.3 437.4h0M252.0 434.9h0M255.5 434.6h0M257.4 435.6h0M255.1 436.4h0M260.6 441.4h0M248.0 438.2h0M261.4 440.5h0M258.0 436.7h0M254.2 437.5h0M260.8 436.8h0M252.7 438.2h0M255.4 437.8h0M263.6 438.2h0M260.0 439.7h0M258.8 436.8h0M264.0 436.2h0M266.2 436.0h0M259.0 437.5h0M258.7 441.5h0M264.1 437.2h0M260.4 436.3h0M257.3 437.9h0M260.6 435.4h0M248.6 439.5h0M249.4 440.3h0M253.5 434.6h0M254.9 435.1h0M260.0 435.8h0M252.4 435.9h0M255.1 438.5h0M259.5 434.1h0M258.6 435.5h0M251.8 440.4h0M252.4 437.4h0M255.2 432.1h0M257.6 436.7h0M254.3 436.3h0M258.1 441.6h0M261.4 437.5h0M253.4 439.9h0M259.7 437.3h0M260.8 435.5h0M254.6 437.1h0M263.3 440.2h0M255.0 441.3h0M254.8 440.1h0M250.5 436.3h0M250.0 438.2h0M258.9 441.5h0M264.1 437.0h0M259.6 437.4h0M249.2 440.1h0M264.2 434.2h0M258.2 433.5h0M252.9 433.0h0M256.6 441.6h0M250.4 439.7h0M254.2 437.0h0M263.3 436.9h0M259.2 435.5h0M251.8 441.1h0M251.6 441.7h0M251.1 439.9h0M256.1 432.1h0M258.6 437.1h0M265.4 436.8h0M258.8 438.5h0M256.8 438.7h0M251.4 439.4h0M260.7 434.2h0M249.9 437.1h0M248.9 438.8h0M266.2 436.8h0M255.2 438.5h0M257.8 437.7h0M256.5 433.8h0M253.2 439.8h0M255.8 432.1h0M251.4 434.9h0M257.1 438.0h0M257.7 434.1h0M260.8 440.1h0M237.5 424.8h0M237.2 424.2h0M237.7 425.4h0M235.6 424.6h0M236.3 422.3h0M236.9 424.0h0M236.2 426.7h0M235.4 426.1h0M236.1 426.1h0M237.1 425.6h0M235.5 423.1h0M235.7 425.4h0M238.1 427.7h0M236.2 425.2h0M235.7 423.3h0M237.8 423.0h0M237.2 424.2h0M238.0 423.1h0M235.0 424.6h0M237.3 426.3h0M238.5 425.8h0" stroke="#a9afed" stroke-width="0.90" stroke-linecap="round" opacity="1.0"/>
<path d="M236.9 435.4h0M242.8 442.0h0M234.8 438.2h0M235.7 439.3h0M243.3 440.1h0M233.8 442.4h0M241.7 441.7h0M239.8 434.9h0M235.3 442.9h0M236.4 440.6h0M240.0 439.9h0M234.6 442.7h0M233.9 441.2h0M236.1 443.1h0M237.9 437.0h0M238.0 433.7h0M234.3 442.4h0M240.9 439.7h0M234.5 442.6h0M237.4 434.9h0M239.3 436.0h0M238.0 444.4h0M238.0 442.7h0M241.0 434.6h0M236.4 439.9h0M235.2 444.8h0M241.5 435.7h0M237.1 444.0h0M237.4 436.3h0M239.9 444.0h0M242.1 438.3h0M239.9 444.1h0M234.5 435.1h0M242.4 443.1h0M240.3 437.7h0M237.2 444.9h0M240.7 438.4h0M242.3 442.2h0M238.6 441.1h0M239.7 437.9h0M236.1 439.4h0M239.0 435.4h0M243.1 436.4h0M237.9 436.0h0M240.6 434.3h0M236.5 435.9h0M240.4 444.3h0M238.2 436.1h0M236.7 438.1h0M243.9 440.0h0M234.4 441.8h0M242.9 440.3h0M240.9 442.7h0M236.5 444.0h0M236.9 442.6h0M233.7 439.6h0M240.7 435.6h0M236.6 436.6h0M242.2 436.1h0M238.4 445.0h0M236.4 445.1h0M241.1 442.0h0M237.3 436.8h0M240.6 442.0h0M235.1 435.1h0M237.5 438.0h0M237.6 434.9h0M241.4 441.3h0M236.4 437.3h0M239.0 444.0h0M242.1 442.1h0M241.2 438.6h0M238.8 444.4h0M233.8 439.7h0M233.5 437.6h0M243.6 437.4h0M237.8 441.1h0M239.7 442.7h0M234.1 435.2h0M235.4 440.6h0M235.3 435.9h0M235.9 438.0h0M239.2 435.2h0M233.9 437.1h0M242.7 437.7h0M237.6 437.1h0M234.2 440.3h0M232.8 441.7h0M232.5 440.4h0M240.6 435.1h0M238.6 441.2h0M236.8 439.9h0M241.5 435.1h0M240.2 434.8h0M242.0 435.0h0M240.8 443.4h0M235.4 434.3h0M235.7 439.4h0M237.6 435.8h0M241.8 444.3h0M241.7 438.8h0M236.5 438.8h0M240.2 440.0h0M235.1 438.0h0M239.3 444.9h0M240.7 437.0h0M239.8 445.2h0M236.1 438.9h0M243.2 438.0h0M232.9 440.8h0M243.7 441.6h0M241.8 442.4h0M241.7 440.6h0M234.5 437.9h0M235.1 435.4h0M239.9 439.4h0M234.2 443.7h0M242.6 439.3h0M234.5 437.7h0M233.7 441.7h0M238.1 442.4h0M239.6 435.0h0M241.4 440.0h0M236.2 435.5h0M236.7 437.3h0M238.5 434.0h0M241.1 437.3h0M236.0 443.7h0M240.8 438.0h0M240.2 443.5h0M233.6 440.0h0M239.3 437.1h0M240.5 445.1h0M243.8 439.0h0M232.9 440.1h0M242.5 440.7h0M241.3 440.7h0M238.2 437.4h0M238.8 433.6h0M234.9 438.9h0M242.2 441.4h0M238.0 434.9h0M240.6 437.3h0M232.9 439.4h0M235.5 441.9h0M237.3 437.0h0M243.2 439.2h0M241.8 438.6h0M236.5 441.6h0M244.0 440.9h0M240.9 439.5h0M237.0 434.6h0M239.7 438.1h0M236.7 444.2h0M240.2 444.2h0M235.9 435.0h0M242.6 436.2h0M232.9 439.0h0M238.5 443.5h0M239.0 444.0h0M236.4 445.5h0M240.4 434.2h0M240.5 436.6h0M241.3 442.7h0M239.2 437.5h0M240.4 440.9h0M236.5 437.2h0M241.6 436.1h0M237.3 442.3h0M240.3 440.3h0M234.7 437.2h0M242.7 436.6h0M240.6 443.4h0M236.8 436.3h0M241.4 443.7h0M238.6 436.7h0M241.1 439.3h0M242.0 437.6h0M233.2 441.6h0M234.2 436.8h0M238.8 434.5h0M243.7 440.0h0M239.4 442.6h0M238.1 444.0h0M237.5 441.4h0M233.5 440.3h0M237.0 437.7h0M237.5 443.5h0M237.4 441.9h0M242.9 436.4h0M239.2 442.3h0M238.0 441.2h0M235.6 441.7h0M242.3 439.6h0M239.6 443.7h0M240.4 442.0h0M239.5 433.5h0M233.3 440.6h0M243.1 439.6h0M238.8 433.9h0M240.5 433.9h0M233.9 436.7h0M241.7 444.1h0M237.1 437.4h0M238.0 443.8h0M241.9 437.2h0M242.7 441.3h0M240.2 437.0h0M233.7 437.3h0M237.6 437.2h0M239.5 437.6h0M237.6 438.7h0M239.3 437.8h0M239.6 438.1h0M237.3 440.8h0M237.0 437.9h0M238.3 439.4h0M237.5 438.0h0M238.0 439.7h0M238.7 439.4h0M239.0 437.4h0M238.3 439.0h0M239.6 438.1h0M238.3 436.9h0M238.5 440.0h0M238.5 440.3h0M238.0 437.9h0M239.2 437.9h0M238.3 437.1h0M236.9 439.0h0M238.5 439.2h0M237.8 436.7h0M239.6 438.0h0M239.6 439.7h0M237.2 439.1h0M239.7 439.4h0M238.9 440.2h0M239.4 437.1h0M239.3 441.0h0M236.4 437.8h0M237.2 437.3h0M239.8 439.9h0M237.8 437.7h0M236.9 438.2h0" stroke="#8890e6" stroke-width="0.90" stroke-linecap="round" opacity="1.0"/>
<path d="M238.1 440.4h0M239.5 439.3h0M238.3 438.3h0M237.1 440.3h0M237.7 439.6h0M238.3 438.8h0M238.4 439.6h0M237.1 439.8h0M236.9 439.8h0M238.9 438.6h0M238.7 440.3h0M238.7 440.8h0M239.7 439.4h0M238.3 440.6h0M237.1 440.4h0M237.1 439.4h0M238.2 438.2h0M239.2 439.0h0M236.9 439.0h0M236.8 439.4h0" stroke="#6c75e0" stroke-width="0.90" stroke-linecap="round" opacity="1.0"/>
<path d="M352.3 444.6h0M321.4 435.9h0M327.3 428.0h0M332.2 425.5h0M357.3 431.3h0M341.7 424.5h0M335.5 422.7h0M336.7 460.1h0M355.4 431.5h0M334.7 417.6h0M323.6 432.9h0M321.5 442.1h0M351.7 424.3h0M349.0 452.5h0M337.3 464.2h0M322.6 441.7h0M334.4 421.7h0M322.1 458.5h0M337.7 460.2h0M334.8 459.4h0M327.0 460.5h0M353.7 454.7h0M322.7 442.5h0M352.6 436.8h0M343.1 463.6h0M324.5 429.2h0M326.5 428.4h0M346.6 421.0h0M352.1 459.1h0M328.3 421.6h0M340.1 424.2h0M322.8 443.4h0M327.6 419.3h0M339.0 420.2h0M325.5 453.6h0M322.3 452.1h0M353.3 441.8h0M334.5 423.3h0M320.4 442.2h0M321.3 456.3h0M329.6 424.2h0M332.9 465.1h0M351.8 450.8h0M320.9 437.9h0M325.3 457.2h0M325.5 454.4h0M350.3 448.8h0M351.3 435.8h0M348.7 453.5h0M326.4 453.5h0M338.0 459.5h0M349.8 433.0h0M355.3 443.5h0M320.3 438.4h0M335.7 421.5h0M322.7 435.1h0M324.3 451.9h0M335.2 462.7h0M353.0 454.5h0M327.3 427.0h0M320.3 450.2h0M325.3 429.9h0M322.1 450.2h0M321.9 436.5h0M316.3 439.2h0M348.3 425.4h0M337.8 460.5h0M323.0 431.2h0M321.7 446.4h0M336.8 460.7h0M354.8 450.2h0M341.2 460.2h0M354.6 444.7h0M321.2 450.0h0M342.2 459.0h0M319.9 445.4h0M351.5 447.9h0M346.9 460.2h0M332.1 424.4h0M320.2 455.8h0M321.6 445.4h0M323.6 448.3h0M354.6 455.4h0M338.0 422.2h0M322.5 453.9h0M338.5 459.2h0M320.8 443.5h0M321.3 443.6h0M336.0 422.2h0M351.4 456.4h0M349.6 450.2h0M326.6 427.8h0M345.1 424.7h0M320.9 428.8h0M351.9 448.4h0M351.3 425.0h0M317.3 443.9h0M349.8 453.0h0M344.5 463.0h0M332.6 425.0h0M331.0 457.8h0M324.3 431.9h0M339.1 424.8h0M317.6 447.2h0M322.6 440.4h0M343.9 421.1h0M320.3 448.1h0M353.9 428.2h0M353.6 445.7h0M352.4 451.3h0M336.3 414.5h0M355.2 447.5h0M322.6 452.6h0M325.3 427.3h0M318.0 440.1h0M356.2 439.9h0M324.1 451.6h0M313.4 429.0h0M346.3 460.9h0M343.3 420.1h0M329.6 420.3h0M356.9 433.5h0M344.5 424.6h0M327.4 460.0h0M345.5 426.9h0M333.9 424.0h0M353.5 449.1h0M350.0 431.1h0M349.8 422.2h0M356.8 453.2h0M356.9 451.1h0M339.1 423.3h0M348.5 428.5h0M322.4 438.8h0M332.6 425.4h0M313.8 441.9h0M340.3 426.5h0M325.2 424.2h0M328.5 431.7h0M343.9 427.9h0M325.0 426.0h0M323.8 431.2h0M327.8 430.8h0M338.5 431.6h0M340.6 429.5h0M340.0 424.4h0M327.5 420.4h0M325.0 424.9h0M326.0 421.4h0M341.2 423.6h0M339.5 429.5h0M322.4 423.8h0M325.1 424.2h0M340.7 425.3h0M339.6 419.3h0M323.7 429.8h0M335.0 432.3h0M327.8 430.8h0M331.2 433.8h0M325.5 425.7h0M338.9 422.8h0M331.5 431.6h0M342.3 422.2h0M340.7 424.4h0M328.9 432.5h0M340.9 426.8h0M341.2 427.1h0M338.5 434.6h0M327.5 419.8h0M337.6 431.0h0M327.5 420.5h0M330.4 432.2h0M342.0 428.4h0M327.8 431.8h0M330.1 431.6h0M331.4 432.0h0M330.9 432.1h0M328.5 430.3h0M325.5 424.6h0M340.1 419.8h0M335.2 431.8h0M332.8 433.1h0M336.1 419.7h0M344.6 434.3h0M343.2 433.1h0M340.9 451.0h0M337.3 451.9h0M343.6 445.2h0M342.7 433.6h0M334.3 449.2h0M337.7 431.4h0M328.4 442.3h0M342.8 451.6h0M341.4 451.1h0M327.4 436.8h0M325.2 432.7h0M344.7 442.1h0M333.7 451.4h0M342.5 447.3h0M333.7 433.2h0M326.6 439.5h0M333.6 449.8h0M335.8 452.7h0M337.6 432.2h0M340.5 453.2h0M333.3 457.3h0M328.5 446.6h0M337.2 450.1h0M344.7 439.8h0M325.8 444.1h0M327.7 444.4h0M338.8 431.1h0M329.6 442.1h0M327.0 436.5h0M342.8 447.1h0M328.4 448.1h0M336.9 432.2h0M327.6 430.4h0M330.9 432.3h0M342.0 433.0h0M334.1 451.1h0M346.7 440.1h0M337.4 431.0h0M334.9 450.5h0M334.0 432.1h0M334.5 449.3h0M331.6 448.4h0M338.5 428.4h0M345.5 440.0h0M329.3 444.1h0M343.5 449.3h0M331.1 433.5h0M331.5 433.7h0M331.4 448.0h0M347.5 434.7h0M345.8 447.3h0M328.9 431.8h0M329.9 431.7h0M339.4 432.3h0M331.1 447.3h0M343.9 437.8h0M338.0 432.2h0M342.8 448.7h0M333.2 449.2h0M339.9 450.1h0M302.8 453.2h0M342.5 406.9h0M332.5 455.1h0M311.0 460.8h0M334.5 430.9h0M336.5 458.0h0M324.0 414.3h0M336.4 402.6h0M342.6 428.6h0M349.1 407.7h0" stroke="#a0a6ec" stroke-width="1.10" stroke-linecap="round" opacity="1.0"/>
<path d="M346.9 447.6h0M332.7 425.9h0M329.8 430.7h0M337.2 428.4h0M347.7 440.2h0M332.7 453.7h0M333.4 454.1h0M341.5 455.7h0M346.1 434.8h0M333.6 428.2h0M344.3 452.7h0M348.8 433.1h0M327.3 448.8h0M339.0 456.4h0M348.5 437.7h0M337.6 455.0h0M329.9 452.9h0M334.2 428.3h0M333.4 429.9h0M335.6 459.0h0M324.8 437.6h0M324.3 445.3h0M326.4 435.9h0M336.7 424.8h0M346.2 454.4h0M348.2 448.4h0M340.0 456.2h0M348.6 443.4h0M327.4 452.8h0M340.1 426.4h0M323.8 440.0h0M330.7 456.5h0M340.4 454.2h0M332.3 427.2h0M348.2 443.3h0M326.8 435.3h0M326.2 444.1h0M345.8 433.0h0M331.4 455.8h0M325.1 447.0h0M342.5 457.5h0M345.7 430.6h0M340.7 456.9h0M327.2 433.3h0M328.0 430.8h0M347.1 431.9h0M324.4 438.7h0M331.9 453.2h0M338.3 455.1h0M328.3 428.9h0M326.8 435.1h0M335.6 454.8h0M344.4 454.4h0M326.2 438.2h0M346.9 436.4h0M341.2 456.5h0M350.9 442.3h0M324.3 448.0h0M328.1 432.4h0M329.8 452.5h0M329.0 451.2h0M324.3 444.3h0M346.7 453.4h0M344.1 452.4h0M326.3 447.2h0M341.9 429.8h0M342.9 453.2h0M323.9 441.2h0M348.1 434.2h0M325.4 451.5h0M338.2 428.6h0M326.4 453.1h0M339.8 457.0h0M338.7 428.2h0M337.1 456.8h0M343.4 430.9h0M346.4 432.2h0M326.0 438.7h0M324.5 438.1h0M325.6 434.2h0M327.4 450.4h0M326.5 446.7h0M340.1 427.1h0M343.4 431.5h0M340.8 454.2h0M326.9 435.9h0M326.5 439.1h0M325.8 434.0h0M338.7 456.9h0M328.3 450.9h0M347.4 438.4h0M325.9 434.4h0M348.6 437.7h0M323.3 442.1h0M325.7 450.3h0M325.8 445.0h0M343.6 454.2h0M346.0 450.8h0M328.4 449.8h0M324.5 447.5h0M334.3 456.5h0M323.5 444.0h0M347.3 449.8h0M338.2 426.9h0M326.0 436.6h0M332.0 454.6h0M343.4 431.4h0M331.4 457.4h0M343.0 428.4h0M348.2 443.4h0M341.1 454.3h0M323.0 442.0h0M328.5 452.3h0M346.2 432.4h0M338.0 427.9h0M329.2 452.6h0M345.6 455.4h0M327.5 448.9h0M340.3 456.2h0M340.6 429.4h0M334.0 427.7h0M325.7 447.2h0M326.5 447.8h0M349.0 438.5h0M340.4 455.5h0M332.2 429.7h0M328.3 434.4h0M345.0 431.3h0M325.6 443.4h0M349.5 444.3h0M347.7 443.9h0M346.9 437.1h0M340.3 454.5h0M346.4 448.9h0M331.5 457.0h0M344.3 452.5h0M345.3 453.8h0M327.1 433.9h0M343.2 429.1h0M350.1 441.2h0M350.4 441.7h0M335.5 425.0h0M348.2 451.7h0M345.8 451.7h0M344.4 452.5h0M327.7 448.8h0M343.2 455.9h0M333.9 427.8h0M349.9 441.9h0M347.0 430.9h0M350.5 437.6h0M333.0 428.4h0M324.0 436.4h0M349.7 439.6h0M334.0 429.2h0M350.0 439.6h0M348.2 431.8h0M347.7 442.4h0M348.6 435.9h0M331.5 453.7h0M347.6 444.1h0M350.7 440.1h0M348.1 438.9h0M326.3 438.9h0M344.9 428.0h0M323.2 445.1h0M325.3 447.8h0M346.4 453.9h0M328.0 431.1h0M332.8 429.3h0M341.4 458.2h0M336.2 428.2h0M329.6 429.5h0M335.6 458.5h0M326.3 439.3h0M343.0 456.3h0M332.5 457.7h0M348.9 437.2h0M329.9 452.3h0M337.2 428.9h0M326.7 451.1h0M342.9 428.9h0M331.0 430.6h0M345.5 428.3h0M349.0 446.8h0M341.5 427.7h0M335.3 428.5h0M339.4 458.0h0M327.3 436.4h0M325.2 438.9h0M335.9 426.7h0M326.2 443.5h0M335.9 454.9h0M334.1 457.5h0M339.2 427.9h0M324.1 445.8h0M350.3 438.2h0M330.3 429.3h0M334.8 456.3h0M347.7 441.3h0M323.5 441.4h0M333.9 428.5h0M332.7 455.0h0M340.6 427.7h0M343.6 428.3h0M344.4 452.5h0M338.3 426.5h0M325.1 437.7h0M324.8 435.9h0M344.2 431.7h0M327.2 429.8h0M324.2 435.3h0M346.9 434.6h0M347.2 434.9h0M346.8 452.1h0M327.5 434.9h0M325.5 447.4h0M334.0 458.5h0M328.7 430.4h0M336.0 428.2h0M349.0 442.0h0M342.7 428.5h0M343.0 454.1h0M347.9 438.1h0M348.7 441.7h0M339.9 428.4h0M336.0 429.2h0M343.1 455.4h0M325.1 435.6h0M325.5 442.3h0M326.0 447.0h0M330.5 430.1h0M336.1 455.4h0M337.9 425.7h0M347.3 438.6h0M330.7 429.0h0M340.5 429.4h0M345.7 430.1h0M335.0 426.4h0M330.2 430.9h0M331.0 453.1h0M326.1 444.5h0M350.4 445.0h0M346.7 451.6h0M332.4 456.3h0M326.5 447.8h0M347.1 446.1h0M342.8 456.5h0M323.9 444.2h0M334.6 428.2h0M333.6 455.2h0M345.2 454.5h0M342.8 429.6h0M332.3 458.1h0M328.8 453.6h0M336.9 427.6h0M335.9 423.3h0M333.4 431.0h0M327.6 428.1h0M328.3 426.1h0M329.4 427.7h0M337.0 429.3h0M332.7 420.6h0M338.2 428.4h0M329.2 428.8h0M337.1 429.6h0M340.0 426.8h0M328.4 425.8h0M338.5 425.7h0M337.3 428.4h0M333.4 420.6h0M337.6 424.5h0M337.8 423.5h0M336.2 422.2h0M328.3 426.2h0M331.5 431.1h0M334.0 429.6h0M338.9 426.7h0M327.4 426.0h0M326.4 426.6h0M327.7 428.2h0M338.0 424.6h0M335.5 429.9h0M333.0 420.9h0M338.0 429.8h0M329.1 427.8h0M334.8 421.9h0M326.9 427.1h0M331.4 429.1h0M339.2 427.4h0M333.3 430.2h0M329.6 430.2h0M335.1 431.0h0M337.5 428.4h0M332.0 430.9h0M334.9 420.8h0M334.8 421.9h0M329.0 422.8h0M338.3 422.6h0M333.6 429.9h0M337.5 427.4h0M333.7 422.8h0M331.9 421.2h0M333.1 429.8h0M327.7 429.4h0M328.8 423.1h0M332.4 422.1h0M328.2 425.0h0M337.5 429.6h0M338.1 423.9h0M337.6 426.3h0M335.6 423.5h0M336.3 429.5h0M338.4 428.9h0M336.0 423.7h0M333.0 429.3h0M328.2 427.5h0M327.9 426.8h0M338.4 427.8h0M336.3 422.6h0M329.0 423.6h0M334.0 431.2h0M331.9 436.6h0M334.9 446.7h0M340.1 433.7h0M332.4 438.6h0M332.1 442.1h0M341.7 442.4h0M340.5 435.2h0M339.8 434.8h0M336.4 447.1h0M334.3 446.9h0M331.4 440.7h0M341.0 444.5h0M333.3 435.8h0M340.9 435.7h0M331.8 442.8h0M331.5 437.0h0M340.5 445.7h0M335.2 446.7h0M332.3 445.4h0M343.0 438.4h0M336.5 446.7h0M332.4 445.2h0M341.6 446.5h0M339.4 433.7h0M342.0 442.4h0M330.9 439.5h0M332.2 436.4h0M331.9 437.3h0M337.7 447.7h0M343.3 442.7h0M341.8 441.9h0M339.8 433.4h0M332.8 437.9h0M333.1 448.1h0M344.2 442.0h0M332.7 444.9h0M330.7 438.3h0M342.2 445.4h0M331.5 439.9h0M339.0 448.7h0M333.1 445.2h0M335.3 434.3h0M341.3 443.9h0M335.2 446.8h0M344.2 441.8h0M332.0 442.2h0M342.0 438.4h0M333.8 446.5h0M340.7 436.1h0M338.2 435.0h0M334.5 446.9h0M332.2 439.9h0M330.0 443.5h0M334.9 446.6h0M337.8 447.1h0M335.3 446.9h0M335.4 446.1h0M342.2 440.3h0M331.9 443.6h0M331.9 437.5h0M332.4 445.9h0M330.6 443.1h0M340.6 437.2h0M335.2 435.8h0M342.1 438.3h0M337.6 446.6h0M331.0 438.7h0M331.9 436.5h0M333.7 446.1h0M332.1 441.3h0M332.3 443.1h0M342.2 443.7h0M342.2 439.4h0M332.5 446.0h0M331.8 441.0h0M339.3 447.7h0M336.9 449.3h0M331.8 441.6h0M332.3 443.5h0M332.8 446.3h0M337.0 446.9h0M342.3 441.3h0M330.9 443.2h0M336.2 448.8h0M337.0 433.7h0M332.1 440.3h0M336.8 435.3h0M342.1 443.0h0M331.5 439.0h0M344.1 440.9h0M341.6 438.1h0" stroke="#5563e4" stroke-width="1.10" stroke-linecap="round" opacity="1.0"/>
<path d="M332.3 451.6h0M329.4 447.9h0M342.1 436.3h0M343.9 438.4h0M329.2 447.4h0M329.6 444.3h0M344.1 445.5h0M343.2 435.7h0M327.6 445.7h0M333.7 433.2h0M330.2 437.0h0M333.4 450.7h0M328.3 441.2h0M344.5 447.9h0M337.6 432.8h0M332.0 433.4h0M341.4 452.2h0M334.4 432.5h0M344.7 443.8h0M341.0 431.6h0M331.5 434.9h0M331.0 450.6h0M335.4 451.0h0M342.3 433.5h0M333.3 430.5h0M344.1 444.0h0M328.5 448.0h0M346.5 440.6h0M331.6 449.4h0M344.9 439.8h0M344.2 443.0h0M341.2 435.1h0M335.3 431.0h0M333.6 449.6h0M330.8 437.1h0M328.1 448.3h0M339.5 451.9h0M330.0 436.9h0M328.0 447.2h0M342.5 452.0h0M339.6 452.7h0M332.7 449.3h0M338.7 433.9h0M344.1 439.3h0M337.8 430.0h0M337.6 451.3h0M333.4 434.0h0M336.3 431.0h0M328.6 449.6h0M327.3 445.4h0M329.0 443.3h0M329.9 442.2h0M332.9 449.1h0M338.0 430.4h0M329.8 444.5h0M332.5 435.3h0M331.1 436.4h0M336.5 430.7h0M329.5 437.8h0M342.6 448.7h0M338.2 451.7h0M335.4 431.7h0M340.2 431.7h0M333.7 452.6h0M327.3 440.3h0M334.8 452.5h0M332.2 435.2h0M343.6 446.8h0M327.8 441.4h0M326.7 442.3h0M336.2 433.3h0M345.4 443.5h0M336.7 453.0h0M329.6 441.7h0M344.8 444.3h0M333.4 432.7h0M329.8 450.3h0M341.5 434.7h0M344.1 435.1h0M341.7 452.6h0M327.5 445.0h0M337.1 433.2h0M330.3 447.1h0M344.2 444.6h0M329.8 437.0h0M347.5 442.8h0M339.4 433.4h0M330.7 435.3h0M338.3 453.7h0M335.4 433.5h0M336.7 453.6h0M344.1 449.2h0M328.9 441.3h0M332.1 432.0h0M328.0 437.9h0M347.2 440.7h0M331.1 435.5h0M345.3 436.6h0M338.4 430.0h0M342.3 432.8h0M328.4 439.2h0M328.4 445.5h0M339.2 450.5h0M330.0 448.8h0M328.7 437.4h0M331.0 437.4h0M336.8 453.6h0M344.5 437.8h0M343.9 449.0h0M327.9 444.0h0M333.1 434.1h0M338.6 433.2h0M330.9 446.7h0M346.5 441.7h0M343.8 451.5h0M344.8 441.5h0M329.1 437.2h0M340.4 433.8h0M329.8 439.6h0M343.1 433.6h0M343.7 448.3h0M329.3 439.3h0M340.6 430.5h0M341.1 449.6h0M339.2 431.2h0M341.6 451.7h0M334.3 433.2h0M342.3 431.0h0M344.7 449.3h0M327.3 439.8h0M335.6 450.9h0M346.8 437.3h0M330.9 432.3h0M341.0 431.3h0M337.3 431.6h0M331.2 452.4h0M328.4 446.4h0M344.3 441.7h0M330.6 436.9h0M337.6 451.7h0M343.2 437.1h0M334.5 432.6h0M330.0 444.4h0M330.0 450.8h0M343.3 435.7h0M330.6 447.6h0M345.8 446.0h0M334.1 431.9h0M329.1 441.8h0M337.2 433.3h0M327.1 442.4h0M330.2 437.5h0M340.5 452.7h0M340.7 451.5h0M344.4 446.2h0M343.2 432.7h0M329.6 447.1h0M345.7 442.9h0M344.9 445.8h0M335.8 429.5h0M329.9 442.8h0M330.2 443.9h0M330.4 432.3h0M335.9 452.0h0M333.6 431.3h0M339.1 432.5h0M335.9 452.3h0M327.5 447.6h0M343.3 445.7h0M330.1 436.2h0M332.0 432.3h0M339.3 454.2h0M347.1 443.5h0M333.8 452.1h0M330.0 445.7h0M328.6 446.3h0M331.7 452.6h0M333.5 449.2h0M339.5 432.2h0M330.4 447.5h0M330.6 437.0h0M338.7 452.5h0M341.7 434.8h0M343.8 450.1h0M342.0 433.5h0M327.6 441.9h0M340.3 431.7h0M331.5 447.7h0M344.4 435.0h0M344.3 442.6h0M340.2 433.3h0M328.8 439.2h0M339.4 429.8h0M342.1 447.6h0M338.2 432.8h0M342.1 436.0h0M329.5 447.1h0M347.5 443.3h0M335.3 453.0h0M330.1 439.3h0M332.2 452.4h0M346.0 437.7h0M345.5 436.2h0M338.3 431.0h0M345.7 447.7h0M346.2 447.5h0M332.6 430.9h0M329.7 436.8h0M342.9 449.2h0M335.0 433.7h0M345.9 442.4h0M332.3 435.0h0M340.7 453.6h0M328.8 437.5h0M332.4 448.6h0M331.2 450.2h0M329.1 440.9h0M331.5 447.1h0M344.2 435.2h0M330.5 450.2h0M342.9 431.7h0M336.4 452.7h0M339.6 452.9h0M330.0 442.7h0M337.6 432.4h0M329.5 439.9h0M343.8 450.5h0M331.6 452.5h0M336.1 432.2h0M338.3 450.3h0M343.8 438.3h0M343.0 436.6h0M327.4 446.2h0M328.6 449.0h0M343.8 448.5h0M343.4 447.9h0M329.4 445.7h0M346.1 436.4h0M345.3 446.6h0M330.1 445.5h0M332.1 435.1h0M341.2 452.0h0M344.3 434.4h0M343.5 448.9h0M340.3 450.3h0M329.6 441.0h0M344.5 436.9h0M343.8 434.6h0M340.4 451.7h0M341.2 432.2h0M342.7 448.6h0M330.0 449.5h0M338.9 451.2h0M344.0 449.3h0M337.4 432.9h0M341.9 430.9h0M333.7 449.6h0M328.0 447.1h0M337.2 451.1h0M346.4 443.7h0M343.9 444.1h0M342.4 452.2h0M340.1 433.3h0M339.6 452.9h0M331.8 452.9h0M329.4 441.7h0M332.6 431.2h0M346.0 443.7h0M347.2 439.2h0M338.2 452.0h0M338.1 452.0h0M341.6 448.2h0M342.6 449.8h0M331.1 437.4h0M344.1 439.1h0M340.0 450.8h0M345.5 447.4h0M337.9 453.3h0M333.8 449.7h0M329.4 446.3h0M328.8 443.7h0M339.9 450.6h0M329.1 433.6h0M343.7 432.8h0M327.5 439.0h0M333.8 452.9h0M335.4 431.6h0M329.9 448.4h0M341.4 450.1h0M333.0 450.4h0M338.0 452.2h0M346.4 445.1h0M335.7 450.8h0M343.3 446.1h0M337.6 450.7h0M326.7 440.1h0M341.5 435.6h0M346.6 446.2h0M340.9 453.3h0M345.0 441.3h0M337.4 432.7h0M344.7 438.3h0M345.5 448.4h0M341.3 449.6h0M334.3 450.0h0M342.5 450.3h0M329.9 439.5h0M332.1 432.9h0M328.6 443.3h0M329.7 445.1h0M327.3 442.9h0M330.0 437.0h0M327.5 444.4h0M340.1 450.7h0M328.6 446.4h0M344.5 450.1h0M345.0 443.2h0M334.1 449.7h0M343.8 439.4h0M343.0 435.1h0M344.7 443.6h0M337.6 430.5h0M331.7 453.1h0M344.5 440.7h0M342.8 436.9h0M338.5 452.5h0M342.7 434.5h0M329.6 447.2h0M335.8 431.2h0M330.9 435.4h0M343.9 445.3h0M341.4 449.5h0M338.3 431.6h0M330.2 447.6h0M343.9 448.0h0M328.1 442.7h0M327.9 443.1h0M344.0 443.4h0M338.0 454.3h0M344.8 437.3h0M332.8 431.1h0M344.6 434.7h0M334.1 433.3h0M332.3 433.9h0M336.4 432.8h0M337.4 431.5h0M326.5 440.4h0M327.4 441.2h0M344.4 447.3h0M341.7 433.9h0M341.7 449.7h0M328.9 438.6h0M327.5 447.0h0M328.1 447.3h0M344.7 442.6h0M334.1 430.4h0M332.7 435.1h0M345.7 440.7h0M328.7 438.7h0M346.0 444.3h0M337.7 451.8h0M337.3 430.9h0M329.0 444.1h0M328.2 438.9h0M326.8 438.8h0M345.9 440.3h0M340.9 453.7h0M343.7 447.3h0M342.0 434.8h0M329.3 437.8h0M343.4 449.7h0M344.3 436.3h0M335.0 432.0h0M332.2 430.9h0M337.1 429.8h0M334.7 450.2h0M334.1 450.8h0M339.0 451.2h0M328.0 439.4h0M336.0 452.1h0M335.0 453.9h0M330.6 438.0h0M331.7 447.5h0M347.1 443.3h0M338.6 432.6h0M329.1 439.8h0M337.5 431.8h0M329.5 446.3h0M343.8 437.1h0M332.0 435.8h0M327.0 441.0h0M328.5 438.5h0M329.4 444.5h0M337.0 430.1h0M334.4 431.6h0M343.7 448.5h0M338.8 452.6h0M338.3 433.6h0M344.1 436.9h0M331.2 448.0h0M344.8 437.7h0M339.0 453.0h0M333.6 431.4h0M346.6 442.0h0M344.8 433.7h0M339.1 451.7h0M337.5 429.6h0M341.4 432.0h0M330.3 450.6h0M346.9 439.6h0M331.4 432.9h0M340.5 452.9h0M334.1 433.6h0M328.1 437.5h0M345.6 447.7h0M339.7 432.9h0M333.3 433.6h0M332.2 434.0h0M342.5 450.9h0M341.9 448.9h0M335.9 431.8h0M340.5 431.1h0M338.2 450.7h0M346.1 437.7h0M333.0 453.4h0M335.0 430.6h0M327.8 442.3h0M346.8 443.7h0M342.3 450.9h0M345.7 443.0h0M344.6 441.5h0M327.1 439.2h0M330.5 449.1h0M332.2 448.2h0M339.4 434.1h0M344.4 436.6h0M338.3 429.5h0M330.3 449.5h0M328.5 447.3h0M333.2 433.6h0M345.8 439.6h0M327.8 443.9h0M327.2 441.0h0M331.3 434.3h0M334.1 452.3h0M342.3 436.0h0M343.5 436.0h0M338.5 432.5h0M339.7 453.2h0M330.1 450.5h0M344.2 443.7h0M328.9 442.4h0M333.2 431.9h0M340.9 449.7h0M344.3 448.4h0M340.0 450.4h0M343.4 433.0h0M345.0 449.0h0M346.1 447.4h0M340.0 453.9h0M344.2 435.7h0M329.4 445.5h0M339.3 451.1h0M329.6 448.6h0M342.1 449.3h0M330.2 435.8h0M338.5 432.8h0M328.7 436.9h0M336.1 429.4h0M343.6 432.9h0M342.7 450.5h0M331.5 447.5h0M331.6 452.3h0M337.8 454.2h0M328.0 439.4h0M346.2 445.6h0M342.9 436.2h0M334.7 450.5h0M327.8 445.3h0M338.8 432.6h0M343.8 436.2h0M335.2 426.9h0M330.0 427.0h0M333.6 424.8h0M335.8 428.0h0M330.2 426.1h0M335.1 425.7h0M333.0 425.8h0M333.4 428.1h0M335.3 426.2h0M334.4 424.9h0M336.7 424.9h0M334.6 423.9h0M331.7 426.6h0M333.5 424.2h0M333.7 428.0h0M330.7 423.9h0M335.3 425.3h0M336.4 425.1h0M329.8 425.4h0M335.1 427.7h0M334.4 428.0h0M333.5 423.1h0M330.5 423.5h0M336.4 427.1h0M336.7 426.7h0M330.0 425.1h0M332.3 426.4h0M330.5 428.1h0M333.3 427.4h0M333.1 428.2h0M334.6 427.8h0M336.3 427.3h0M334.3 425.4h0M334.2 427.0h0M335.2 425.6h0M334.0 424.2h0M333.3 424.7h0M334.6 423.3h0M332.7 422.9h0M335.2 425.6h0M336.8 425.7h0M332.0 427.1h0M329.3 426.0h0M332.4 423.2h0M334.8 426.3h0M332.3 427.6h0M334.0 425.3h0M330.0 423.9h0M330.5 426.2h0M336.1 427.7h0M332.4 428.2h0M334.2 427.1h0M330.2 425.4h0M330.7 424.7h0M336.4 427.0h0M336.4 426.1h0M332.1 428.6h0M333.0 427.7h0M330.8 427.4h0M332.1 423.0h0M334.6 428.1h0M331.3 426.8h0M330.0 425.2h0M331.4 423.9h0M336.4 425.4h0M335.2 423.8h0M336.9 439.1h0M336.6 444.8h0M335.1 440.0h0M335.9 443.5h0M334.9 445.0h0M341.5 441.6h0M335.8 442.6h0M337.6 435.9h0M338.2 440.3h0M339.4 439.3h0M338.3 438.3h0M337.8 445.9h0M335.4 444.4h0M333.8 439.7h0M339.7 439.0h0M338.6 442.0h0M332.2 441.5h0M339.7 442.5h0M340.2 445.1h0M333.1 441.7h0M332.5 440.4h0M334.0 439.2h0M339.2 438.8h0M338.2 436.8h0M335.3 443.1h0M334.3 443.9h0M335.6 444.2h0M339.7 440.5h0M334.7 438.6h0M338.1 444.3h0M335.6 440.8h0M339.8 443.3h0M340.6 439.8h0M335.9 440.0h0M339.1 440.3h0M337.9 444.7h0M334.2 440.2h0M337.0 445.9h0M334.9 440.0h0M332.5 443.0h0M338.6 438.3h0M335.2 441.5h0M337.5 436.6h0M341.1 441.8h0M338.9 440.0h0M332.3 441.3h0M334.8 445.7h0M339.0 442.4h0M334.6 443.5h0M334.9 441.7h0M335.8 436.7h0M341.1 441.0h0M338.1 444.1h0M334.4 444.6h0M340.3 442.9h0M339.4 443.4h0M336.6 442.2h0M336.2 436.5h0M334.6 442.0h0M334.1 441.0h0M340.8 442.1h0M339.8 438.7h0M336.8 445.2h0M340.6 438.4h0M339.0 437.4h0M339.2 445.0h0M340.1 441.6h0M335.0 443.0h0M334.3 442.7h0M335.9 445.6h0M337.5 446.0h0M333.6 443.3h0M334.6 443.7h0M336.1 442.7h0M334.6 441.6h0M339.1 444.6h0M337.1 435.9h0M341.3 439.1h0M335.1 439.9h0M340.4 444.7h0M338.1 439.2h0M338.0 444.1h0M332.8 439.5h0M334.8 444.3h0M333.0 441.8h0M336.8 439.0h0M340.5 444.2h0M336.0 436.2h0M337.6 438.2h0M334.7 438.1h0M336.7 438.7h0M339.3 443.9h0M335.7 436.4h0M335.5 442.1h0M339.9 441.6h0M334.2 439.1h0M340.1 443.8h0M334.3 438.8h0M340.0 443.8h0M336.3 443.0h0M339.6 440.9h0M334.2 441.0h0M339.4 439.6h0M337.2 439.6h0M334.8 441.2h0M336.8 442.9h0M338.1 445.1h0M339.2 443.0h0M340.6 440.3h0M336.6 443.7h0M341.4 440.7h0M338.7 442.8h0M336.0 439.0h0M334.6 444.5h0M335.7 440.0h0M337.5 437.2h0M337.5 442.8h0M335.5 439.3h0M334.2 443.0h0M335.2 443.5h0M336.4 444.1h0M339.8 444.1h0M335.0 441.2h0M339.1 436.4h0M340.0 439.6h0M334.1 438.0h0M335.2 440.4h0M335.0 439.8h0M340.1 438.0h0M339.2 440.2h0M336.4 437.0h0M338.5 436.7h0M336.1 444.6h0M336.8 437.7h0M333.2 437.8h0M335.3 438.9h0" stroke="#2a44ea" stroke-width="1.10" stroke-linecap="round" opacity="1.0"/>
<path d="M342.4 441.2h0M332.6 444.9h0M338.3 435.0h0M340.8 439.4h0M339.9 436.0h0M334.6 448.9h0M334.9 445.2h0M331.5 444.5h0M339.1 449.4h0M337.2 436.3h0M338.4 438.5h0M342.2 442.1h0M341.5 442.2h0M341.3 441.6h0M334.7 445.3h0M335.5 449.8h0M334.7 438.2h0M337.1 446.5h0M338.4 440.9h0M335.1 443.4h0M338.2 434.1h0M332.2 445.3h0M341.9 441.5h0M340.0 448.5h0M340.8 440.6h0M334.9 443.6h0M336.3 443.1h0M337.0 438.8h0M340.0 443.1h0M335.9 435.4h0M331.5 445.3h0M331.7 437.8h0M338.0 441.8h0M339.2 437.5h0M332.0 445.2h0M333.1 448.3h0M339.8 439.9h0M341.1 437.9h0M339.0 437.1h0M334.3 444.1h0M332.8 444.6h0M335.9 437.0h0M331.2 445.1h0M333.6 446.2h0M343.0 439.7h0M331.4 441.1h0M340.2 443.9h0M335.0 439.8h0M335.5 446.8h0M336.7 434.1h0M335.9 437.5h0M336.4 449.7h0M343.2 444.0h0M336.9 442.8h0M337.7 446.5h0M336.9 445.9h0M335.4 446.8h0M341.1 442.9h0M338.1 447.4h0M338.6 438.0h0M336.2 444.0h0M341.2 437.6h0M336.4 437.6h0M333.2 442.6h0M342.4 445.8h0M335.9 438.2h0M337.5 441.7h0M334.8 440.0h0M334.0 445.8h0M338.3 446.0h0M339.2 446.3h0M330.7 439.3h0M336.1 440.7h0M341.6 442.8h0M341.3 436.4h0M335.3 449.6h0M332.8 445.9h0M334.3 442.7h0M337.9 446.9h0M332.7 440.7h0M338.3 442.5h0M333.7 448.0h0M341.1 436.7h0M338.3 443.9h0M333.5 437.0h0M332.3 439.5h0M336.4 436.9h0M340.4 438.4h0M332.2 438.3h0M334.2 435.6h0M339.5 446.2h0M340.3 437.6h0M334.2 445.4h0M336.8 449.1h0M336.8 441.4h0M341.0 447.1h0M343.7 442.6h0M339.6 444.4h0M334.9 439.4h0M342.5 437.1h0M338.4 433.9h0M338.6 439.6h0M334.8 444.3h0M333.1 442.1h0M334.4 445.0h0M338.5 435.2h0M335.2 449.3h0M342.5 439.0h0M334.3 449.2h0M340.6 435.8h0M334.3 439.7h0M333.5 443.3h0M334.6 439.3h0M332.9 442.9h0M335.8 438.6h0M340.5 447.4h0M332.0 440.5h0M338.2 442.7h0M340.2 444.3h0M334.7 444.8h0M335.9 448.5h0M340.0 438.4h0M332.3 438.0h0M336.4 438.1h0M341.2 441.1h0M338.9 443.0h0M336.7 442.3h0M340.6 435.3h0M337.8 448.4h0M335.6 439.3h0M339.6 438.6h0M334.7 439.6h0M339.7 442.9h0M330.6 440.9h0M331.8 438.1h0M336.6 445.0h0M333.6 442.2h0M342.6 444.4h0M342.1 438.9h0M334.4 449.2h0M340.0 445.4h0M338.2 436.7h0M338.2 434.7h0M336.6 436.0h0M336.8 441.8h0M332.7 439.9h0M342.8 437.8h0M339.1 437.3h0M338.4 439.8h0M337.5 447.6h0M336.1 448.1h0M334.8 445.7h0M332.2 447.8h0M336.1 449.0h0M338.7 444.0h0M333.8 441.8h0M335.9 447.6h0M335.6 450.1h0M337.3 448.7h0M337.3 440.4h0M335.6 439.7h0M331.5 440.2h0M338.3 436.0h0M334.5 443.8h0M333.0 436.5h0M333.0 439.2h0M333.5 435.9h0M331.8 447.3h0M332.3 442.2h0M334.6 439.4h0M334.2 436.1h0M338.0 440.6h0M340.8 441.7h0M330.6 444.8h0M332.5 441.2h0M336.0 445.5h0M338.5 443.1h0M331.3 438.8h0M340.0 435.9h0M336.3 441.7h0M335.7 441.8h0M338.4 448.9h0M336.0 444.5h0M339.1 437.7h0M342.9 438.1h0M333.3 442.6h0M340.3 441.0h0M339.1 443.8h0M333.5 446.1h0M337.1 446.1h0M340.8 439.4h0M334.2 443.1h0M332.6 436.2h0M335.6 450.2h0M337.1 442.4h0M340.8 446.9h0M340.4 441.6h0M339.1 434.3h0M340.6 436.3h0M337.3 438.3h0M337.3 439.7h0M336.3 442.4h0M336.1 440.9h0M337.2 433.9h0M335.5 439.4h0M336.1 437.1h0M331.0 440.7h0M332.5 442.4h0M338.3 446.0h0M339.3 437.5h0M339.1 444.3h0M336.2 443.4h0M336.4 443.8h0M340.1 438.5h0M341.1 446.5h0M335.0 441.4h0M331.3 442.5h0M340.9 446.0h0M336.4 436.0h0M336.7 443.4h0M342.0 441.0h0M333.1 435.4h0M336.5 436.4h0M341.6 438.7h0M339.8 441.0h0M340.8 437.0h0M338.6 444.4h0M335.5 444.4h0M339.6 446.9h0M335.1 442.6h0M330.5 443.9h0M334.2 448.8h0M334.7 434.8h0M334.0 434.4h0M338.2 446.5h0M332.9 440.2h0M341.8 447.5h0M336.3 435.6h0M341.1 446.1h0M334.8 438.7h0M339.6 442.2h0M340.0 438.9h0M337.1 443.3h0M333.7 446.7h0M335.6 438.1h0M341.1 435.6h0M331.0 442.0h0M342.8 437.6h0M340.4 443.5h0M334.0 437.9h0M342.1 443.6h0M334.5 445.5h0M342.0 437.6h0M335.2 443.2h0M330.7 443.4h0M336.4 436.7h0M331.6 444.3h0M342.5 444.5h0M338.1 446.5h0M336.1 437.4h0M339.7 437.7h0M335.9 443.1h0M339.4 442.2h0M335.6 440.9h0M337.0 441.1h0M333.9 447.6h0M331.6 446.2h0M334.0 442.4h0M339.9 436.3h0M335.4 441.1h0M334.0 438.1h0M339.2 437.6h0M338.7 444.0h0M337.2 436.3h0M343.7 443.6h0M340.6 442.2h0M337.4 434.1h0M335.6 441.3h0M331.3 442.4h0M339.5 443.8h0M333.2 435.9h0M342.4 441.2h0M342.0 442.4h0M337.8 435.2h0M335.0 449.8h0M341.4 439.9h0M340.8 443.3h0M331.1 440.4h0M335.6 438.8h0M337.5 442.8h0M336.6 444.1h0M334.2 441.1h0M341.9 441.9h0M336.2 436.6h0M336.8 439.3h0M332.9 439.8h0M336.2 438.6h0M338.6 438.1h0M333.0 440.0h0M336.5 438.7h0M341.1 438.0h0M340.6 436.1h0M333.0 447.1h0M339.4 435.5h0M338.6 441.8h0M342.7 445.4h0M331.0 439.5h0M342.0 446.6h0M343.4 442.2h0M336.9 444.3h0M330.3 441.6h0M340.0 439.8h0M340.4 438.6h0M338.2 436.1h0M337.3 439.0h0M341.6 438.3h0M343.0 446.0h0M340.3 440.0h0M339.7 437.6h0M334.9 434.9h0M338.7 438.6h0M336.3 438.4h0M333.8 442.8h0M343.7 440.5h0M340.1 439.0h0M333.2 441.4h0M333.4 448.2h0M332.6 445.2h0M334.5 441.1h0M337.9 440.5h0M335.3 435.2h0M337.5 437.8h0M338.7 449.3h0M340.2 447.4h0M338.0 448.2h0M339.0 447.7h0M340.7 437.9h0M336.6 448.7h0M338.6 437.1h0M337.2 437.2h0M338.9 437.7h0M331.2 441.8h0M333.6 442.0h0M330.8 443.3h0M339.2 437.8h0M332.9 439.1h0M333.7 440.9h0M336.5 441.9h0M340.1 440.2h0M336.5 439.8h0M334.6 439.5h0M337.7 434.7h0M339.8 439.2h0M336.2 437.9h0M335.7 448.1h0M341.1 436.4h0M336.4 443.0h0M334.5 442.0h0M332.4 436.4h0M337.5 434.0h0M340.0 440.7h0M334.0 441.0h0M338.0 440.6h0M343.2 443.1h0M343.5 444.9h0M335.5 442.9h0M340.5 437.2h0M334.0 442.2h0M332.0 442.4h0M334.6 446.5h0M336.4 437.5h0M335.3 441.3h0M341.6 443.4h0M337.5 437.5h0M331.7 436.7h0M335.8 449.8h0M335.3 443.5h0M339.0 442.0h0M341.6 443.6h0M333.7 435.4h0M341.2 440.5h0M341.8 442.4h0M335.0 446.5h0M333.0 447.4h0M337.9 445.4h0M336.8 441.5h0M333.2 438.7h0M339.2 446.6h0M333.8 440.9h0M342.1 441.4h0M334.9 439.7h0M343.1 445.9h0M342.1 437.9h0M331.0 442.1h0M343.5 442.8h0M336.9 449.9h0M338.8 444.4h0M336.5 436.8h0M340.0 449.0h0M332.5 444.2h0M340.1 446.1h0M342.9 445.2h0M333.0 445.0h0M332.4 438.7h0M331.6 440.2h0M331.4 446.0h0M340.2 439.6h0M330.7 445.2h0M337.0 443.2h0M338.3 440.3h0M338.1 447.7h0M334.7 436.9h0M331.0 441.1h0M335.9 449.3h0M332.8 444.5h0M341.3 443.2h0M338.8 444.3h0M333.3 440.4h0M332.1 440.1h0M341.9 445.1h0M336.9 441.3h0M336.5 447.1h0M337.7 443.4h0M338.5 438.2h0M342.0 436.6h0M331.8 444.8h0M333.3 440.1h0M337.0 441.0h0M340.0 443.7h0M337.6 435.6h0M333.4 439.9h0M331.3 443.1h0M337.3 447.8h0M336.1 440.7h0M340.1 436.3h0M338.7 446.6h0M335.2 435.8h0M331.3 439.4h0M334.8 439.8h0M338.9 436.5h0M339.4 445.7h0M342.5 443.5h0M341.8 448.0h0M341.6 439.7h0M342.6 443.4h0M335.9 446.0h0M342.1 443.9h0M334.0 435.7h0M334.5 437.4h0M338.3 443.3h0M336.4 441.9h0M339.7 439.3h0M336.3 440.0h0M340.2 438.8h0M338.7 435.5h0M335.4 441.0h0M341.1 441.6h0M338.2 444.7h0M333.9 438.4h0M333.6 438.5h0M339.0 446.3h0M331.4 443.5h0M340.4 439.1h0M340.8 441.8h0M333.5 446.3h0M343.2 445.5h0M330.2 443.4h0M333.2 442.9h0M339.3 445.2h0M334.3 441.1h0M332.4 441.0h0M334.4 443.2h0M331.7 440.9h0M334.0 439.3h0M337.3 439.3h0M337.9 439.7h0M337.7 445.9h0M333.6 438.6h0M342.3 441.1h0M333.8 446.6h0M339.3 446.8h0M332.7 440.9h0M337.5 441.9h0M338.9 442.0h0M342.5 446.6h0M330.9 445.9h0M339.5 442.4h0M331.0 439.0h0M337.1 436.8h0M334.7 449.6h0M336.2 442.7h0M338.4 446.8h0M340.1 447.3h0M331.9 438.4h0M335.6 448.6h0M338.1 436.5h0M340.6 441.4h0M331.9 443.9h0M342.9 439.9h0M340.8 446.2h0M336.3 450.0h0M334.0 438.9h0M341.2 445.7h0M333.4 435.6h0M333.8 436.2h0M335.4 441.3h0M335.9 443.2h0M334.0 441.5h0M336.3 444.9h0M338.9 441.2h0M341.1 442.7h0M336.0 440.8h0M334.5 446.1h0M338.3 433.9h0M336.7 443.7h0M337.9 445.3h0M335.2 447.6h0M334.9 445.4h0M341.0 439.7h0M334.5 448.4h0M341.3 441.5h0M335.0 440.6h0M340.1 438.7h0M342.0 445.1h0M342.6 440.0h0M337.6 436.8h0M337.0 442.0h0M338.2 440.2h0M339.9 444.7h0M339.0 440.2h0M339.2 442.3h0M333.3 440.0h0M338.7 443.5h0M337.6 445.2h0M336.1 442.0h0M335.7 438.0h0M338.5 439.9h0M338.9 438.0h0M332.2 440.7h0M332.4 444.3h0M337.4 439.7h0M335.5 439.9h0M332.8 439.4h0M341.3 440.2h0M335.8 439.7h0M338.0 445.0h0M331.5 437.0h0M333.7 444.9h0M338.7 435.5h0M335.9 440.3h0M335.7 445.8h0M339.5 435.3h0M342.0 441.7h0M336.8 449.9h0M338.0 446.3h0M338.2 443.3h0M335.8 440.8h0M337.9 435.0h0M338.5 448.9h0M334.4 438.0h0M333.7 435.7h0M342.6 441.2h0M339.2 442.5h0M337.9 440.1h0M332.2 437.3h0M334.5 446.4h0M339.5 449.4h0M335.6 439.4h0M338.6 442.9h0M340.8 439.9h0M343.5 440.7h0M332.1 445.3h0M336.6 440.2h0M336.1 441.5h0M330.8 441.2h0M339.4 447.0h0M333.2 436.8h0M338.7 437.6h0M343.1 443.5h0M336.2 439.1h0M340.2 441.9h0M338.4 447.9h0M339.1 448.9h0M334.5 442.7h0M336.6 436.8h0M334.6 449.5h0M335.1 443.0h0M331.4 440.3h0M337.9 439.7h0M332.6 447.2h0M337.9 446.9h0M341.3 435.9h0M334.7 439.8h0M333.4 439.1h0M338.2 447.3h0M337.9 449.0h0M340.2 443.2h0M335.5 434.6h0M340.6 448.5h0M341.2 445.1h0M334.8 449.1h0M332.4 438.8h0M333.2 435.8h0M341.1 444.5h0M332.8 447.1h0M340.9 443.0h0M332.5 444.9h0M337.8 437.8h0M339.0 444.3h0M336.9 438.4h0M342.8 442.4h0M333.3 439.1h0M338.7 447.8h0M335.4 444.1h0M340.2 436.9h0M333.0 446.5h0M339.5 440.5h0M339.4 436.2h0M336.8 439.2h0M342.4 441.6h0M336.7 435.1h0M337.9 438.3h0M337.9 433.7h0M337.5 441.1h0M337.6 440.9h0M337.5 440.8h0M336.2 440.9h0M337.0 440.1h0M336.7 441.8h0M336.2 441.0h0M337.3 442.2h0M337.7 441.8h0M337.3 440.9h0M336.7 441.4h0" stroke="#1e5cf0" stroke-width="1.10" stroke-linecap="round" opacity="1.0"/>
<ellipse cx="336.6" cy="440" rx="12.5" ry="13.5" fill="url(#gblob)"/>
<path d="M313.1 444.1h0M312.5 434.5h0M317.1 433.4h0M312.8 442.2h0M307.8 428.9h0M312.2 447.5h0M308.8 438.2h0M309.8 443.0h0M313.2 447.6h0M311.0 434.1h0M314.1 435.7h0M306.8 449.2h0M322.5 438.8h0M318.2 439.5h0M315.9 440.9h0M307.7 444.3h0M304.2 445.4h0M309.5 440.4h0M312.0 438.6h0M322.1 439.9h0M318.3 441.2h0M310.9 445.4h0M317.9 440.6h0M318.0 447.4h0M313.1 436.5h0M318.0 442.2h0M314.3 447.2h0M310.3 445.3h0M308.2 441.4h0M312.5 436.4h0" stroke="#e0e2f5" stroke-width="0.90" stroke-linecap="round" opacity="1.0"/>
</g>
<rect x="205.80" y="227.50" width="69.80" height="69.20" fill="none" stroke="#333" stroke-width="0.9"/>
<path d="M244.80 227.50V296.70M205.80 258.80H275.60" stroke="#555" stroke-width="0.6"/>
<text x="211.00" y="234.40" font-size="4.4" text-anchor="start" fill="#000" stroke="#222" stroke-width="0.16">83.64</text>
<text x="271.10" y="234.40" font-size="4.4" text-anchor="end" fill="#000" stroke="#222" stroke-width="0.16">2.31</text>
<text x="211.00" y="292.70" font-size="4.4" text-anchor="start" fill="#000" stroke="#222" stroke-width="0.16">8.28</text>
<text x="271.10" y="292.70" font-size="4.4" text-anchor="end" fill="#000" stroke="#222" stroke-width="0.16">5.77</text>
<text x="214.00" y="304.90" font-size="3.2" text-anchor="middle" fill="#555">10<tspan font-size="2.3" dy="-1.4">1</tspan></text>
<text x="226.75" y="304.90" font-size="3.2" text-anchor="middle" fill="#555">10<tspan font-size="2.3" dy="-1.4">2</tspan></text>
<text x="239.50" y="304.90" font-size="3.2" text-anchor="middle" fill="#555">10<tspan font-size="2.3" dy="-1.4">3</tspan></text>
<text x="252.25" y="304.90" font-size="3.2" text-anchor="middle" fill="#555">10<tspan font-size="2.3" dy="-1.4">4</tspan></text>
<text x="265.00" y="304.90" font-size="3.2" text-anchor="middle" fill="#555">10<tspan font-size="2.3" dy="-1.4">5</tspan></text>
<path d="M214.0 296.7v1M226.8 296.7v1M239.5 296.7v1M252.2 296.7v1M265.0 296.7v1" stroke="#666" stroke-width="0.4"/>
<path d="M204.8 234.2h1M204.8 247.9h1M204.8 261.6h1M204.8 275.3h1M204.8 289.0h1" stroke="#666" stroke-width="0.4"/>
<rect x="288.00" y="228.00" width="71.60" height="68.70" fill="none" stroke="#333" stroke-width="0.9"/>
<path d="M320.20 228.00V296.70M288.00 262.10H359.60" stroke="#555" stroke-width="0.6"/>
<text x="293.20" y="234.90" font-size="4.4" text-anchor="start" fill="#000" stroke="#222" stroke-width="0.16">45.6</text>
<text x="355.10" y="234.90" font-size="4.4" text-anchor="end" fill="#000" stroke="#222" stroke-width="0.16">15.08</text>
<text x="293.20" y="292.70" font-size="4.4" text-anchor="start" fill="#000" stroke="#222" stroke-width="0.16">0.00</text>
<text x="355.10" y="292.70" font-size="4.4" text-anchor="end" fill="#000" stroke="#222" stroke-width="0.16">39.29</text>
<text x="296.20" y="304.90" font-size="3.2" text-anchor="middle" fill="#555">10<tspan font-size="2.3" dy="-1.4">1</tspan></text>
<text x="309.40" y="304.90" font-size="3.2" text-anchor="middle" fill="#555">10<tspan font-size="2.3" dy="-1.4">2</tspan></text>
<text x="322.60" y="304.90" font-size="3.2" text-anchor="middle" fill="#555">10<tspan font-size="2.3" dy="-1.4">3</tspan></text>
<text x="335.80" y="304.90" font-size="3.2" text-anchor="middle" fill="#555">10<tspan font-size="2.3" dy="-1.4">4</tspan></text>
<text x="349.00" y="304.90" font-size="3.2" text-anchor="middle" fill="#555">10<tspan font-size="2.3" dy="-1.4">5</tspan></text>
<path d="M296.2 296.7v1M309.4 296.7v1M322.6 296.7v1M335.8 296.7v1M349.0 296.7v1" stroke="#666" stroke-width="0.4"/>
<path d="M287.0 234.7h1M287.0 248.3h1M287.0 261.9h1M287.0 275.4h1M287.0 289.0h1" stroke="#666" stroke-width="0.4"/>
<text x="281.70" y="235.70" font-size="3.2" text-anchor="middle" fill="#555">10<tspan font-size="2.3" dy="-1.4">5</tspan></text>
<text x="281.70" y="249.27" font-size="3.2" text-anchor="middle" fill="#555">10<tspan font-size="2.3" dy="-1.4">4</tspan></text>
<text x="281.70" y="262.85" font-size="3.2" text-anchor="middle" fill="#555">10<tspan font-size="2.3" dy="-1.4">3</tspan></text>
<text x="281.70" y="276.43" font-size="3.2" text-anchor="middle" fill="#555">10<tspan font-size="2.3" dy="-1.4">2</tspan></text>
<text x="281.70" y="290.00" font-size="3.2" text-anchor="middle" fill="#555">10<tspan font-size="2.3" dy="-1.4">1</tspan></text>
<rect x="205.40" y="310.60" width="70.20" height="69.80" fill="none" stroke="#333" stroke-width="0.9"/>
<path d="M244.40 310.60V380.40M205.40 341.90H275.60" stroke="#555" stroke-width="0.6"/>
<text x="210.60" y="317.50" font-size="4.4" text-anchor="start" fill="#000" stroke="#222" stroke-width="0.16">39.00</text>
<text x="271.10" y="317.50" font-size="4.4" text-anchor="end" fill="#000" stroke="#222" stroke-width="0.16">11.44</text>
<text x="210.60" y="376.40" font-size="4.4" text-anchor="start" fill="#000" stroke="#222" stroke-width="0.16">34.80</text>
<text x="271.10" y="376.40" font-size="4.4" text-anchor="end" fill="#000" stroke="#222" stroke-width="0.16">14.96</text>
<text x="213.60" y="388.60" font-size="3.2" text-anchor="middle" fill="#555">10<tspan font-size="2.3" dy="-1.4">1</tspan></text>
<text x="226.45" y="388.60" font-size="3.2" text-anchor="middle" fill="#555">10<tspan font-size="2.3" dy="-1.4">2</tspan></text>
<text x="239.30" y="388.60" font-size="3.2" text-anchor="middle" fill="#555">10<tspan font-size="2.3" dy="-1.4">3</tspan></text>
<text x="252.15" y="388.60" font-size="3.2" text-anchor="middle" fill="#555">10<tspan font-size="2.3" dy="-1.4">4</tspan></text>
<text x="265.00" y="388.60" font-size="3.2" text-anchor="middle" fill="#555">10<tspan font-size="2.3" dy="-1.4">5</tspan></text>
<path d="M213.6 380.4v1M226.4 380.4v1M239.3 380.4v1M252.2 380.4v1M265.0 380.4v1" stroke="#666" stroke-width="0.4"/>
<path d="M204.4 317.3h1M204.4 331.1h1M204.4 345.0h1M204.4 358.9h1M204.4 372.7h1" stroke="#666" stroke-width="0.4"/>
<rect x="288.50" y="310.60" width="71.10" height="71.10" fill="none" stroke="#333" stroke-width="0.9"/>
<path d="M320.20 310.60V381.70M288.50 347.10H359.60" stroke="#555" stroke-width="0.6"/>
<text x="293.70" y="317.50" font-size="4.4" text-anchor="start" fill="#000" stroke="#222" stroke-width="0.16">3.25</text>
<text x="355.10" y="317.50" font-size="4.4" text-anchor="end" fill="#000" stroke="#222" stroke-width="0.16">35.96</text>
<text x="293.70" y="377.70" font-size="4.4" text-anchor="start" fill="#000" stroke="#222" stroke-width="0.16">0.57</text>
<text x="355.10" y="377.70" font-size="4.4" text-anchor="end" fill="#000" stroke="#222" stroke-width="0.16">60.61</text>
<text x="296.70" y="389.90" font-size="3.2" text-anchor="middle" fill="#555">10<tspan font-size="2.3" dy="-1.4">1</tspan></text>
<text x="309.77" y="389.90" font-size="3.2" text-anchor="middle" fill="#555">10<tspan font-size="2.3" dy="-1.4">2</tspan></text>
<text x="322.85" y="389.90" font-size="3.2" text-anchor="middle" fill="#555">10<tspan font-size="2.3" dy="-1.4">3</tspan></text>
<text x="335.93" y="389.90" font-size="3.2" text-anchor="middle" fill="#555">10<tspan font-size="2.3" dy="-1.4">4</tspan></text>
<text x="349.00" y="389.90" font-size="3.2" text-anchor="middle" fill="#555">10<tspan font-size="2.3" dy="-1.4">5</tspan></text>
<path d="M296.7 381.7v1M309.8 381.7v1M322.9 381.7v1M335.9 381.7v1M349.0 381.7v1" stroke="#666" stroke-width="0.4"/>
<path d="M287.5 317.3h1M287.5 331.5h1M287.5 345.6h1M287.5 359.8h1M287.5 374.0h1" stroke="#666" stroke-width="0.4"/>
<text x="282.20" y="318.30" font-size="3.2" text-anchor="middle" fill="#555">10<tspan font-size="2.3" dy="-1.4">5</tspan></text>
<text x="282.20" y="332.48" font-size="3.2" text-anchor="middle" fill="#555">10<tspan font-size="2.3" dy="-1.4">4</tspan></text>
<text x="282.20" y="346.65" font-size="3.2" text-anchor="middle" fill="#555">10<tspan font-size="2.3" dy="-1.4">3</tspan></text>
<text x="282.20" y="360.82" font-size="3.2" text-anchor="middle" fill="#555">10<tspan font-size="2.3" dy="-1.4">2</tspan></text>
<text x="282.20" y="375.00" font-size="3.2" text-anchor="middle" fill="#555">10<tspan font-size="2.3" dy="-1.4">1</tspan></text>
<rect x="205.40" y="394.20" width="70.20" height="72.00" fill="none" stroke="#333" stroke-width="0.9"/>
<path d="M244.20 394.20V466.20M205.40 427.00H275.60" stroke="#555" stroke-width="0.6"/>
<text x="210.60" y="401.10" font-size="4.4" text-anchor="start" fill="#000" stroke="#222" stroke-width="0.16">2.45</text>
<text x="271.10" y="401.10" font-size="4.4" text-anchor="end" fill="#000" stroke="#222" stroke-width="0.16">0.15</text>
<text x="210.60" y="462.20" font-size="4.4" text-anchor="start" fill="#000" stroke="#222" stroke-width="0.16">64.19</text>
<text x="271.10" y="462.20" font-size="4.4" text-anchor="end" fill="#000" stroke="#222" stroke-width="0.16">33.21</text>
<text x="213.60" y="474.40" font-size="3.2" text-anchor="middle" fill="#555">10<tspan font-size="2.3" dy="-1.4">1</tspan></text>
<text x="226.45" y="474.40" font-size="3.2" text-anchor="middle" fill="#555">10<tspan font-size="2.3" dy="-1.4">2</tspan></text>
<text x="239.30" y="474.40" font-size="3.2" text-anchor="middle" fill="#555">10<tspan font-size="2.3" dy="-1.4">3</tspan></text>
<text x="252.15" y="474.40" font-size="3.2" text-anchor="middle" fill="#555">10<tspan font-size="2.3" dy="-1.4">4</tspan></text>
<text x="265.00" y="474.40" font-size="3.2" text-anchor="middle" fill="#555">10<tspan font-size="2.3" dy="-1.4">5</tspan></text>
<path d="M213.6 466.2v1M226.4 466.2v1M239.3 466.2v1M252.2 466.2v1M265.0 466.2v1" stroke="#666" stroke-width="0.4"/>
<path d="M204.4 400.9h1M204.4 415.3h1M204.4 429.7h1M204.4 444.1h1M204.4 458.5h1" stroke="#666" stroke-width="0.4"/>
<rect x="288.00" y="393.70" width="71.60" height="73.00" fill="none" stroke="#333" stroke-width="0.9"/>
<path d="M320.20 393.70V466.70M288.00 431.20H359.60" stroke="#555" stroke-width="0.6"/>
<text x="293.20" y="400.60" font-size="4.4" text-anchor="start" fill="#000" stroke="#222" stroke-width="0.16">5.06</text>
<text x="355.10" y="400.60" font-size="4.4" text-anchor="end" fill="#000" stroke="#222" stroke-width="0.16">4.60</text>
<text x="293.20" y="462.70" font-size="4.4" text-anchor="start" fill="#000" stroke="#222" stroke-width="0.16">0.41</text>
<text x="355.10" y="462.70" font-size="4.4" text-anchor="end" fill="#000" stroke="#222" stroke-width="0.16">94.9</text>
<text x="296.20" y="474.90" font-size="3.2" text-anchor="middle" fill="#555">10<tspan font-size="2.3" dy="-1.4">1</tspan></text>
<text x="309.40" y="474.90" font-size="3.2" text-anchor="middle" fill="#555">10<tspan font-size="2.3" dy="-1.4">2</tspan></text>
<text x="322.60" y="474.90" font-size="3.2" text-anchor="middle" fill="#555">10<tspan font-size="2.3" dy="-1.4">3</tspan></text>
<text x="335.80" y="474.90" font-size="3.2" text-anchor="middle" fill="#555">10<tspan font-size="2.3" dy="-1.4">4</tspan></text>
<text x="349.00" y="474.90" font-size="3.2" text-anchor="middle" fill="#555">10<tspan font-size="2.3" dy="-1.4">5</tspan></text>
<path d="M296.2 466.7v1M309.4 466.7v1M322.6 466.7v1M335.8 466.7v1M349.0 466.7v1" stroke="#666" stroke-width="0.4"/>
<path d="M287.0 400.4h1M287.0 415.0h1M287.0 429.7h1M287.0 444.4h1M287.0 459.0h1" stroke="#666" stroke-width="0.4"/>
<text x="281.70" y="401.40" font-size="3.2" text-anchor="middle" fill="#555">10<tspan font-size="2.3" dy="-1.4">5</tspan></text>
<text x="281.70" y="416.05" font-size="3.2" text-anchor="middle" fill="#555">10<tspan font-size="2.3" dy="-1.4">4</tspan></text>
<text x="281.70" y="430.70" font-size="3.2" text-anchor="middle" fill="#555">10<tspan font-size="2.3" dy="-1.4">3</tspan></text>
<text x="281.70" y="445.35" font-size="3.2" text-anchor="middle" fill="#555">10<tspan font-size="2.3" dy="-1.4">2</tspan></text>
<text x="281.70" y="460.00" font-size="3.2" text-anchor="middle" fill="#555">10<tspan font-size="2.3" dy="-1.4">1</tspan></text>
<path d="M227.5 227.6H253" stroke="#888" stroke-width="1.2"/>
<text x="293.30" y="238.90" font-size="4.4" text-anchor="start" fill="#000" stroke="#222" stroke-width="0.22">3</text>
<path d="M197.7 480.2V447M197.7 480.2H234.5" stroke="#111" stroke-width="1.5" fill="none"/>
<path d="M197.7 443.2L201.2 449.6L197.7 448.4L194.2 449.6Z" fill="#111" stroke="#111" stroke-width="0.4" stroke-linejoin="round"/>
<path d="M238.8 480.2L232.4 483.7L233.6 480.2L232.4 476.7Z" fill="#111" stroke="#111" stroke-width="0.4" stroke-linejoin="round"/>
<text transform="translate(193.2 464) rotate(-90)" font-size="8.6" text-anchor="middle" stroke="#000" stroke-width="0.22">CCR7</text>
<text x="212.60" y="491.40" font-size="8.6" text-anchor="middle" fill="#000"  stroke="#000" stroke-width="0.172">Ki-67</text>
<g filter="url(#soft)">
<path d="M441.3 360.8h0M422.7 343.8h0M418.3 355.0h0M435.1 350.2h0M437.0 369.3h0M423.3 342.3h0M433.3 373.9h0M420.4 340.4h0M416.2 354.7h0M437.2 360.6h0M419.6 373.9h0M422.5 342.5h0M437.4 359.2h0M420.7 347.1h0M417.2 356.7h0M420.7 343.2h0M414.2 370.3h0M422.6 377.1h0M434.7 349.1h0M424.3 340.6h0M422.0 376.5h0M425.3 339.2h0M419.1 352.4h0M416.6 361.3h0M438.3 361.5h0M417.3 341.6h0M421.2 376.5h0M438.6 350.7h0M423.3 334.8h0M436.5 360.5h0M435.6 370.0h0M419.7 371.8h0M435.9 374.8h0M436.4 351.1h0M423.8 340.3h0M420.9 375.3h0M422.3 340.4h0M419.4 377.8h0M437.8 373.2h0M437.5 363.5h0M420.3 374.8h0M419.3 344.1h0M437.0 353.0h0M418.1 352.6h0M417.8 355.8h0M418.2 362.0h0M418.5 351.8h0M418.2 360.9h0M421.4 336.2h0M416.8 370.0h0M417.8 361.2h0M436.1 360.5h0M433.9 344.1h0M431.0 341.2h0M418.9 349.0h0M434.3 342.0h0M426.3 339.9h0M436.0 354.9h0M438.7 360.2h0M417.9 373.6h0M436.3 356.5h0M419.0 340.9h0M421.5 341.4h0M419.2 352.3h0M416.7 352.9h0M431.1 335.1h0M437.3 358.0h0M419.0 343.1h0M435.0 350.0h0M419.6 372.2h0M436.3 371.7h0M419.4 350.4h0M431.2 338.3h0M422.6 377.7h0M432.0 376.1h0M418.6 349.6h0M418.7 352.5h0M432.0 342.9h0M437.0 358.3h0M428.6 340.0h0M435.2 335.3h0M415.7 353.8h0M417.5 366.9h0M416.1 373.2h0M435.6 372.8h0M422.1 377.1h0M438.0 356.9h0M423.6 341.5h0M423.4 339.7h0M418.6 366.7h0M423.3 349.1h0M424.1 345.9h0M431.2 340.0h0M426.6 332.3h0M433.6 321.9h0M425.7 345.4h0M427.3 331.1h0M423.0 344.5h0M425.2 332.8h0M423.3 337.5h0M437.0 321.2h0M436.4 323.3h0M432.1 341.2h0M423.0 335.0h0M427.1 331.2h0M427.2 344.1h0M424.5 346.2h0M435.5 330.7h0M422.2 346.0h0M424.2 345.4h0M436.3 322.6h0M437.9 319.2h0M430.6 324.8h0M436.6 327.3h0M426.1 345.1h0M429.3 327.7h0M422.9 340.8h0M422.3 343.5h0M432.7 339.0h0M426.6 339.0h0M423.0 344.1h0M422.8 341.0h0M422.3 344.2h0M421.9 344.3h0M427.8 340.5h0M427.4 347.1h0M428.4 342.8h0M427.9 346.1h0M419.7 331.9h0M417.4 339.2h0M414.4 332.5h0M417.5 339.8h0M425.5 340.3h0M419.3 332.4h0M425.5 340.8h0M414.2 337.5h0M415.9 339.8h0M418.7 340.1h0M415.1 333.9h0M413.7 336.0h0M416.0 340.0h0M418.4 341.2h0M422.5 331.8h0M423.9 334.0h0M420.5 329.4h0M428.3 336.7h0M425.2 339.7h0M413.2 335.3h0M416.6 332.8h0M425.2 338.0h0M424.1 333.9h0M426.5 334.1h0M414.8 334.8h0M424.8 333.0h0M424.5 338.7h0M412.8 336.0h0M419.9 332.3h0M416.4 338.1h0M421.9 376.4h0M410.2 343.9h0M400.5 355.9h0M409.6 368.6h0M426.3 360.7h0M414.8 331.9h0M407.9 352.7h0M405.3 355.6h0M401.4 355.8h0M422.8 335.4h0M426.3 376.2h0M438.2 354.0h0M431.3 362.3h0M406.2 366.8h0M408.2 342.1h0" stroke="#9aa0ea" stroke-width="1.00" stroke-linecap="round" opacity="1.0"/>
<path d="M420.6 355.0h0M433.4 345.9h0M419.3 365.6h0M419.8 358.4h0M434.2 368.7h0M434.3 367.1h0M434.2 357.0h0M433.1 346.2h0M426.4 344.2h0M433.8 369.4h0M423.5 344.9h0M434.6 358.8h0M435.5 355.6h0M427.1 343.6h0M422.3 374.8h0M427.9 342.4h0M419.5 365.3h0M420.3 357.6h0M435.2 355.1h0M431.0 346.0h0M429.0 375.2h0M428.3 375.9h0M426.4 377.8h0M424.8 374.4h0M432.2 347.8h0M433.3 345.6h0M426.5 343.5h0M433.7 353.9h0M427.3 376.3h0M433.7 366.3h0M430.3 375.8h0M424.3 377.9h0M426.7 341.6h0M421.3 350.0h0M433.3 348.3h0M419.1 357.5h0M432.7 347.7h0M419.3 360.9h0M434.0 352.3h0M433.6 370.4h0M424.6 345.3h0M419.8 361.2h0M433.7 365.1h0M421.3 368.8h0M435.4 360.3h0M428.9 343.0h0M424.5 344.3h0M423.0 374.5h0M419.3 360.8h0M421.8 346.9h0M435.4 354.1h0M424.8 376.7h0M421.9 374.6h0M434.3 353.2h0M435.5 359.0h0M425.1 345.4h0M428.4 376.0h0M419.7 370.4h0M434.3 355.4h0M432.6 370.0h0M423.2 343.8h0M426.7 344.9h0M420.1 362.9h0M434.8 367.2h0M434.8 365.0h0M435.0 363.3h0M420.2 358.5h0M434.4 348.7h0M433.0 345.6h0M420.3 351.6h0M426.2 344.5h0M433.8 371.8h0M434.7 367.9h0M435.8 357.1h0M422.6 374.7h0M430.7 375.4h0M419.7 362.3h0M425.7 375.5h0M419.4 356.5h0M422.6 375.8h0M428.2 344.0h0M430.1 376.5h0M422.1 371.5h0M421.2 351.7h0M425.4 374.8h0M424.3 344.2h0M434.2 353.1h0M421.6 351.1h0M427.6 376.7h0M431.1 345.9h0M431.1 342.9h0M419.6 365.6h0M420.1 362.6h0M420.5 354.5h0M429.5 342.5h0M436.0 360.4h0M433.1 373.1h0M429.2 377.1h0M435.7 362.8h0M426.2 343.2h0M434.5 357.2h0M435.4 357.9h0M434.2 361.9h0M424.9 342.8h0M432.6 369.9h0M434.2 348.6h0M435.2 360.8h0M427.9 375.5h0M421.5 371.1h0M428.8 377.4h0M433.4 372.0h0M421.2 347.9h0M421.1 351.2h0M426.5 375.6h0M435.2 354.5h0M434.5 366.3h0M419.8 357.3h0M421.2 371.1h0M429.0 377.6h0M425.9 343.8h0M423.4 377.0h0M420.4 372.8h0M423.8 345.5h0M424.3 346.0h0M435.1 363.3h0M432.6 372.7h0M420.4 365.8h0M431.7 343.5h0M429.8 344.3h0M427.2 375.2h0M420.9 370.3h0M431.5 371.9h0M432.9 350.2h0M433.0 349.2h0M434.5 349.3h0M420.0 351.6h0M432.9 345.6h0M428.0 344.7h0M435.1 357.1h0M429.9 342.8h0M428.7 344.4h0M423.8 374.8h0M426.7 376.8h0M423.5 344.6h0M435.5 361.2h0M434.4 363.8h0M433.8 367.1h0M433.7 370.0h0M435.1 359.9h0M431.6 372.7h0M428.6 376.0h0M428.2 375.0h0M435.4 360.6h0M433.9 368.1h0M434.0 349.2h0M434.0 355.8h0M435.1 354.4h0M434.4 367.1h0M419.2 353.9h0M421.4 345.9h0M430.2 343.9h0M420.1 362.0h0M426.3 343.8h0M429.6 342.1h0M420.4 352.4h0M427.6 377.0h0M420.2 355.9h0M422.0 372.3h0M420.6 349.2h0M433.5 326.6h0M435.1 330.5h0M434.6 325.5h0M432.7 326.1h0M431.0 339.0h0M424.2 338.9h0M434.6 330.9h0M424.7 341.5h0M424.3 341.5h0M432.4 327.1h0M431.9 337.5h0M435.1 329.1h0M434.7 330.8h0M433.7 332.6h0M429.9 329.1h0M428.5 341.7h0M428.1 330.7h0M425.0 344.7h0M432.1 336.7h0M432.4 336.6h0M428.0 341.6h0M424.8 341.4h0M432.3 325.6h0M432.5 336.2h0M434.8 331.4h0M433.4 333.5h0M434.4 330.5h0M429.9 329.2h0M430.4 339.7h0M432.9 335.6h0M434.1 327.2h0M431.3 338.9h0M427.1 342.7h0M432.4 327.4h0M425.0 339.4h0M424.6 346.3h0M423.8 345.5h0M425.4 346.8h0M427.2 345.4h0M425.0 339.7h0M425.5 346.8h0M423.1 344.6h0M425.6 346.7h0M420.1 334.8h0M420.8 332.9h0M423.7 334.7h0M417.1 333.2h0M419.7 333.4h0M422.5 336.4h0M422.3 336.7h0M417.6 336.3h0M415.7 336.4h0M420.0 335.3h0M424.2 336.9h0M418.8 338.0h0M418.6 337.9h0M419.7 338.0h0M421.7 338.3h0M418.2 335.0h0M418.6 338.6h0M418.5 336.8h0M420.8 336.0h0M422.0 337.6h0M418.5 335.5h0M421.2 338.1h0M420.8 337.0h0M418.8 336.2h0M424.3 335.9h0M421.4 338.1h0M419.2 336.5h0M421.0 335.0h0M423.1 338.7h0M416.9 336.1h0M419.2 336.3h0M416.4 334.1h0M419.9 332.7h0M421.0 336.1h0M419.2 336.2h0M418.3 333.5h0M416.3 335.3h0M417.0 337.6h0M421.2 339.3h0M419.2 334.9h0" stroke="#5060e4" stroke-width="1.00" stroke-linecap="round" opacity="1.0"/>
<path d="M421.5 353.5h0M421.7 356.7h0M428.7 371.7h0M420.7 364.4h0M433.1 360.1h0M420.7 360.4h0M432.5 351.5h0M421.3 368.3h0M432.9 359.9h0M429.2 347.5h0M426.4 346.8h0M429.5 373.5h0M422.8 371.5h0M421.0 363.6h0M429.7 346.5h0M421.8 357.4h0M423.3 352.2h0M433.0 365.5h0M424.7 370.3h0M425.2 348.3h0M428.4 372.1h0M425.3 348.7h0M432.3 354.3h0M421.6 359.9h0M432.2 355.9h0M428.9 345.4h0M433.3 365.6h0M423.7 372.3h0M428.9 373.3h0M433.0 360.8h0M429.5 370.3h0M422.1 367.6h0M426.4 346.6h0M422.3 352.2h0M425.3 349.6h0M432.2 363.1h0M421.6 364.9h0M433.4 356.4h0M432.9 356.4h0M424.2 347.1h0M430.9 350.4h0M432.8 359.4h0M432.2 367.6h0M426.2 346.1h0M433.2 354.8h0M424.4 347.0h0M425.4 372.7h0M426.1 372.0h0M422.8 354.3h0M420.8 363.3h0M422.2 368.6h0M427.7 346.1h0M432.4 350.8h0M432.5 354.3h0M432.8 353.2h0M433.8 356.5h0M428.5 347.8h0M430.6 371.2h0M433.2 363.9h0M423.4 351.8h0M420.7 358.9h0M423.1 369.7h0M432.5 361.3h0M424.8 373.0h0M432.9 364.1h0M431.6 367.2h0M432.0 350.3h0M425.8 372.8h0M422.1 364.5h0M429.9 348.2h0M423.2 349.7h0M431.2 351.2h0M420.5 359.8h0M422.7 370.8h0M432.9 366.6h0M429.4 345.6h0M423.7 369.9h0M429.2 372.3h0M433.1 354.5h0M424.4 373.0h0M421.8 365.1h0M428.8 371.6h0M424.4 370.1h0M430.1 371.2h0M429.0 345.8h0M429.8 349.5h0M423.0 349.1h0M432.8 367.7h0M424.7 370.8h0M421.3 365.8h0M432.4 365.9h0M430.4 369.0h0M420.6 358.3h0M421.6 361.6h0M421.6 368.3h0M421.7 354.7h0M421.1 356.4h0M424.8 348.8h0M420.8 365.5h0M420.9 354.2h0M433.0 355.1h0M425.1 348.7h0M420.7 358.1h0M422.6 369.5h0M421.6 368.4h0M430.2 371.9h0M427.0 374.0h0M431.8 367.8h0M432.8 360.6h0M432.4 357.7h0M432.1 351.7h0M425.8 347.5h0M430.1 371.9h0M424.8 372.6h0M433.0 360.4h0M428.5 346.3h0M420.6 361.9h0M429.0 347.9h0M423.2 371.3h0M422.0 353.2h0M422.4 350.8h0M427.3 372.6h0M432.6 365.9h0M423.2 367.9h0M422.4 351.7h0M431.9 352.1h0M428.4 347.3h0M422.2 353.1h0M425.7 348.2h0M423.8 349.9h0M421.1 360.8h0M428.7 347.9h0M421.2 353.1h0M423.7 349.0h0M422.4 366.9h0M430.2 372.5h0M431.7 368.5h0M428.9 347.1h0M420.9 357.9h0M421.3 357.3h0M432.4 357.8h0M426.5 348.5h0M420.8 354.7h0M421.0 363.7h0M420.9 356.2h0M433.8 355.4h0M422.7 370.5h0M430.6 370.6h0M423.9 369.8h0M421.7 361.8h0M424.4 349.7h0M421.5 353.1h0M422.8 368.7h0M422.8 351.8h0M425.7 348.9h0M433.7 357.9h0M430.1 370.9h0M423.9 371.9h0M432.6 357.5h0M422.3 352.8h0M420.9 356.7h0M428.7 346.7h0M429.7 370.2h0M422.9 369.2h0M421.1 363.2h0M431.9 352.2h0M421.6 360.0h0M431.1 367.4h0M424.3 348.2h0M422.2 369.4h0M421.6 364.7h0M425.1 371.0h0M431.2 370.1h0M430.4 346.7h0M423.4 371.9h0M426.4 374.4h0M421.9 354.7h0M426.1 371.5h0M423.2 349.0h0M432.6 361.9h0M421.9 360.9h0M422.4 368.5h0M421.6 364.4h0M426.0 374.6h0M430.0 346.3h0M428.6 372.5h0M422.5 355.0h0M427.2 372.8h0M420.6 364.3h0M422.9 349.2h0M421.8 359.0h0M433.0 353.7h0M429.7 346.0h0M430.3 349.8h0M423.7 370.0h0M423.0 353.1h0M432.6 363.7h0M429.1 345.4h0M431.9 349.6h0M424.1 349.9h0M423.9 372.6h0M428.3 348.0h0M429.5 370.1h0M422.0 354.3h0M424.1 371.4h0M432.8 363.0h0M432.4 353.8h0M431.1 368.3h0M421.7 368.3h0M422.6 371.7h0M433.0 356.9h0M431.1 347.8h0M424.2 370.9h0M422.1 363.7h0M426.0 348.9h0M432.5 359.4h0M424.8 349.6h0M425.3 349.3h0M433.7 362.5h0M421.8 362.0h0M431.6 351.6h0M421.8 361.0h0M427.3 345.8h0M430.0 348.6h0M433.0 355.8h0M432.9 358.6h0M432.9 363.7h0M433.1 355.0h0M421.2 362.5h0M433.0 355.2h0M429.4 372.8h0M434.0 361.7h0M422.0 352.1h0M427.2 346.8h0M424.2 347.4h0M431.1 367.4h0M423.9 372.2h0M420.8 361.9h0M432.8 351.5h0M433.2 353.7h0M421.3 354.8h0M427.2 348.5h0M423.0 367.2h0M424.5 350.0h0M429.3 345.7h0M426.7 372.3h0M431.3 348.8h0M431.8 354.1h0M422.0 362.7h0M432.6 356.3h0M429.2 348.8h0M430.4 371.5h0M425.1 346.2h0M429.5 347.1h0M425.7 373.4h0M424.8 349.9h0M421.2 353.8h0M421.5 353.8h0M422.6 353.8h0M431.3 369.2h0M429.2 371.2h0M425.5 347.1h0M430.1 370.5h0M421.8 368.5h0M423.6 371.0h0M432.6 358.4h0M429.7 349.2h0M433.2 353.3h0M422.5 367.6h0M426.7 348.4h0M432.4 333.9h0M430.8 336.9h0M426.3 337.1h0M427.1 335.5h0M427.0 341.9h0M433.5 328.4h0M433.5 330.6h0M430.2 330.4h0M432.9 328.1h0M426.7 340.3h0M429.3 338.6h0M426.2 339.2h0M428.1 333.5h0M433.1 330.8h0M433.9 330.4h0M428.1 340.6h0M428.6 333.1h0M432.2 333.6h0M430.9 337.4h0M425.8 340.4h0M428.3 331.8h0M426.2 336.8h0M433.2 328.4h0M429.8 330.7h0M425.9 340.9h0M427.8 333.8h0M427.7 334.2h0M433.2 328.6h0M432.9 330.6h0M434.0 330.4h0M429.3 338.5h0M426.7 336.9h0M426.5 336.2h0M426.0 339.3h0M426.9 340.4h0M432.9 327.9h0M432.3 329.6h0M433.4 327.7h0M430.1 330.7h0M432.5 329.6h0M434.2 328.7h0M429.0 339.9h0M427.6 341.4h0M427.6 340.1h0M432.5 332.6h0M427.2 334.6h0M428.1 333.0h0M434.0 330.5h0M428.5 332.3h0M430.5 337.0h0M433.1 330.3h0M427.4 334.0h0M426.8 334.6h0M429.4 331.8h0M426.7 340.6h0M426.1 339.3h0M430.0 338.3h0M430.4 329.7h0M425.3 342.0h0M429.6 338.2h0M426.1 341.7h0M428.2 333.7h0M430.5 329.4h0M428.7 331.1h0M431.1 329.7h0M433.4 329.6h0M427.1 340.5h0M429.2 331.6h0M432.7 328.3h0M432.6 328.8h0M426.3 341.3h0M428.7 339.6h0M433.2 331.2h0M428.9 331.1h0M432.9 328.6h0M426.7 341.3h0M431.3 335.7h0M429.5 330.7h0M426.1 341.6h0M433.2 332.2h0M426.6 339.7h0M434.0 328.2h0M429.6 331.6h0M430.9 336.3h0M432.2 333.6h0M426.2 340.4h0M428.3 333.1h0M426.1 336.1h0M425.1 340.0h0M425.8 340.6h0M425.8 345.3h0M423.9 342.7h0M427.1 343.9h0M427.2 344.0h0M425.4 345.4h0M424.2 344.4h0M426.2 340.7h0M426.5 345.1h0M426.8 341.2h0" stroke="#2a44ea" stroke-width="1.00" stroke-linecap="round" opacity="1.0"/>
<path d="M424.4 358.6h0M429.1 367.3h0M428.5 354.0h0M428.2 369.9h0M428.6 367.2h0M424.4 364.3h0M431.3 362.8h0M425.7 351.4h0M426.6 349.5h0M431.8 362.1h0M430.5 356.9h0M430.8 358.1h0M430.4 368.3h0M427.9 366.2h0M423.4 366.2h0M431.5 355.5h0M428.6 354.4h0M430.0 361.5h0M429.8 356.1h0M424.4 357.6h0M426.0 369.9h0M430.1 356.3h0M431.1 361.3h0M431.2 355.0h0M424.5 356.1h0M426.5 369.6h0M425.9 368.6h0M431.7 363.6h0M432.0 363.1h0M431.2 353.9h0M427.5 370.2h0M430.1 358.2h0M430.4 357.8h0M423.3 358.4h0M424.9 352.0h0M426.9 369.7h0M425.2 351.2h0M431.1 361.0h0M422.5 362.0h0M430.5 359.3h0M423.7 364.0h0M431.4 356.9h0M429.7 365.1h0M425.7 352.1h0M432.2 358.7h0M428.1 368.7h0M423.2 358.0h0M430.6 356.5h0M423.2 362.5h0M427.0 366.5h0M428.4 367.3h0M424.2 367.5h0M431.8 361.1h0M427.7 370.7h0M423.8 353.4h0M431.3 362.4h0M423.3 354.9h0M425.4 353.2h0M425.6 366.0h0M425.9 352.0h0M431.3 360.9h0M428.7 367.4h0M423.9 363.4h0M430.1 361.1h0M426.6 351.5h0M424.9 366.4h0M429.1 364.9h0M431.3 362.5h0M428.9 368.1h0M422.7 360.6h0M429.2 368.9h0M425.7 353.5h0M425.1 367.2h0M429.1 364.5h0M430.6 363.9h0M431.0 354.0h0M428.0 367.8h0M423.3 354.5h0M427.9 349.9h0M427.5 349.3h0M426.0 352.9h0M426.5 353.8h0M425.5 355.2h0M424.0 369.2h0M428.1 366.7h0M422.1 361.6h0M422.2 361.3h0M423.1 360.4h0M424.3 357.7h0M431.6 360.4h0M426.3 368.2h0M423.1 366.4h0M431.2 365.8h0M428.2 367.5h0M424.0 359.7h0M427.6 370.4h0M427.6 369.9h0M428.9 354.2h0M423.0 358.3h0M423.0 362.9h0M422.7 361.8h0M424.3 361.6h0M429.3 367.3h0M429.8 356.9h0M424.0 361.8h0M425.9 367.8h0M425.6 354.4h0M428.6 370.5h0M423.8 365.4h0M424.2 354.7h0M430.2 358.6h0M430.3 363.3h0M423.7 360.0h0M426.0 353.9h0M430.7 356.1h0M427.8 350.7h0M427.3 353.5h0M426.9 367.0h0M428.5 351.6h0M431.7 362.2h0M425.3 352.2h0M424.4 364.9h0M425.6 351.7h0M428.8 354.7h0M426.5 352.3h0M422.6 355.0h0M425.0 367.4h0M428.5 353.7h0M425.8 351.4h0M424.8 366.5h0M426.2 367.6h0M423.9 364.7h0M430.3 354.1h0M428.7 353.8h0M430.9 364.8h0M430.8 354.2h0M426.3 350.1h0M425.3 366.0h0M428.7 366.5h0M427.5 369.1h0M427.5 368.2h0M429.0 366.3h0M427.1 349.5h0M424.5 357.0h0M425.2 366.9h0M422.5 363.3h0M430.4 364.3h0M423.1 362.6h0M431.4 361.9h0M430.6 353.0h0M429.8 355.9h0M426.7 350.9h0M431.6 361.6h0M423.8 363.4h0M429.1 370.4h0M427.9 366.5h0M432.0 358.7h0M426.6 369.6h0M424.3 362.1h0M432.0 357.8h0M431.9 358.1h0M430.1 359.2h0M430.6 357.6h0M422.7 360.2h0M427.1 369.6h0M424.4 356.8h0M426.2 368.5h0M430.3 356.6h0M422.4 361.9h0M428.1 350.2h0M424.0 353.2h0M430.9 364.0h0M427.4 369.0h0M428.9 351.9h0M425.8 352.0h0M423.9 353.7h0M423.9 362.3h0M422.8 362.2h0M431.6 353.5h0M426.0 368.9h0M430.1 358.2h0M426.3 368.3h0M422.6 360.2h0M424.8 363.8h0M428.2 351.1h0M429.7 365.0h0M423.7 353.7h0M423.8 352.7h0M426.0 367.2h0M423.3 355.0h0M431.2 355.3h0M424.2 364.8h0M423.5 365.5h0M431.6 355.7h0M428.6 352.3h0M426.8 350.4h0M424.2 357.7h0M430.8 362.2h0M425.7 367.0h0M424.0 356.4h0M425.6 353.9h0M429.5 369.5h0M429.0 368.5h0M427.8 349.9h0M430.7 357.5h0M431.1 359.4h0M423.3 356.1h0M422.7 357.8h0M430.9 362.1h0M428.6 369.0h0M427.6 366.9h0M429.0 370.0h0M431.2 354.9h0M423.0 359.7h0M423.9 364.4h0M426.0 366.3h0M422.9 361.4h0M430.1 359.6h0M430.1 359.0h0M423.7 354.7h0M424.1 365.4h0M424.0 367.4h0M430.1 355.8h0M431.4 354.7h0M426.0 349.8h0M430.4 360.4h0M429.7 369.3h0M422.2 359.6h0M428.8 351.9h0M430.1 362.0h0M428.3 351.4h0M429.8 352.9h0M424.7 365.7h0M427.2 348.7h0M430.6 354.4h0M422.9 361.0h0M427.2 368.5h0M429.9 357.7h0M430.5 362.0h0M430.7 359.0h0M429.3 368.0h0M424.0 360.3h0M432.0 361.9h0M426.2 369.1h0M425.6 352.2h0M427.7 349.8h0M431.5 364.0h0M425.9 368.7h0M431.5 356.5h0M427.7 366.3h0M430.4 363.6h0M423.0 364.7h0M428.1 366.9h0M426.0 370.9h0M428.0 366.4h0M429.9 368.6h0M427.3 353.2h0M424.3 358.6h0M424.6 351.5h0M430.2 360.9h0M430.5 367.3h0M430.5 352.9h0M424.9 353.8h0M426.1 353.5h0M424.4 363.9h0M430.7 359.8h0M430.1 358.9h0M431.7 355.1h0M431.4 364.7h0M430.6 356.9h0M427.1 368.3h0M422.8 357.4h0M427.3 349.3h0M425.4 366.0h0M429.2 354.1h0M424.2 361.8h0M428.3 367.9h0M429.6 356.1h0M429.9 361.8h0M430.7 360.4h0M425.1 351.7h0M432.3 359.3h0M425.2 355.5h0M432.3 361.0h0M425.1 366.4h0M423.4 359.9h0M430.7 366.8h0M424.1 356.0h0M423.7 360.4h0M428.1 369.5h0M423.3 366.8h0M427.2 352.3h0M424.2 360.5h0M429.5 356.1h0M431.5 357.7h0M429.8 353.6h0M429.1 354.1h0M423.8 360.9h0M425.8 354.0h0M429.8 350.7h0M428.4 368.5h0M430.3 363.6h0M426.0 349.1h0M431.2 352.6h0M424.5 369.7h0M423.6 353.0h0M430.1 367.9h0M430.0 355.2h0M426.7 369.5h0M431.4 355.9h0M426.4 369.8h0M426.6 352.6h0M430.0 351.2h0M430.1 361.3h0M432.1 362.7h0M430.5 353.7h0M429.3 365.9h0M427.7 368.2h0M432.0 361.6h0M428.5 354.2h0M425.0 369.0h0M422.9 358.2h0M428.5 350.2h0M424.1 361.2h0M424.2 354.5h0M423.7 357.9h0M428.2 352.3h0M431.5 355.3h0M429.5 350.7h0M425.8 352.0h0M424.3 361.6h0M432.3 359.1h0M427.3 368.8h0M424.4 364.9h0M427.0 350.4h0M422.9 355.0h0M426.2 349.7h0M422.6 357.4h0M430.2 358.4h0M429.7 368.5h0M430.3 356.4h0M424.4 364.0h0M423.1 356.7h0M429.4 365.0h0M424.3 359.2h0M430.3 359.1h0M430.7 359.5h0M427.8 369.7h0M424.2 353.9h0M424.6 354.7h0M428.5 368.5h0M427.7 370.2h0M430.4 363.2h0M424.1 354.5h0M428.3 366.2h0M422.5 362.7h0M423.2 355.4h0M431.8 358.1h0M430.4 354.4h0M429.5 368.1h0M431.5 359.1h0M424.0 351.3h0M426.8 367.3h0M423.9 367.1h0M427.0 367.0h0M429.0 354.6h0M431.8 356.1h0M430.8 357.7h0M424.4 358.1h0M428.2 353.0h0M425.7 367.6h0M425.0 365.5h0M423.7 362.2h0M423.6 358.9h0M423.9 358.6h0M427.5 369.7h0M428.8 369.0h0M425.5 353.7h0M430.0 366.7h0M431.6 364.4h0M426.7 351.1h0M430.8 359.6h0M429.1 366.7h0M430.6 354.4h0M428.8 370.6h0M423.4 362.9h0M427.9 369.6h0M424.5 366.8h0M429.4 368.0h0M425.0 364.2h0M429.4 370.2h0M430.0 367.7h0M423.0 363.9h0M428.6 353.7h0M430.5 366.8h0M427.5 366.4h0M424.0 351.5h0M429.6 367.9h0M431.4 365.2h0M431.2 363.5h0M423.3 353.3h0M425.5 365.9h0M430.5 358.4h0M431.9 362.8h0M431.0 367.3h0M430.8 355.9h0M431.2 362.0h0M422.5 356.7h0M430.1 350.8h0M430.1 359.7h0M430.1 367.9h0M424.5 369.1h0M431.3 355.9h0M429.9 355.0h0M424.0 362.0h0M425.6 367.8h0M426.1 369.8h0M430.3 365.5h0M425.4 352.2h0M429.9 366.9h0M430.7 360.2h0M429.2 367.0h0M424.0 354.0h0M427.0 368.4h0M426.6 369.7h0M427.6 369.5h0M426.1 349.0h0M430.1 354.9h0M432.2 361.8h0M425.9 366.1h0M422.8 365.5h0M423.9 361.9h0M426.5 352.5h0M428.1 352.3h0M428.2 368.4h0M426.4 350.9h0M423.8 360.9h0M426.5 368.7h0M430.3 359.0h0M427.5 349.4h0M430.6 359.9h0M427.9 368.2h0M424.4 358.3h0M429.3 353.4h0M428.0 352.0h0M428.5 370.4h0M430.8 357.8h0M430.2 352.9h0M424.5 352.1h0M425.8 353.7h0M425.3 369.4h0M429.3 353.7h0M424.4 367.7h0M429.5 353.1h0M425.8 354.1h0M429.6 365.0h0M425.1 366.5h0M429.7 365.6h0M430.0 358.0h0M425.6 349.6h0M424.8 356.5h0M423.0 360.4h0M423.6 357.8h0M429.0 336.5h0M427.3 338.5h0M427.5 336.0h0M430.6 333.4h0M427.9 338.1h0M430.2 334.3h0M430.2 335.5h0M428.3 336.7h0M429.4 334.5h0M430.9 335.0h0M430.3 331.6h0M429.6 335.4h0M430.6 331.5h0M430.5 333.4h0M431.3 332.9h0M431.2 330.6h0M429.7 334.4h0M427.0 338.1h0M428.6 336.1h0M427.6 335.6h0M428.8 337.1h0M429.5 334.5h0M429.8 332.3h0M428.4 335.0h0M430.3 332.6h0M428.7 334.3h0M430.9 332.1h0M428.7 334.9h0M429.2 336.3h0M430.9 334.7h0M429.4 334.7h0M430.9 333.8h0M429.2 337.6h0M432.0 332.3h0M430.2 332.3h0M427.8 335.4h0M429.8 332.8h0M426.9 337.2h0M430.8 335.9h0M430.6 334.9h0M429.7 335.5h0M431.8 332.9h0M430.9 333.7h0M428.6 338.2h0M427.7 339.1h0M428.5 334.7h0M428.4 334.1h0M428.5 335.6h0M431.6 333.0h0M428.1 334.2h0M429.6 338.0h0M428.4 336.9h0M431.3 332.3h0M428.6 334.3h0M430.5 332.5h0M429.6 337.7h0M426.9 338.1h0M428.6 334.9h0M430.0 335.1h0M428.3 337.2h0M427.4 338.1h0M428.4 335.7h0M428.3 336.1h0M430.4 333.5h0M426.9 338.6h0M431.1 333.0h0M431.5 334.2h0M426.6 338.1h0M431.2 332.7h0M430.3 333.9h0M430.1 336.1h0M429.5 332.0h0M428.0 336.3h0M432.2 331.4h0M428.5 336.2h0M431.5 334.0h0M427.7 334.6h0M429.4 336.8h0M430.6 333.5h0M429.0 332.8h0M427.8 339.7h0M428.4 338.3h0M429.1 334.1h0M427.8 335.2h0M431.0 332.3h0M429.2 333.7h0M427.9 337.8h0M428.9 334.2h0M427.9 335.4h0M431.2 330.7h0M431.1 333.3h0M432.0 333.7h0M427.6 336.7h0M431.4 331.9h0M427.6 336.8h0M429.1 334.1h0M429.8 337.8h0M429.4 337.7h0M431.3 331.8h0M431.1 331.9h0M428.4 337.6h0M426.7 339.4h0M430.9 336.0h0M428.5 336.8h0M430.9 333.3h0M428.4 333.9h0M429.5 333.4h0M426.5 344.3h0M425.6 343.2h0M425.3 344.3h0M425.7 341.4h0M425.8 344.8h0M426.1 343.1h0M425.9 342.1h0M425.4 344.9h0M425.1 341.3h0M426.7 343.3h0M425.8 343.9h0M426.5 342.9h0M425.7 341.5h0M426.4 342.8h0M425.2 343.5h0M425.0 344.8h0M425.9 342.3h0M425.1 341.2h0M426.0 344.5h0M426.6 342.9h0M426.8 343.8h0M425.6 341.6h0M424.4 343.0h0M424.5 343.7h0M425.6 344.7h0M425.8 343.9h0M425.5 343.8h0M425.2 341.7h0M426.7 342.8h0M425.6 343.3h0M426.0 342.3h0M425.5 343.2h0M426.2 344.4h0M424.9 342.8h0M426.2 343.5h0M425.3 345.0h0M425.0 343.3h0M425.1 341.8h0M425.7 343.0h0M424.9 342.9h0M425.7 342.1h0M424.8 342.8h0M425.8 342.5h0" stroke="#1e5cf0" stroke-width="1.00" stroke-linecap="round" opacity="1.0"/>
<path d="M428.5 357.9h0M425.9 354.9h0M427.1 357.6h0M426.5 358.8h0M427.4 360.8h0M427.0 356.2h0M429.7 357.7h0M427.5 362.7h0M427.5 365.2h0M426.2 365.4h0M427.9 358.8h0M428.7 359.0h0M426.9 357.8h0M427.2 361.7h0M427.8 362.1h0M425.5 362.3h0M424.6 361.7h0M428.5 360.6h0M424.9 357.3h0M428.1 358.8h0M426.5 358.0h0M426.6 363.9h0M425.7 360.1h0M427.2 365.1h0M428.4 364.5h0M426.5 357.2h0M428.5 364.6h0M428.9 359.3h0M427.8 363.8h0M425.9 356.7h0M428.3 357.6h0M426.8 364.7h0M425.9 361.0h0M429.0 358.1h0M426.1 357.2h0M427.4 356.1h0M427.5 362.3h0M426.2 359.1h0M426.5 358.1h0M427.8 363.3h0M427.6 362.8h0M425.4 363.6h0M428.0 357.5h0M424.5 362.0h0M425.3 358.2h0M425.1 362.0h0M426.9 363.1h0M428.9 362.5h0M427.0 361.5h0M425.5 357.9h0M426.4 361.6h0M426.4 363.4h0M427.7 364.3h0M429.9 361.6h0M427.9 356.2h0M428.5 359.9h0M426.7 358.6h0M426.6 360.1h0M427.9 356.9h0M427.4 355.9h0M426.9 356.1h0M429.1 359.5h0M428.9 358.6h0M428.7 356.8h0M428.3 357.4h0M429.6 357.6h0M425.9 355.8h0M429.0 358.2h0M429.3 357.8h0M428.3 365.0h0M426.1 356.8h0M425.5 358.2h0M428.3 358.4h0M429.7 357.8h0M425.4 360.3h0M429.1 356.3h0M429.4 359.7h0M425.3 360.8h0M427.5 357.7h0M428.3 359.3h0M426.0 359.4h0M429.6 357.4h0M425.2 358.8h0M425.1 356.6h0M428.6 363.8h0M426.6 356.1h0M427.0 359.6h0M425.6 360.9h0M425.6 355.7h0M425.7 360.4h0M426.2 361.0h0M428.9 359.8h0M429.5 356.3h0M428.2 357.9h0M426.7 363.2h0M426.1 356.7h0M428.0 355.1h0M428.1 356.5h0M429.5 357.2h0M426.6 362.7h0M427.2 358.5h0M427.1 357.7h0M426.8 355.5h0M425.6 357.8h0M428.1 364.2h0M425.3 364.1h0M424.4 361.8h0M428.3 356.6h0M424.8 358.6h0M428.5 355.7h0M426.9 361.3h0M428.3 362.1h0M428.2 364.3h0M428.7 355.7h0M425.6 357.7h0M428.2 355.7h0M428.2 359.4h0M424.8 361.1h0M427.7 356.8h0M429.3 360.7h0M426.2 360.2h0M428.9 360.8h0M425.8 363.2h0M425.6 360.2h0M428.1 359.0h0M425.6 355.7h0M424.8 363.2h0M426.8 360.8h0M429.6 359.7h0M425.4 364.8h0M429.5 361.1h0M427.9 362.7h0M426.1 357.9h0M429.0 361.2h0M425.9 365.2h0M428.5 358.6h0M426.2 363.3h0M426.6 359.8h0M424.9 361.1h0M424.5 360.7h0M425.4 355.7h0M428.8 355.6h0M426.9 365.1h0M426.6 361.8h0M429.0 357.8h0M429.3 359.8h0M425.4 357.1h0M427.2 361.5h0M425.9 362.1h0M426.5 358.2h0M425.8 358.7h0M425.2 361.3h0M427.8 356.1h0M428.6 360.9h0M428.5 358.3h0M426.2 364.6h0M425.7 365.1h0M425.6 364.0h0M428.9 356.8h0M425.4 359.6h0M426.1 360.9h0M428.4 362.7h0M426.3 354.3h0M425.2 362.9h0M425.3 358.0h0M424.7 358.3h0M428.0 357.8h0M424.9 360.8h0M428.0 354.2h0M425.4 358.0h0M428.0 355.1h0M428.4 364.6h0M424.6 360.1h0M425.1 361.2h0M426.0 360.5h0M428.4 362.4h0M426.5 360.3h0M425.5 364.3h0M427.5 358.4h0M425.4 358.5h0M426.1 363.2h0M429.1 358.6h0M426.2 354.6h0M425.2 364.5h0M428.0 360.1h0M428.9 363.3h0M426.5 364.6h0M427.0 358.8h0M427.6 365.6h0M427.3 361.9h0M426.9 366.1h0M429.4 358.5h0M427.6 363.7h0M428.0 363.0h0M425.2 362.6h0M427.9 363.1h0M429.3 360.2h0M426.7 354.8h0M430.0 358.9h0M427.6 359.1h0M425.8 362.1h0M425.3 360.0h0M428.3 361.0h0M428.2 356.4h0M425.1 362.7h0M429.6 360.9h0M425.7 356.9h0M424.9 363.0h0M427.7 355.3h0M426.5 361.6h0M426.2 365.6h0M428.9 364.4h0M425.7 360.4h0M427.1 359.2h0M428.0 360.3h0M427.3 358.4h0M428.3 362.5h0M429.9 361.6h0M426.4 355.2h0M424.8 360.3h0M427.5 364.2h0M425.9 359.9h0M426.0 356.7h0M425.8 363.0h0M429.7 357.7h0M427.3 356.8h0M427.0 356.7h0M426.9 358.4h0M427.2 362.4h0M429.4 358.1h0M428.8 356.0h0M426.3 357.8h0M424.6 362.0h0M426.2 360.2h0M427.5 363.9h0M427.2 366.1h0M428.4 360.7h0M428.7 357.2h0M427.3 356.1h0M429.3 359.6h0M426.9 363.3h0M425.0 363.1h0M425.3 363.1h0M424.8 361.4h0M425.3 356.7h0M427.3 358.2h0M425.0 358.0h0M429.8 358.5h0M428.4 358.8h0M427.4 355.3h0M427.1 359.7h0M426.2 361.5h0M426.3 364.3h0M426.7 358.3h0M429.6 363.2h0M427.5 365.5h0M428.3 354.9h0M427.2 365.9h0M425.9 364.1h0M429.5 363.2h0M427.0 363.4h0M427.6 365.2h0M428.8 358.8h0M428.8 356.7h0M427.5 359.8h0M425.6 362.7h0M428.5 358.0h0M427.4 362.2h0M429.4 359.2h0M427.0 361.9h0M427.6 364.2h0M428.5 361.7h0M429.6 358.6h0M429.2 361.1h0M427.4 363.6h0M426.0 365.3h0M427.4 365.1h0M428.3 357.0h0M428.0 355.0h0M429.4 362.5h0M429.9 359.3h0M427.2 363.7h0M426.7 360.4h0M426.3 361.1h0M426.6 365.2h0M425.2 364.1h0M428.4 356.3h0M427.6 359.5h0M426.6 364.2h0" stroke="#1a80f0" stroke-width="1.00" stroke-linecap="round" opacity="1.0"/>
<ellipse cx="427" cy="357" rx="7" ry="14" fill="url(#gblob)"/>
</g>
<rect x="392.70" y="302.30" width="76.20" height="76.70" fill="none" stroke="#333" stroke-width="0.9"/>
<path d="M392.7 325.9H420.7L427.5 343.4L392.7 341.2" fill="none" stroke="#777" stroke-width="0.6"/>
<path d="M420.7 325.9L432.8 319.6L438.9 319L438.9 341.8L427.5 343.4" fill="none" stroke="#777" stroke-width="0.6"/>
<path d="M418 379V346Q418 342.7 421 342.7H433Q435.8 342.7 435.8 346V379" fill="none" stroke="#777" stroke-width="0.6"/>
<text x="397.60" y="310.90" font-size="4.9" text-anchor="start" fill="#000" stroke="#222" stroke-width="0.18">CD8</text>
<text x="397.60" y="316.90" font-size="4.9" text-anchor="start" fill="#000" stroke="#222" stroke-width="0.18">Naive</text>
<text x="397.60" y="322.30" font-size="4.9" text-anchor="start" fill="#000" stroke="#222" stroke-width="0.18">0.90</text>
<text x="447.00" y="361.80" font-size="4.9" text-anchor="start" fill="#000" stroke="#222" stroke-width="0.18">CD8</text>
<text x="447.00" y="372.80" font-size="4.9" text-anchor="start" fill="#000" stroke="#222" stroke-width="0.18">94.47</text>
<text x="445.80" y="315.80" font-size="4.9" text-anchor="middle" fill="#000" stroke="#222" stroke-width="0.18">3.91</text>
<text x="437.20" y="309.80" font-size="4.9" text-anchor="start" fill="#000" stroke="#222" stroke-width="0.18">CD8 T<tspan font-size="3.2" dy="1">CM</tspan></text>
<text x="447.00" y="367.20" font-size="4.9" text-anchor="start" fill="#000" stroke="#222" stroke-width="0.18">T<tspan font-size="3.2" dy="1">EM</tspan></text>
<text x="402.00" y="389.60" font-size="3.2" text-anchor="middle" fill="#555">10<tspan font-size="2.3" dy="-1.4">1</tspan></text>
<text x="415.80" y="389.60" font-size="3.2" text-anchor="middle" fill="#555">10<tspan font-size="2.3" dy="-1.4">2</tspan></text>
<text x="429.60" y="389.60" font-size="3.2" text-anchor="middle" fill="#555">10<tspan font-size="2.3" dy="-1.4">3</tspan></text>
<text x="444.60" y="389.60" font-size="3.2" text-anchor="middle" fill="#555">10<tspan font-size="2.3" dy="-1.4">4</tspan></text>
<text x="458.50" y="389.60" font-size="3.2" text-anchor="middle" fill="#555">10<tspan font-size="2.3" dy="-1.4">5</tspan></text>
<text transform="translate(384.0 341.5) rotate(-90)" font-size="7.4" text-anchor="middle" stroke="#000" stroke-width="0.22">CD28</text>
<text x="428.40" y="403.20" font-size="7.4" text-anchor="middle" fill="#000"  stroke="#000" stroke-width="0.148">CD95</text>
<path d="M391.6 307.0h1.1M391.6 320.6h1.1M391.6 334.2h1.1M391.6 347.8h1.1M391.6 361.4h1.1M391.6 375.0h1.1" stroke="#666" stroke-width="0.5"/>
<text x="130.60" y="508.60" font-size="11" text-anchor="start" font-weight="bold" fill="#000" >C</text>
<text x="189.30" y="505.20" font-size="6.9" text-anchor="start" fill="#000"  stroke="#000" stroke-width="0.138">CD8<tspan font-size="4" dy="-2.6">+</tspan></text>
<text x="189.30" y="512.80" font-size="6.9" text-anchor="start" fill="#000"  stroke="#000" stroke-width="0.138">T<tspan font-size="4.8" dy="1.6">EM</tspan></text>
<text x="328.00" y="505.50" font-size="6.9" text-anchor="start" fill="#000"  stroke="#000" stroke-width="0.138">CD8<tspan font-size="4" dy="-2.6">+</tspan><tspan dy="2.6"> T</tspan><tspan font-size="4.8" dy="1.6">CM</tspan></text>
<text transform="translate(137.3 553.8) rotate(-90)" font-size="6.05" text-anchor="middle" stroke="#000" stroke-width="0.1">Fold change  in absolute count</text>
<text transform="translate(143.2 552) rotate(-90)" font-size="4.1" text-anchor="middle" stroke="#000" stroke-width="0.12">Log<tspan font-size="2.6" dy="1">10</tspan><tspan dy="-1"> Scale</tspan></text>
<path d="M157.5 611H385" stroke="#111" stroke-width="1.1"/>
<path d="M383.6 609.2L388.4 611L383.6 612.8Z" fill="#111"/>
<text x="275.40" y="619.60" font-size="7.6" text-anchor="middle" fill="#000"  stroke="#000" stroke-width="0.152">Study Day</text>
</svg>
</body></html>
